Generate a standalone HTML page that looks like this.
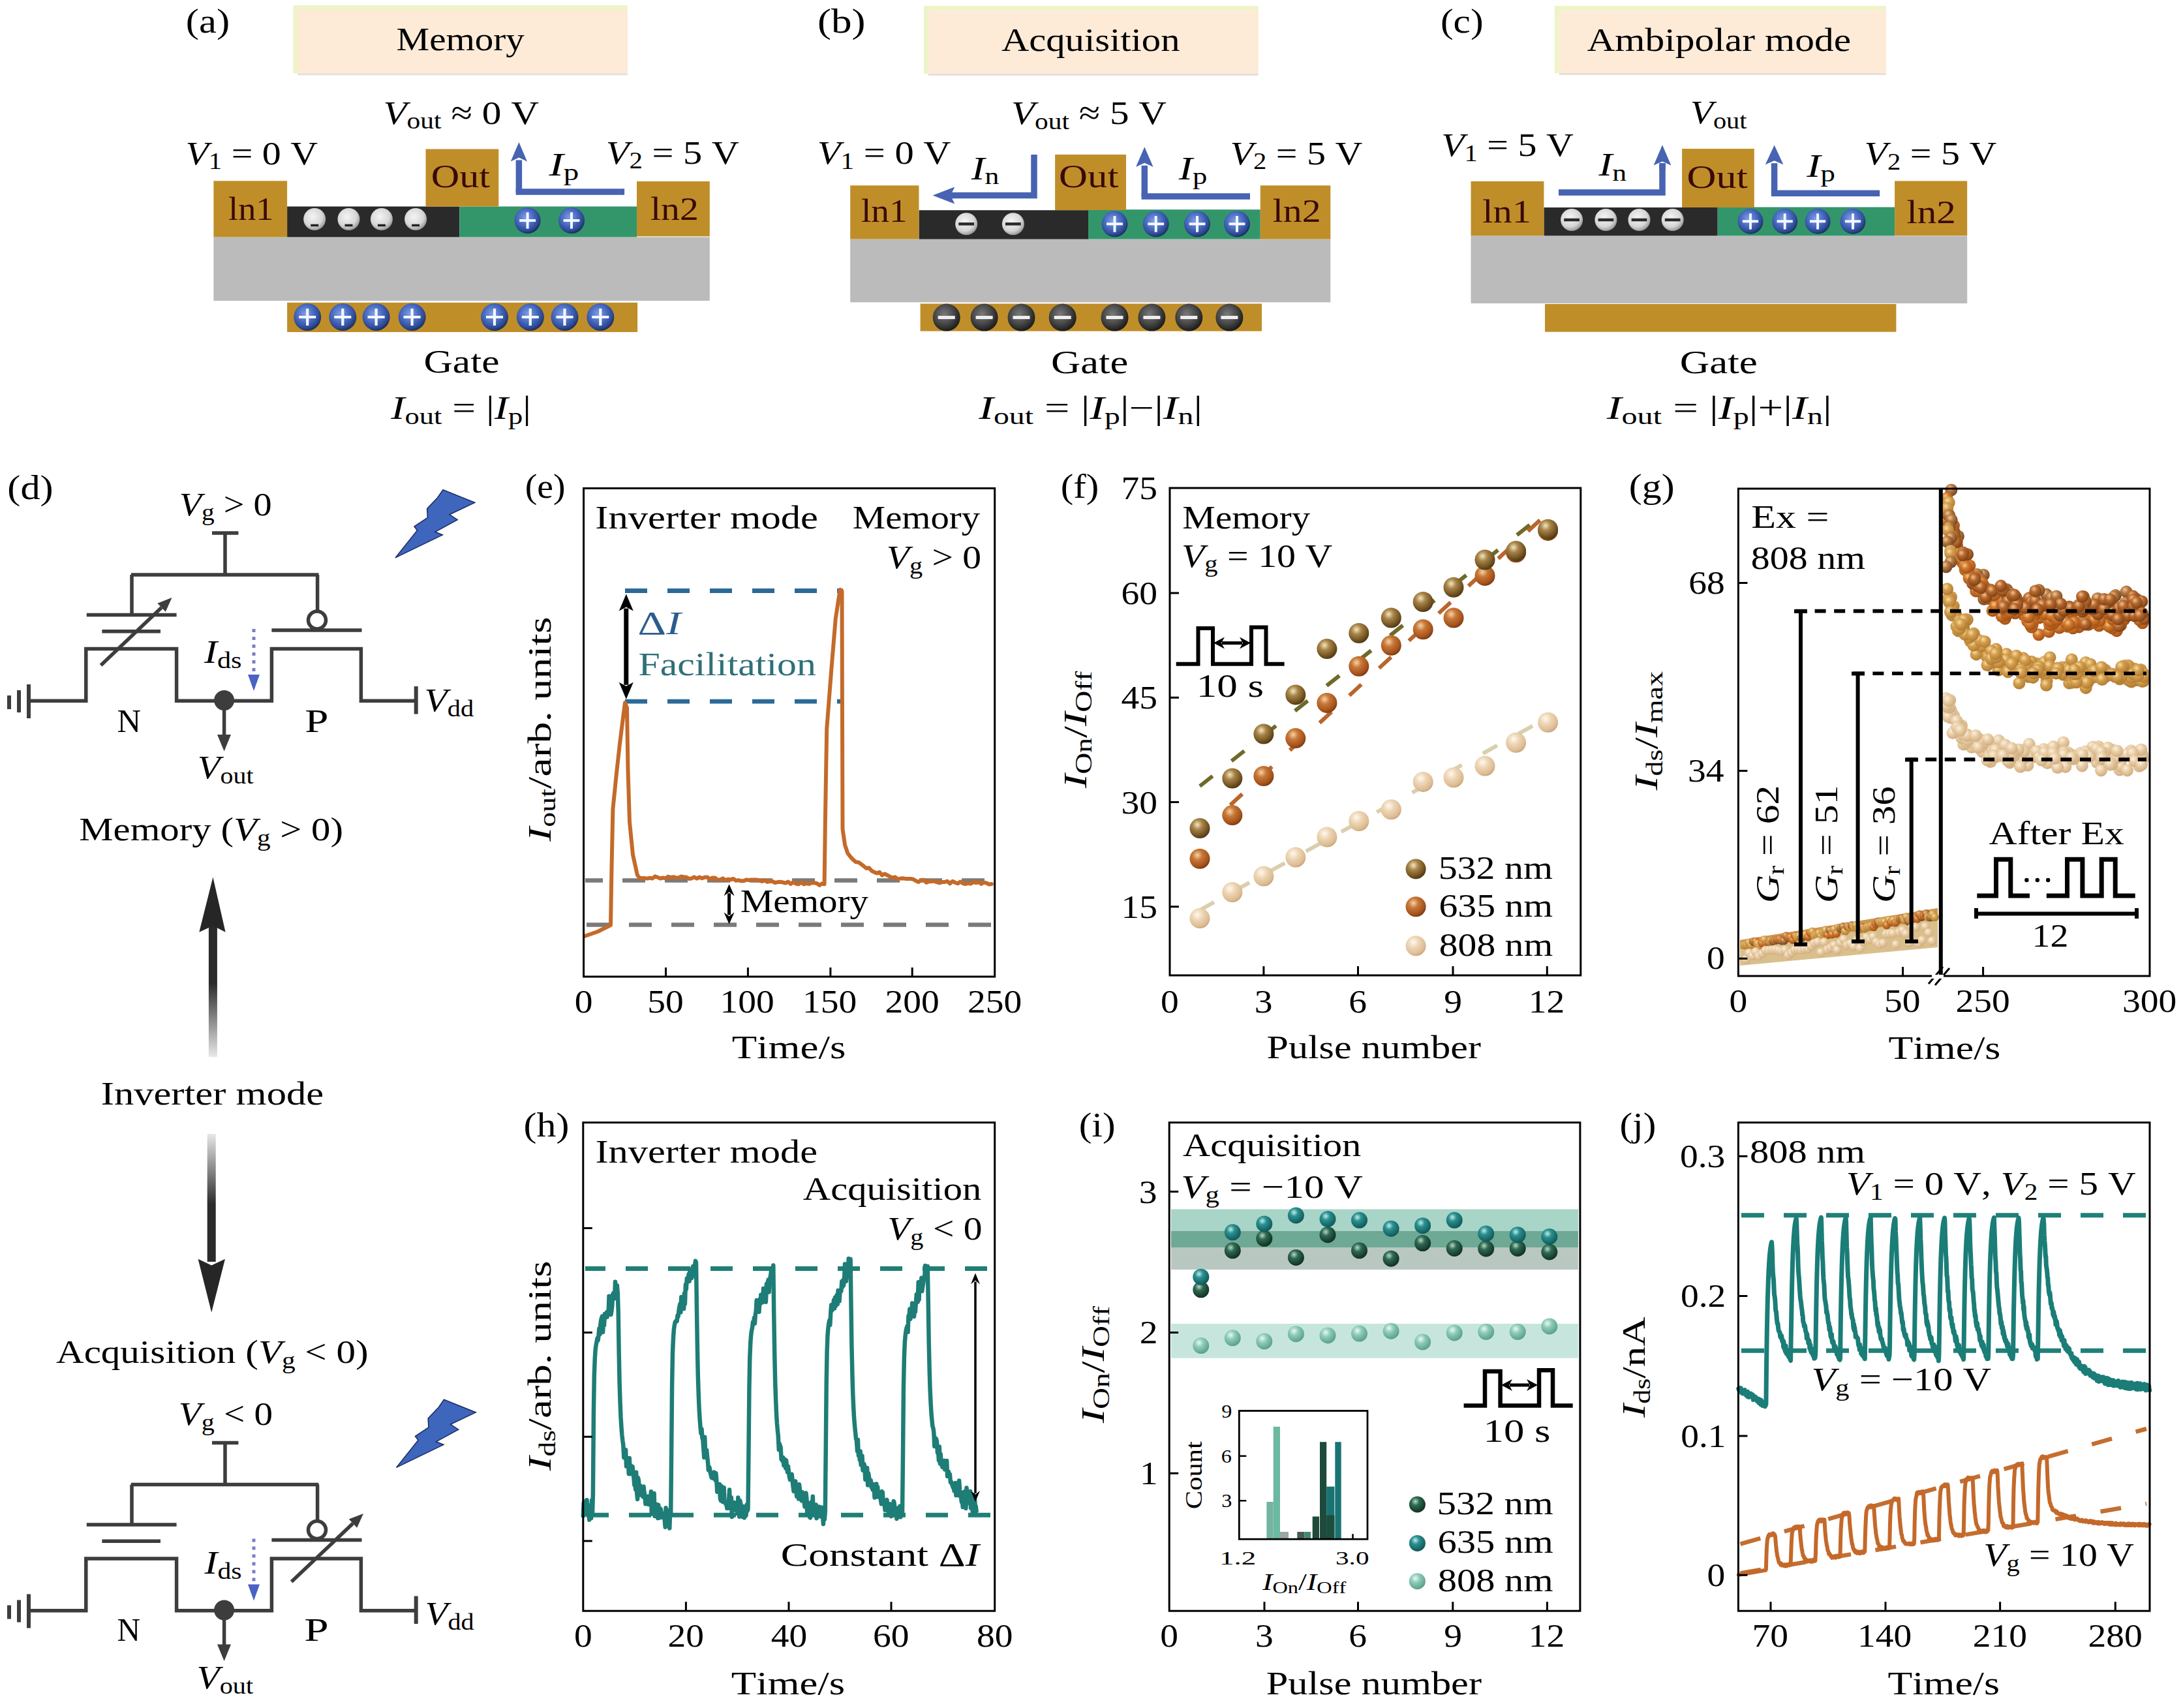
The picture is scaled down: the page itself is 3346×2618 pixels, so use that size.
<!DOCTYPE html>
<html><head><meta charset="utf-8"><title>figure</title>
<style>
html,body{margin:0;padding:0;background:#fff;}
svg{display:block;}
text{font-family:"Liberation Serif",serif;font-kerning:none;}
</style></head><body>
<svg width="3346" height="2618" viewBox="0 0 3346 2618">
<rect width="3346" height="2618" fill="#fff"/>
<defs>
<radialGradient id="gPlus" cx="0.42" cy="0.38" r="0.62">
 <stop offset="0" stop-color="#7f9ee8"/><stop offset="0.55" stop-color="#4466bb"/><stop offset="0.85" stop-color="#2c4890"/><stop offset="1" stop-color="#1d3060"/></radialGradient>
<radialGradient id="gWhite" cx="0.42" cy="0.38" r="0.62">
 <stop offset="0" stop-color="#f4f4f4"/><stop offset="0.7" stop-color="#d6d6d6"/><stop offset="1" stop-color="#9a9a9a"/></radialGradient>
<radialGradient id="gDark" cx="0.42" cy="0.38" r="0.62">
 <stop offset="0" stop-color="#7a7a7a"/><stop offset="0.6" stop-color="#454545"/><stop offset="1" stop-color="#1c1c1c"/></radialGradient>
<linearGradient id="gUp" x1="0" y1="0" x2="0" y2="1">
 <stop offset="0" stop-color="#2b2b2b"/><stop offset="0.45" stop-color="#2b2b2b"/><stop offset="1" stop-color="#e8e8e8"/></linearGradient>
<linearGradient id="gDn" x1="0" y1="0" x2="0" y2="1">
 <stop offset="0" stop-color="#e8e8e8"/><stop offset="0.55" stop-color="#2b2b2b"/><stop offset="1" stop-color="#2b2b2b"/></linearGradient>
<radialGradient id="b532" cx="0.38" cy="0.32" r="0.7">
 <stop offset="0" stop-color="#f3e6c0"/><stop offset="0.35" stop-color="#a88448"/><stop offset="0.8" stop-color="#6e5020"/><stop offset="1" stop-color="#4e3812"/></radialGradient>
<radialGradient id="b635" cx="0.38" cy="0.32" r="0.7">
 <stop offset="0" stop-color="#f6d2a8"/><stop offset="0.35" stop-color="#c87838"/><stop offset="0.8" stop-color="#a5521c"/><stop offset="1" stop-color="#7a3a10"/></radialGradient>
<radialGradient id="b808" cx="0.38" cy="0.32" r="0.7">
 <stop offset="0" stop-color="#fff8ee"/><stop offset="0.4" stop-color="#edd5b4"/><stop offset="0.85" stop-color="#dcbb92"/><stop offset="1" stop-color="#c8a47a"/></radialGradient>
<radialGradient id="gg1" cx="0.38" cy="0.32" r="0.7">
 <stop offset="0" stop-color="#f0c89a"/><stop offset="0.4" stop-color="#b87a40"/><stop offset="1" stop-color="#6e4422"/></radialGradient>
<radialGradient id="gg2" cx="0.38" cy="0.32" r="0.7">
 <stop offset="0" stop-color="#f6c890"/><stop offset="0.4" stop-color="#d0782c"/><stop offset="1" stop-color="#a04e14"/></radialGradient>
<radialGradient id="gg3" cx="0.38" cy="0.32" r="0.7">
 <stop offset="0" stop-color="#f8dca0"/><stop offset="0.4" stop-color="#d4a050"/><stop offset="1" stop-color="#b07a30"/></radialGradient>
<radialGradient id="gg5" cx="0.38" cy="0.32" r="0.7">
 <stop offset="0" stop-color="#f2c090"/><stop offset="0.4" stop-color="#b8682c"/><stop offset="1" stop-color="#7a4016"/></radialGradient>
<radialGradient id="gg4" cx="0.38" cy="0.32" r="0.7">
 <stop offset="0" stop-color="#fbefdc"/><stop offset="0.45" stop-color="#e8cca4"/><stop offset="1" stop-color="#d0ac80"/></radialGradient>
<radialGradient id="i532" cx="0.38" cy="0.32" r="0.7">
 <stop offset="0" stop-color="#b8d8c8"/><stop offset="0.35" stop-color="#2f6a52"/><stop offset="1" stop-color="#0f2e22"/></radialGradient>
<radialGradient id="i635" cx="0.38" cy="0.32" r="0.7">
 <stop offset="0" stop-color="#c0ecec"/><stop offset="0.35" stop-color="#2a9090"/><stop offset="1" stop-color="#105656"/></radialGradient>
<radialGradient id="i808" cx="0.38" cy="0.32" r="0.7">
 <stop offset="0" stop-color="#e8f8f2"/><stop offset="0.4" stop-color="#8ccab8"/><stop offset="1" stop-color="#5a9e8a"/></radialGradient>
</defs>
<rect x="449.3" y="8.2" width="512.7" height="104.1" fill="#eef4c8"/><rect x="456.3" y="15.2" width="505.7" height="97.1" fill="#fdebd8"/><rect x="456.3" y="112.3" width="505.7" height="3.0" fill="#e4e0dc"/><rect x="327.4" y="363.4" width="760.4" height="97.6" fill="#bbbbbb"/><rect x="440.1" y="463.8" width="537.0" height="45.2" fill="#bf8e29"/><rect x="440.1" y="316.5" width="264.2" height="46.9" fill="#2a2a2a"/><rect x="704.3" y="316.5" width="271.7" height="46.9" fill="#33966a"/><rect x="327.4" y="277.3" width="112.7" height="86.1" fill="#bf8e29"/><rect x="976.0" y="278.0" width="111.8" height="84.3" fill="#bf8e29"/><rect x="652.5" y="228.5" width="111.8" height="88.0" fill="#bf8e29"/><circle cx="482.2" cy="336.0" r="17.0" fill="url(#gWhite)"/><path d="M476.2 345.4H488.2" stroke="#222" stroke-width="3.5"/><circle cx="534.5" cy="336.0" r="17.0" fill="url(#gWhite)"/><path d="M528.5 345.4H540.5" stroke="#222" stroke-width="3.5"/><circle cx="584.9" cy="336.0" r="17.0" fill="url(#gWhite)"/><path d="M578.9 345.4H590.9" stroke="#222" stroke-width="3.5"/><circle cx="637.1" cy="336.0" r="17.0" fill="url(#gWhite)"/><path d="M631.1 345.4H643.1" stroke="#222" stroke-width="3.5"/><circle cx="808.6" cy="338.0" r="20.0" fill="url(#gPlus)"/><path d="M796.2 338.0H821.0M808.6 325.6V350.4" stroke="#f4f8ff" stroke-width="4.0"/><circle cx="876.0" cy="338.0" r="20.0" fill="url(#gPlus)"/><path d="M863.6 338.0H888.4M876.0 325.6V350.4" stroke="#f4f8ff" stroke-width="4.0"/><circle cx="471.2" cy="486.0" r="21.0" fill="url(#gPlus)"/><path d="M458.2 486.0H484.2M471.2 473.0V499.0" stroke="#f4f8ff" stroke-width="4.2"/><circle cx="525.3" cy="486.0" r="21.0" fill="url(#gPlus)"/><path d="M512.3 486.0H538.3M525.3 473.0V499.0" stroke="#f4f8ff" stroke-width="4.2"/><circle cx="576.6" cy="486.0" r="21.0" fill="url(#gPlus)"/><path d="M563.6 486.0H589.6M576.6 473.0V499.0" stroke="#f4f8ff" stroke-width="4.2"/><circle cx="631.6" cy="486.0" r="21.0" fill="url(#gPlus)"/><path d="M618.6 486.0H644.6M631.6 473.0V499.0" stroke="#f4f8ff" stroke-width="4.2"/><circle cx="758.0" cy="486.0" r="21.0" fill="url(#gPlus)"/><path d="M745.0 486.0H771.0M758.0 473.0V499.0" stroke="#f4f8ff" stroke-width="4.2"/><circle cx="812.8" cy="486.0" r="21.0" fill="url(#gPlus)"/><path d="M799.8 486.0H825.8M812.8 473.0V499.0" stroke="#f4f8ff" stroke-width="4.2"/><circle cx="865.5" cy="486.0" r="21.0" fill="url(#gPlus)"/><path d="M852.5 486.0H878.5M865.5 473.0V499.0" stroke="#f4f8ff" stroke-width="4.2"/><circle cx="920.3" cy="486.0" r="21.0" fill="url(#gPlus)"/><path d="M907.3 486.0H933.3M920.3 473.0V499.0" stroke="#f4f8ff" stroke-width="4.2"/><path d="M795.4 294.0V245.4" stroke="#4763b2" stroke-width="9.5"/><path d="M795.4 217.9L808.0 247.4L795.4 241.4L782.8 247.4Z" fill="#4763b2"/><path d="M790.6 294H957.1" stroke="#4763b2" stroke-width="9.5"/><g transform="translate(284.84,50.00) scale(1.1648,1)" fill="#000"><text x="0.00" y="0.00" font-size="52.00">(a)</text></g><g transform="translate(607.46,77.30) scale(1.1186,1)" fill="#000"><text x="0.00" y="0.00" font-size="51.00">Memory</text></g><g transform="translate(587.40,189.50) scale(1.1623,1)" fill="#000"><text x="0.00" y="0.00" font-size="51.00" font-style="italic">V</text><text x="31.15" y="7.65" font-size="35.70">out</text><text x="89.52" y="0.00" font-size="51.00">≈</text><text x="130.26" y="0.00" font-size="51.00">0</text><text x="168.51" y="0.00" font-size="51.00">V</text></g><g transform="translate(284.47,251.50) scale(1.1364,1)" fill="#000"><text x="0.00" y="0.00" font-size="51.00" font-style="italic">V</text><text x="31.15" y="7.65" font-size="35.70">1</text><text x="61.75" y="0.00" font-size="51.00">=</text><text x="103.27" y="0.00" font-size="51.00">0</text><text x="141.52" y="0.00" font-size="51.00">V</text></g><g transform="translate(928.75,250.60) scale(1.1456,1)" fill="#000"><text x="0.00" y="0.00" font-size="51.00" font-style="italic">V</text><text x="31.15" y="7.65" font-size="35.70">2</text><text x="61.75" y="0.00" font-size="51.00">=</text><text x="103.27" y="0.00" font-size="51.00">5</text><text x="141.52" y="0.00" font-size="51.00">V</text></g><g transform="translate(660.73,287.40) scale(1.1793,1)" fill="#3a0a08"><text x="0.00" y="0.00" font-size="51.00">Out</text></g><g transform="translate(350.11,336.90) scale(1.0657,1)" fill="#3a0a08"><text x="0.00" y="0.00" font-size="51.00">ln1</text></g><g transform="translate(997.04,337.00) scale(1.1348,1)" fill="#3a0a08"><text x="0.00" y="0.00" font-size="51.00">ln2</text></g><g transform="translate(841.46,268.50) scale(1.3170,1)" fill="#000"><text x="0.00" y="0.00" font-size="51.00" font-style="italic">I</text><text x="16.98" y="7.65" font-size="35.70">p</text></g><g transform="translate(649.48,571.20) scale(1.2055,1)" fill="#000"><text x="0.00" y="0.00" font-size="51.00">Gate</text></g><g transform="translate(599.25,642.10) scale(1.2482,1)" fill="#000"><text x="0.00" y="0.00" font-size="51.00" font-style="italic">I</text><text x="16.98" y="7.65" font-size="35.70">out</text><text x="75.35" y="0.00" font-size="51.00">=</text><text x="116.86" y="0.00" font-size="51.00">|</text><text x="127.07" y="0.00" font-size="51.00" font-style="italic">I</text><text x="144.06" y="7.65" font-size="35.70">p</text><text x="161.91" y="0.00" font-size="51.00">|</text></g><rect x="1416.0" y="9.0" width="512.5" height="104.0" fill="#eef4c8"/><rect x="1423.0" y="16.0" width="505.5" height="97.0" fill="#fdebd8"/><rect x="1423.0" y="113.0" width="505.5" height="3.0" fill="#e4e0dc"/><rect x="1303.2" y="366.5" width="736.1" height="96.9" fill="#bbbbbb"/><rect x="1410.6" y="465.5" width="523.4" height="42.1" fill="#bf8e29"/><rect x="1408.5" y="322.2" width="259.5" height="44.4" fill="#2a2a2a"/><rect x="1668.0" y="321.2" width="263.8" height="45.3" fill="#33966a"/><rect x="1303.2" y="284.3" width="105.3" height="82.2" fill="#bf8e29"/><rect x="1931.8" y="284.3" width="107.5" height="82.2" fill="#bf8e29"/><rect x="1617.1" y="236.9" width="108.9" height="85.1" fill="#bf8e29"/><circle cx="1481.2" cy="343.3" r="17.0" fill="url(#gWhite)"/><path d="M1469.3 343.3H1493.1" stroke="#2a2a2a" stroke-width="4.5"/><circle cx="1552.9" cy="343.3" r="17.0" fill="url(#gWhite)"/><path d="M1541.0 343.3H1564.8" stroke="#2a2a2a" stroke-width="4.5"/><circle cx="1708.5" cy="343.3" r="20.0" fill="url(#gPlus)"/><path d="M1696.1 343.3H1720.9M1708.5 330.9V355.7" stroke="#f4f8ff" stroke-width="4.0"/><circle cx="1771.7" cy="343.3" r="20.0" fill="url(#gPlus)"/><path d="M1759.3 343.3H1784.1M1771.7 330.9V355.7" stroke="#f4f8ff" stroke-width="4.0"/><circle cx="1835.0" cy="343.3" r="20.0" fill="url(#gPlus)"/><path d="M1822.6 343.3H1847.4M1835.0 330.9V355.7" stroke="#f4f8ff" stroke-width="4.0"/><circle cx="1896.0" cy="343.3" r="20.0" fill="url(#gPlus)"/><path d="M1883.6 343.3H1908.4M1896.0 330.9V355.7" stroke="#f4f8ff" stroke-width="4.0"/><circle cx="1450.7" cy="486.6" r="21.0" fill="url(#gDark)"/><path d="M1437.7 486.6H1463.7" stroke="#f0f0f0" stroke-width="5"/><circle cx="1508.6" cy="486.6" r="21.0" fill="url(#gDark)"/><path d="M1495.6 486.6H1521.6" stroke="#f0f0f0" stroke-width="5"/><circle cx="1565.5" cy="486.6" r="21.0" fill="url(#gDark)"/><path d="M1552.5 486.6H1578.5" stroke="#f0f0f0" stroke-width="5"/><circle cx="1628.7" cy="486.6" r="21.0" fill="url(#gDark)"/><path d="M1615.7 486.6H1641.7" stroke="#f0f0f0" stroke-width="5"/><circle cx="1708.5" cy="486.6" r="21.0" fill="url(#gDark)"/><path d="M1695.5 486.6H1721.5" stroke="#f0f0f0" stroke-width="5"/><circle cx="1765.4" cy="486.6" r="21.0" fill="url(#gDark)"/><path d="M1752.4 486.6H1778.4" stroke="#f0f0f0" stroke-width="5"/><circle cx="1822.3" cy="486.6" r="21.0" fill="url(#gDark)"/><path d="M1809.3 486.6H1835.3" stroke="#f0f0f0" stroke-width="5"/><circle cx="1884.4" cy="486.6" r="21.0" fill="url(#gDark)"/><path d="M1871.4 486.6H1897.4" stroke="#f0f0f0" stroke-width="5"/><path d="M1585 236.9V299.6H1450" stroke="#4763b2" stroke-width="9.5" fill="none"/><path d="M1429.6 299.6L1463.3 286.6L1457 299.6L1463.3 312.6Z" fill="#4763b2"/><path d="M1754.3 301.0V253.8" stroke="#4763b2" stroke-width="9.5"/><path d="M1754.3 225.3L1767.5 255.8L1754.3 249.8L1741.1 255.8Z" fill="#4763b2"/><path d="M1749.6 301H1916" stroke="#4763b2" stroke-width="9.5"/><g transform="translate(1253.03,50.00) scale(1.2129,1)" fill="#000"><text x="0.00" y="0.00" font-size="52.00">(b)</text></g><g transform="translate(1534.93,78.00) scale(1.1495,1)" fill="#000"><text x="0.00" y="0.00" font-size="51.00">Acquisition</text></g><g transform="translate(1549.91,190.00) scale(1.1598,1)" fill="#000"><text x="0.00" y="0.00" font-size="51.00" font-style="italic">V</text><text x="31.15" y="7.65" font-size="35.70">out</text><text x="89.52" y="0.00" font-size="51.00">≈</text><text x="130.26" y="0.00" font-size="51.00">5</text><text x="168.51" y="0.00" font-size="51.00">V</text></g><g transform="translate(1252.74,251.00) scale(1.1490,1)" fill="#000"><text x="0.00" y="0.00" font-size="51.00" font-style="italic">V</text><text x="31.15" y="7.65" font-size="35.70">1</text><text x="61.75" y="0.00" font-size="51.00">=</text><text x="103.27" y="0.00" font-size="51.00">0</text><text x="141.52" y="0.00" font-size="51.00">V</text></g><g transform="translate(1885.57,251.60) scale(1.1376,1)" fill="#000"><text x="0.00" y="0.00" font-size="51.00" font-style="italic">V</text><text x="31.15" y="7.65" font-size="35.70">2</text><text x="61.75" y="0.00" font-size="51.00">=</text><text x="103.27" y="0.00" font-size="51.00">5</text><text x="141.52" y="0.00" font-size="51.00">V</text></g><g transform="translate(1623.10,287.40) scale(1.1928,1)" fill="#3a0a08"><text x="0.00" y="0.00" font-size="51.00">Out</text></g><g transform="translate(1319.89,340.10) scale(1.0886,1)" fill="#3a0a08"><text x="0.00" y="0.00" font-size="51.00">ln1</text></g><g transform="translate(1950.74,340.10) scale(1.1331,1)" fill="#3a0a08"><text x="0.00" y="0.00" font-size="51.00">ln2</text></g><g transform="translate(1488.84,274.80) scale(1.2235,1)" fill="#000"><text x="0.00" y="0.00" font-size="51.00" font-style="italic">I</text><text x="16.98" y="7.65" font-size="35.70">n</text></g><g transform="translate(1806.75,274.80) scale(1.2516,1)" fill="#000"><text x="0.00" y="0.00" font-size="51.00" font-style="italic">I</text><text x="16.98" y="7.65" font-size="35.70">p</text></g><g transform="translate(1611.03,572.00) scale(1.2271,1)" fill="#000"><text x="0.00" y="0.00" font-size="51.00">Gate</text></g><g transform="translate(1500.27,642.10) scale(1.3386,1)" fill="#000"><text x="0.00" y="0.00" font-size="51.00" font-style="italic">I</text><text x="16.98" y="7.65" font-size="35.70">out</text><text x="75.35" y="0.00" font-size="51.00">=</text><text x="116.86" y="0.00" font-size="51.00">|</text><text x="127.07" y="0.00" font-size="51.00" font-style="italic">I</text><text x="144.06" y="7.65" font-size="35.70">p</text><text x="161.91" y="0.00" font-size="51.00">|−|</text><text x="211.09" y="0.00" font-size="51.00" font-style="italic">I</text><text x="228.07" y="7.65" font-size="35.70">n</text><text x="245.92" y="0.00" font-size="51.00">|</text></g><rect x="2382.8" y="9.0" width="507.9" height="103.0" fill="#eef4c8"/><rect x="2389.8" y="16.0" width="500.9" height="96.0" fill="#fdebd8"/><rect x="2389.8" y="112.0" width="500.9" height="3.0" fill="#e4e0dc"/><rect x="2254.5" y="361.3" width="760.7" height="103.7" fill="#bbbbbb"/><rect x="2368.0" y="466.0" width="538.4" height="42.7" fill="#bf8e29"/><rect x="2366.4" y="318.0" width="266.3" height="43.3" fill="#2a2a2a"/><rect x="2632.7" y="317.5" width="271.4" height="43.8" fill="#33966a"/><rect x="2254.5" y="277.9" width="111.9" height="83.4" fill="#bf8e29"/><rect x="2904.1" y="277.4" width="111.1" height="83.6" fill="#bf8e29"/><rect x="2578.1" y="228.0" width="110.7" height="90.0" fill="#bf8e29"/><circle cx="2409.1" cy="337.0" r="17.0" fill="url(#gWhite)"/><path d="M2397.2 337.0H2421.0" stroke="#2a2a2a" stroke-width="4.5"/><circle cx="2461.4" cy="337.0" r="17.0" fill="url(#gWhite)"/><path d="M2449.5 337.0H2473.3" stroke="#2a2a2a" stroke-width="4.5"/><circle cx="2512.5" cy="337.0" r="17.0" fill="url(#gWhite)"/><path d="M2500.6 337.0H2524.4" stroke="#2a2a2a" stroke-width="4.5"/><circle cx="2563.7" cy="337.0" r="17.0" fill="url(#gWhite)"/><path d="M2551.8 337.0H2575.6" stroke="#2a2a2a" stroke-width="4.5"/><circle cx="2683.0" cy="339.3" r="19.5" fill="url(#gPlus)"/><path d="M2670.9 339.3H2695.1M2683.0 327.2V351.4" stroke="#f4f8ff" stroke-width="3.9"/><circle cx="2735.7" cy="339.3" r="19.5" fill="url(#gPlus)"/><path d="M2723.6 339.3H2747.8M2735.7 327.2V351.4" stroke="#f4f8ff" stroke-width="3.9"/><circle cx="2786.1" cy="339.3" r="19.5" fill="url(#gPlus)"/><path d="M2774.0 339.3H2798.2M2786.1 327.2V351.4" stroke="#f4f8ff" stroke-width="3.9"/><circle cx="2840.0" cy="339.3" r="19.5" fill="url(#gPlus)"/><path d="M2827.9 339.3H2852.1M2840.0 327.2V351.4" stroke="#f4f8ff" stroke-width="3.9"/><path d="M2389 295H2548V250" stroke="#4763b2" stroke-width="9.5" fill="none"/><path d="M2548.0 260.0V251.4" stroke="#4763b2" stroke-width="9.5"/><path d="M2548.0 222.3L2561.4 253.4L2548.0 247.4L2534.6 253.4Z" fill="#4763b2"/><path d="M2719.6 296.3V250.2" stroke="#4763b2" stroke-width="9.5"/><path d="M2719.6 222.5L2733.4 252.2L2719.6 246.2L2705.8 252.2Z" fill="#4763b2"/><path d="M2714.9 296.3H2881.2" stroke="#4763b2" stroke-width="9.5"/><g transform="translate(2207.90,50.00) scale(1.1384,1)" fill="#000"><text x="0.00" y="0.00" font-size="52.00">(c)</text></g><g transform="translate(2432.42,78.00) scale(1.1661,1)" fill="#000"><text x="0.00" y="0.00" font-size="51.00">Ambipolar</text><text x="233.71" y="0.00" font-size="51.00">mode</text></g><g transform="translate(2590.69,189.20) scale(1.1313,1)" fill="#000"><text x="0.00" y="0.00" font-size="51.00" font-style="italic">V</text><text x="31.15" y="7.65" font-size="35.70">out</text></g><g transform="translate(2209.17,239.00) scale(1.1370,1)" fill="#000"><text x="0.00" y="0.00" font-size="51.00" font-style="italic">V</text><text x="31.15" y="7.65" font-size="35.70">1</text><text x="61.75" y="0.00" font-size="51.00">=</text><text x="103.27" y="0.00" font-size="51.00">5</text><text x="141.52" y="0.00" font-size="51.00">V</text></g><g transform="translate(2857.57,252.20) scale(1.1376,1)" fill="#000"><text x="0.00" y="0.00" font-size="51.00" font-style="italic">V</text><text x="31.15" y="7.65" font-size="35.70">2</text><text x="61.75" y="0.00" font-size="51.00">=</text><text x="103.27" y="0.00" font-size="51.00">5</text><text x="141.52" y="0.00" font-size="51.00">V</text></g><g transform="translate(2585.45,287.80) scale(1.2212,1)" fill="#3a0a08"><text x="0.00" y="0.00" font-size="51.00">Out</text></g><g transform="translate(2272.23,341.30) scale(1.1476,1)" fill="#3a0a08"><text x="0.00" y="0.00" font-size="51.00">ln1</text></g><g transform="translate(2922.42,341.60) scale(1.1576,1)" fill="#3a0a08"><text x="0.00" y="0.00" font-size="51.00">ln2</text></g><g transform="translate(2450.44,269.00) scale(1.2264,1)" fill="#000"><text x="0.00" y="0.00" font-size="51.00" font-style="italic">I</text><text x="16.98" y="7.65" font-size="35.70">n</text></g><g transform="translate(2769.25,270.60) scale(1.2575,1)" fill="#000"><text x="0.00" y="0.00" font-size="51.00" font-style="italic">I</text><text x="16.98" y="7.65" font-size="35.70">p</text></g><g transform="translate(2574.71,572.00) scale(1.2379,1)" fill="#000"><text x="0.00" y="0.00" font-size="51.00">Gate</text></g><g transform="translate(2462.67,642.10) scale(1.3473,1)" fill="#000"><text x="0.00" y="0.00" font-size="51.00" font-style="italic">I</text><text x="16.98" y="7.65" font-size="35.70">out</text><text x="75.35" y="0.00" font-size="51.00">=</text><text x="116.86" y="0.00" font-size="51.00">|</text><text x="127.07" y="0.00" font-size="51.00" font-style="italic">I</text><text x="144.06" y="7.65" font-size="35.70">p</text><text x="161.91" y="0.00" font-size="51.00">|+|</text><text x="211.09" y="0.00" font-size="51.00" font-style="italic">I</text><text x="228.07" y="7.65" font-size="35.70">n</text><text x="245.92" y="0.00" font-size="51.00">|</text></g>
<g transform="translate(11.35,765.00) scale(1.1594,1)" fill="#000"><text x="0.00" y="0.00" font-size="52.00">(d)</text></g><g transform="translate(0,0.0)"><path d="M325 817H365.4M345 817V881M201 881H488.4M202 881V942.5M132.8 942.5H270.6M156.4 967.7H246M416.4 966H554.5M486.6 881V935" stroke="#3d3d3d" stroke-width="5.5" fill="none"/><path d="M45.7 1074.2H131.8V994.4H270.6V1074.2H416.4V994.4H553.4V1074.2H637.7" stroke="#3d3d3d" stroke-width="5.5" fill="none" stroke-linejoin="miter"/><path d="M637.7 1052V1094.5" stroke="#3d3d3d" stroke-width="6"/><path d="M44 1049V1101M29 1058V1092M14 1066V1087" stroke="#3d3d3d" stroke-width="6"/><circle cx="486" cy="950.5" r="13.5" stroke="#3d3d3d" stroke-width="5.5" fill="none"/><circle cx="343.6" cy="1073.5" r="15.5" fill="#3d3d3d"/><path d="M343.6 1073V1132" stroke="#3d3d3d" stroke-width="5.5"/><path d="M333 1126L354 1126L343.6 1151.5Z" fill="#3d3d3d"/><path d="M154.6 1019.7L247.6 931.2" stroke="#3d3d3d" stroke-width="5.5"/><path d="M263.5 916.0L253.8 937.7L241.4 924.7Z" fill="#3d3d3d"/><path d="M389 964V1036" stroke="#7c7cc8" stroke-width="5" stroke-dasharray="5 7"/><path d="M380 1034L398 1034L389 1059Z" fill="#4a62c4"/></g><polygon points="679.0,750.7 727.7,770.4 689.0,788.7 701.1,796.7 666.9,815.3 678.3,819.9 606.0,854.9 639.5,813.0 635.0,807.0 655.4,793.3 654.7,779.6 670.7,762.8" fill="#3e66bd" stroke="#1f2f66" stroke-width="1.6" stroke-linejoin="miter"/><g transform="translate(274.66,789.60) scale(1.1034,1)" fill="#000"><text x="0.00" y="0.00" font-size="51.00" font-style="italic">V</text><text x="31.15" y="7.65" font-size="35.70">g</text><text x="61.75" y="0.00" font-size="51.00">&gt;</text><text x="103.27" y="0.00" font-size="51.00">0</text></g><g transform="translate(312.94,1016.00) scale(1.1819,1)" fill="#000"><text x="0.00" y="0.00" font-size="51.00" font-style="italic">I</text><text x="16.98" y="7.65" font-size="35.70">ds</text></g><g transform="translate(179.54,1121.60) scale(0.9944,1)" fill="#000"><text x="0.00" y="0.00" font-size="51.00">N</text></g><g transform="translate(467.13,1121.60) scale(1.2755,1)" fill="#000"><text x="0.00" y="0.00" font-size="51.00">P</text></g><g transform="translate(650.49,1090.00) scale(1.1309,1)" fill="#000"><text x="0.00" y="0.00" font-size="51.00" font-style="italic">V</text><text x="31.15" y="7.65" font-size="35.70">dd</text></g><g transform="translate(302.72,1193.00) scale(1.1178,1)" fill="#000"><text x="0.00" y="0.00" font-size="51.00" font-style="italic">V</text><text x="31.15" y="7.65" font-size="35.70">out</text></g><g transform="translate(121.31,1288.00) scale(1.1528,1)" fill="#000"><text x="0.00" y="0.00" font-size="51.00">Memory</text><text x="188.39" y="0.00" font-size="51.00">(</text><text x="205.37" y="0.00" font-size="51.00" font-style="italic">V</text><text x="236.52" y="7.65" font-size="35.70">g</text><text x="267.12" y="0.00" font-size="51.00">&gt;</text><text x="308.63" y="0.00" font-size="51.00">0)</text></g><rect x="319.9" y="1415" width="13" height="205" fill="url(#gUp)"/><path d="M326.4 1344.5L345.6 1428.8L326.4 1419L305.3 1428.8Z" fill="#262626"/><g transform="translate(154.71,1693.40) scale(1.1877,1)" fill="#000"><text x="0.00" y="0.00" font-size="51.00">Inverter</text><text x="174.14" y="0.00" font-size="51.00">mode</text></g><rect x="317.7" y="1738" width="13" height="196" fill="url(#gDn)"/><path d="M324.2 2011.8L345 1929.8L324.2 1939.5L303.6 1929.8Z" fill="#262626"/><g transform="translate(86.02,2089.00) scale(1.1574,1)" fill="#000"><text x="0.00" y="0.00" font-size="51.00">Acquisition</text><text x="250.74" y="0.00" font-size="51.00">(</text><text x="267.73" y="0.00" font-size="51.00" font-style="italic">V</text><text x="298.88" y="7.65" font-size="35.70">g</text><text x="329.48" y="0.00" font-size="51.00">&lt;</text><text x="370.99" y="0.00" font-size="51.00">0)</text></g><g transform="translate(0,1394.5)"><path d="M325 817H365.4M345 817V881M201 881H488.4M202 881V942.5M132.8 942.5H270.6M156.4 967.7H246M416.4 966H554.5M486.6 881V935" stroke="#3d3d3d" stroke-width="5.5" fill="none"/><path d="M45.7 1074.2H131.8V994.4H270.6V1074.2H416.4V994.4H553.4V1074.2H637.7" stroke="#3d3d3d" stroke-width="5.5" fill="none" stroke-linejoin="miter"/><path d="M637.7 1052V1094.5" stroke="#3d3d3d" stroke-width="6"/><path d="M44 1049V1101M29 1058V1092M14 1066V1087" stroke="#3d3d3d" stroke-width="6"/><circle cx="486" cy="950.5" r="13.5" stroke="#3d3d3d" stroke-width="5.5" fill="none"/><circle cx="343.6" cy="1073.5" r="15.5" fill="#3d3d3d"/><path d="M343.6 1073V1132" stroke="#3d3d3d" stroke-width="5.5"/><path d="M333 1126L354 1126L343.6 1151.5Z" fill="#3d3d3d"/><path d="M446.7 1030.0L541.0 940.6" stroke="#3d3d3d" stroke-width="5.5"/><path d="M557.0 925.5L547.2 947.2L534.8 934.1Z" fill="#3d3d3d"/><path d="M389 964V1036" stroke="#7c7cc8" stroke-width="5" stroke-dasharray="5 7"/><path d="M380 1034L398 1034L389 1059Z" fill="#4a62c4"/></g><polygon points="680.5,2145.2 729.2,2164.9 690.5,2183.2 702.6,2191.2 668.4,2209.8 679.8,2214.4 607.5,2249.4 641.0,2207.5 636.5,2201.5 656.9,2187.8 656.2,2174.1 672.2,2157.3" fill="#3e66bd" stroke="#1f2f66" stroke-width="1.6" stroke-linejoin="miter"/><g transform="translate(273.81,2184.00) scale(1.1212,1)" fill="#000"><text x="0.00" y="0.00" font-size="51.00" font-style="italic">V</text><text x="31.15" y="7.65" font-size="35.70">g</text><text x="61.75" y="0.00" font-size="51.00">&lt;</text><text x="103.27" y="0.00" font-size="51.00">0</text></g><g transform="translate(313.53,2412.00) scale(1.1693,1)" fill="#000"><text x="0.00" y="0.00" font-size="51.00" font-style="italic">I</text><text x="16.98" y="7.65" font-size="35.70">ds</text></g><g transform="translate(179.58,2514.80) scale(0.9652,1)" fill="#000"><text x="0.00" y="0.00" font-size="51.00">N</text></g><g transform="translate(466.26,2514.80) scale(1.3198,1)" fill="#000"><text x="0.00" y="0.00" font-size="51.00">P</text></g><g transform="translate(651.51,2490.40) scale(1.1215,1)" fill="#000"><text x="0.00" y="0.00" font-size="51.00" font-style="italic">V</text><text x="31.15" y="7.65" font-size="35.70">dd</text></g><g transform="translate(301.59,2588.00) scale(1.1286,1)" fill="#000"><text x="0.00" y="0.00" font-size="51.00" font-style="italic">V</text><text x="31.15" y="7.65" font-size="35.70">out</text></g>
<g transform="translate(804.75,763.00) scale(1.0726,1)" fill="#000"><text x="0.00" y="0.00" font-size="52.00">(e)</text></g><path d="M958 905.5H1292M958 1075.2H1292" stroke="#2b6a98" stroke-width="6.8" stroke-dasharray="34 31"/><path d="M897 1349.5H1522" stroke="#7a7a7a" stroke-width="6.5" stroke-dasharray="35 30" stroke-dashoffset="8"/><path d="M899 1417.4H1522" stroke="#7a7a7a" stroke-width="6.5" stroke-dasharray="35 30"/><polyline points="896.0,1435.0 916.0,1428.0 936.0,1418.0 937.5,1330.0 939.4,1240.0 945.0,1185.0 950.0,1140.0 955.0,1100.0 958.0,1077.0 961.0,1085.0 962.5,1180.0 965.0,1260.0 970.0,1310.0 976.8,1341.0 980.0,1345.4 984.0,1345.9 988.0,1346.0 992.0,1346.6 996.0,1345.8 1000.0,1346.5 1004.0,1343.2 1008.0,1344.8 1012.0,1346.5 1016.0,1345.5 1020.0,1346.4 1024.0,1343.6 1028.0,1344.9 1032.0,1344.1 1036.0,1345.2 1040.0,1345.4 1044.0,1343.4 1048.0,1344.2 1052.0,1344.5 1056.0,1346.9 1060.0,1346.4 1064.0,1344.3 1068.0,1346.7 1072.0,1344.5 1076.0,1346.3 1080.0,1344.7 1084.0,1344.4 1088.0,1347.6 1092.0,1345.4 1096.0,1345.6 1100.0,1348.5 1104.0,1348.3 1108.0,1346.4 1112.0,1349.0 1116.0,1347.7 1120.0,1348.4 1124.0,1346.9 1128.0,1349.8 1132.0,1349.1 1136.0,1350.3 1140.0,1350.3 1144.0,1348.4 1148.0,1348.9 1152.0,1348.4 1156.0,1348.6 1160.0,1348.6 1164.0,1349.7 1168.0,1351.0 1172.0,1349.1 1176.0,1351.8 1180.0,1350.8 1184.0,1350.9 1188.0,1353.0 1192.0,1352.1 1196.0,1351.7 1200.0,1352.5 1204.0,1353.6 1208.0,1351.5 1212.0,1355.0 1216.0,1351.8 1220.0,1354.6 1224.0,1355.2 1228.0,1352.4 1232.0,1355.3 1236.0,1354.0 1240.0,1354.9 1244.0,1353.1 1248.0,1353.3 1252.0,1354.0 1256.0,1356.9 1260.0,1354.3 1263.6,1355.3 1265.0,1250.0 1267.2,1117.8 1274.0,1030.0 1280.8,948.0 1287.6,903.8 1290.5,906.0 1291.0,1100.0 1291.5,1270.7 1295.0,1295.0 1299.4,1308.0 1304.0,1313.9 1308.0,1318.1 1312.0,1321.3 1316.0,1321.8 1320.0,1324.6 1324.0,1327.7 1328.0,1331.0 1332.0,1330.3 1336.0,1334.8 1340.0,1336.7 1344.0,1338.5 1348.0,1336.7 1352.0,1341.6 1356.0,1339.4 1360.0,1341.5 1364.0,1343.6 1368.0,1345.7 1372.0,1344.3 1376.0,1347.4 1380.0,1346.6 1384.0,1346.3 1388.0,1346.9 1392.0,1346.9 1396.0,1347.0 1400.0,1347.7 1404.0,1350.3 1408.0,1351.9 1412.0,1348.9 1416.0,1348.8 1420.0,1352.8 1424.0,1351.3 1428.0,1351.0 1432.0,1350.6 1436.0,1352.2 1440.0,1353.3 1444.0,1352.0 1448.0,1352.0 1452.0,1350.7 1456.0,1354.3 1460.0,1350.8 1464.0,1352.8 1468.0,1354.3 1472.0,1351.5 1476.0,1354.0 1480.0,1355.0 1484.0,1353.8 1488.0,1354.5 1492.0,1351.8 1496.0,1353.2 1500.0,1352.1 1504.0,1354.9 1508.0,1352.7 1512.0,1353.4 1516.0,1355.6 1520.0,1355.1" fill="none" stroke="#c46a2a" stroke-width="6.0" stroke-linejoin="round" stroke-linecap="round"/><path d="M959.8 932.6V1049.8" stroke="#000" stroke-width="7.0"/><path d="M959.8 910.6L970.8 936.6L959.8 930.6L948.8 936.6Z" fill="#000"/><path d="M959.8 1071.8L970.8 1045.8L959.8 1051.8L948.8 1045.8Z" fill="#000"/><path d="M1117.6 1369.3V1402.4" stroke="#000" stroke-width="5.0"/><path d="M1117.6 1355.3L1125.6 1373.3L1117.6 1367.3L1109.6 1373.3Z" fill="#000"/><path d="M1117.6 1416.4L1125.6 1398.4L1117.6 1404.4L1109.6 1398.4Z" fill="#000"/><g transform="translate(977.62,971.70) scale(1.3285,1)" fill="#2a5d8f"><text x="0.00" y="0.00" font-size="51.00">Δ</text><text x="32.80" y="0.00" font-size="51.00" font-style="italic">I</text></g><g transform="translate(978.48,1034.50) scale(1.1728,1)" fill="#2f7078"><text x="0.00" y="0.00" font-size="51.00">Facilitation</text></g><g transform="translate(1134.66,1397.70) scale(1.1180,1)" fill="#000"><text x="0.00" y="0.00" font-size="51.00">Memory</text></g><g transform="translate(912.21,809.60) scale(1.1894,1)" fill="#000"><text x="0.00" y="0.00" font-size="51.00">Inverter</text><text x="174.14" y="0.00" font-size="51.00">mode</text></g><g transform="translate(1306.66,809.60) scale(1.1134,1)" fill="#000"><text x="0.00" y="0.00" font-size="51.00">Memory</text></g><g transform="translate(1358.69,871.40) scale(1.1300,1)" fill="#000"><text x="0.00" y="0.00" font-size="51.00" font-style="italic">V</text><text x="31.15" y="7.65" font-size="35.70">g</text><text x="61.75" y="0.00" font-size="51.00">&gt;</text><text x="103.27" y="0.00" font-size="51.00">0</text></g><rect x="894.6" y="748.5" width="630.1" height="748.5" fill="none" stroke="#000" stroke-width="3.0"/><path d="M1020.5 1497.0V1483.0M1146.4 1497.0V1483.0M1272.9 1497.0V1483.0M1398.2 1497.0V1483.0" stroke="#000" stroke-width="3.0"/><g transform="translate(880.73,1551.50) scale(1.1100,1)" fill="#000"><text x="0.00" y="0.00" font-size="50.00">0</text></g><g transform="translate(992.19,1551.50) scale(1.1100,1)" fill="#000"><text x="0.00" y="0.00" font-size="50.00">50</text></g><g transform="translate(1103.39,1551.50) scale(1.1100,1)" fill="#000"><text x="0.00" y="0.00" font-size="50.00">100</text></g><g transform="translate(1229.89,1551.50) scale(1.1100,1)" fill="#000"><text x="0.00" y="0.00" font-size="50.00">150</text></g><g transform="translate(1356.41,1551.50) scale(1.1100,1)" fill="#000"><text x="0.00" y="0.00" font-size="50.00">200</text></g><g transform="translate(1482.91,1551.50) scale(1.1100,1)" fill="#000"><text x="0.00" y="0.00" font-size="50.00">250</text></g><g transform="translate(1121.66,1621.70) scale(1.2342,1)" fill="#000"><text x="0.00" y="0.00" font-size="51.00">Time/s</text></g><g transform="translate(843.50,1290.00) rotate(-90) scale(1.2916,1) translate(0.20,0)" fill="#000"><text x="0.00" y="0.00" font-size="51.00" font-style="italic">I</text><text x="16.98" y="7.65" font-size="35.70">out</text><text x="62.60" y="0.00" font-size="51.00">/arb.</text><text x="167.39" y="0.00" font-size="51.00">units</text></g>
<g transform="translate(1625.82,763.00) scale(1.1271,1)" fill="#000"><text x="0.00" y="0.00" font-size="52.00">(f)</text></g><path d="M1839 1395L2372 1100" stroke="#d9cfae" stroke-width="6" stroke-dasharray="25 37"/><path d="M1839 1205L2372 783" stroke="#6f6a2a" stroke-width="6" stroke-dasharray="25 37"/><path d="M1885.7 1234L2377 782" stroke="#b8662c" stroke-width="6" stroke-dasharray="25 37"/><circle cx="1839.0" cy="1407.6" r="15.5" fill="url(#b808)"/><circle cx="1888.8" cy="1367.5" r="15.5" fill="url(#b808)"/><circle cx="1936.9" cy="1343.0" r="15.5" fill="url(#b808)"/><circle cx="1985.8" cy="1314.0" r="15.5" fill="url(#b808)"/><circle cx="2033.9" cy="1283.0" r="15.5" fill="url(#b808)"/><circle cx="2082.8" cy="1258.5" r="15.5" fill="url(#b808)"/><circle cx="2132.3" cy="1240.7" r="15.5" fill="url(#b808)"/><circle cx="2181.2" cy="1198.4" r="15.5" fill="url(#b808)"/><circle cx="2228.0" cy="1191.7" r="15.5" fill="url(#b808)"/><circle cx="2276.0" cy="1174.0" r="15.5" fill="url(#b808)"/><circle cx="2323.6" cy="1138.3" r="15.5" fill="url(#b808)"/><circle cx="2372.6" cy="1107.2" r="15.5" fill="url(#b808)"/><circle cx="1839.0" cy="1316.3" r="15.5" fill="url(#b635)"/><circle cx="1888.8" cy="1249.6" r="15.5" fill="url(#b635)"/><circle cx="1936.9" cy="1189.5" r="15.5" fill="url(#b635)"/><circle cx="1985.8" cy="1131.6" r="15.5" fill="url(#b635)"/><circle cx="2033.9" cy="1077.4" r="15.5" fill="url(#b635)"/><circle cx="2082.8" cy="1021.3" r="15.5" fill="url(#b635)"/><circle cx="2132.3" cy="989.2" r="15.5" fill="url(#b635)"/><circle cx="2181.2" cy="964.7" r="15.5" fill="url(#b635)"/><circle cx="2228.0" cy="947.0" r="15.5" fill="url(#b635)"/><circle cx="2276.0" cy="882.4" r="15.5" fill="url(#b635)"/><circle cx="2323.6" cy="846.8" r="15.5" fill="url(#b635)"/><circle cx="2372.6" cy="813.4" r="15.5" fill="url(#b635)"/><circle cx="1839.0" cy="1269.6" r="15.5" fill="url(#b532)"/><circle cx="1888.8" cy="1193.0" r="15.5" fill="url(#b532)"/><circle cx="1936.9" cy="1125.0" r="15.5" fill="url(#b532)"/><circle cx="1985.8" cy="1064.9" r="15.5" fill="url(#b532)"/><circle cx="2033.9" cy="994.6" r="15.5" fill="url(#b532)"/><circle cx="2082.8" cy="970.5" r="15.5" fill="url(#b532)"/><circle cx="2132.3" cy="947.0" r="15.5" fill="url(#b532)"/><circle cx="2181.2" cy="922.5" r="15.5" fill="url(#b532)"/><circle cx="2228.0" cy="900.2" r="15.5" fill="url(#b532)"/><circle cx="2276.0" cy="858.0" r="15.5" fill="url(#b532)"/><circle cx="2323.6" cy="844.6" r="15.5" fill="url(#b532)"/><circle cx="2372.6" cy="811.2" r="15.5" fill="url(#b532)"/><g transform="translate(1812.36,809.60) scale(1.1151,1)" fill="#000"><text x="0.00" y="0.00" font-size="51.00">Memory</text></g><g transform="translate(1810.98,868.70) scale(1.1350,1)" fill="#000"><text x="0.00" y="0.00" font-size="51.00" font-style="italic">V</text><text x="31.15" y="7.65" font-size="35.70">g</text><text x="61.75" y="0.00" font-size="51.00">=</text><text x="103.27" y="0.00" font-size="51.00">10</text><text x="167.02" y="0.00" font-size="51.00">V</text></g><path d="M1802.7 1017.7H1836.5V963H1859V1017.7H1918V961.4H1940.5V1017.7H1968.6" fill="none" stroke="#000" stroke-width="6"/><path d="M1873.0 985.6H1904.0" stroke="#000" stroke-width="5.0"/><path d="M1860.0 985.6L1877.0 976.6L1872.0 985.6L1877.0 994.6Z" fill="#000"/><path d="M1917.0 985.6L1900.0 976.6L1905.0 985.6L1900.0 994.6Z" fill="#000"/><g transform="translate(1833.75,1068.30) scale(1.2372,1)" fill="#000"><text x="0.00" y="0.00" font-size="51.00">10</text><text x="63.75" y="0.00" font-size="51.00">s</text></g><circle cx="2170.1" cy="1331.9" r="15.5" fill="url(#b532)"/><g transform="translate(2204.63,1346.90) scale(1.1370,1)" fill="#000"><text x="0.00" y="0.00" font-size="51.00">532</text><text x="89.25" y="0.00" font-size="51.00">nm</text></g><circle cx="2170.1" cy="1389.8" r="15.5" fill="url(#b635)"/><g transform="translate(2205.52,1404.80) scale(1.1312,1)" fill="#000"><text x="0.00" y="0.00" font-size="51.00">635</text><text x="89.25" y="0.00" font-size="51.00">nm</text></g><circle cx="2170.1" cy="1449.8" r="15.5" fill="url(#b808)"/><g transform="translate(2205.81,1464.80) scale(1.1293,1)" fill="#000"><text x="0.00" y="0.00" font-size="51.00">808</text><text x="89.25" y="0.00" font-size="51.00">nm</text></g><rect x="1793.0" y="748.0" width="629.8" height="747.0" fill="none" stroke="#000" stroke-width="3.0"/><path d="M1936.9 1495.0V1481.0M2081.5 1495.0V1481.0M2227.0 1495.0V1481.0M2371.3 1495.0V1481.0" stroke="#000" stroke-width="3.0"/><path d="M1793.0 909.1H1807.0M1793.0 1069.3H1807.0M1793.0 1229.6H1807.0M1793.0 1389.8H1807.0" stroke="#000" stroke-width="3.0"/><g transform="translate(1779.12,1551.50) scale(1.1100,1)" fill="#000"><text x="0.00" y="0.00" font-size="50.00">0</text></g><g transform="translate(1922.78,1551.50) scale(1.1100,1)" fill="#000"><text x="0.00" y="0.00" font-size="50.00">3</text></g><g transform="translate(2067.26,1551.50) scale(1.1100,1)" fill="#000"><text x="0.00" y="0.00" font-size="50.00">6</text></g><g transform="translate(2213.37,1551.50) scale(1.1100,1)" fill="#000"><text x="0.00" y="0.00" font-size="50.00">9</text></g><g transform="translate(2342.64,1551.50) scale(1.1100,1)" fill="#000"><text x="0.00" y="0.00" font-size="50.00">12</text></g><g transform="translate(1718.47,765.00) scale(1.1100,1)" fill="#000"><text x="0.00" y="0.00" font-size="50.00">75</text></g><g transform="translate(1718.41,926.10) scale(1.1100,1)" fill="#000"><text x="0.00" y="0.00" font-size="50.00">60</text></g><g transform="translate(1718.47,1086.30) scale(1.1100,1)" fill="#000"><text x="0.00" y="0.00" font-size="50.00">45</text></g><g transform="translate(1718.41,1246.60) scale(1.1100,1)" fill="#000"><text x="0.00" y="0.00" font-size="50.00">30</text></g><g transform="translate(1718.47,1406.80) scale(1.1100,1)" fill="#000"><text x="0.00" y="0.00" font-size="50.00">15</text></g><g transform="translate(1941.57,1622.00) scale(1.1767,1)" fill="#000"><text x="0.00" y="0.00" font-size="51.00">Pulse</text><text x="123.27" y="0.00" font-size="51.00">number</text></g><g transform="translate(1665.00,1208.30) rotate(-90) scale(1.2704,1) translate(0.20,0)" fill="#000"><text x="0.00" y="0.00" font-size="51.00" font-style="italic">I</text><text x="16.98" y="7.65" font-size="35.70">On</text><text x="60.61" y="0.00" font-size="51.00">/</text><text x="74.78" y="0.00" font-size="51.00" font-style="italic">I</text><text x="91.77" y="7.65" font-size="35.70">Off</text></g>
<g transform="translate(2496.77,763.00) scale(1.1523,1)" fill="#000"><text x="0.00" y="0.00" font-size="52.00">(g)</text></g><polygon points="2667,1441 2970,1392 2970,1452 2667,1480" fill="#d9bf8c"/><polygon points="2667,1441 2970,1392 2970,1408 2667,1455" fill="#cf9650"/><circle cx="2674.0" cy="1448.8" r="6.5" fill="url(#gg3)"/><circle cx="2677.3" cy="1448.2" r="6.5" fill="url(#gg3)"/><circle cx="2680.7" cy="1445.3" r="6.5" fill="url(#gg3)"/><circle cx="2684.1" cy="1448.8" r="6.5" fill="url(#gg3)"/><circle cx="2687.4" cy="1443.4" r="6.5" fill="url(#gg1)"/><circle cx="2690.8" cy="1443.3" r="6.5" fill="url(#gg2)"/><circle cx="2694.1" cy="1446.8" r="6.5" fill="url(#gg3)"/><circle cx="2697.4" cy="1449.6" r="6.5" fill="url(#gg3)"/><circle cx="2700.8" cy="1446.0" r="6.5" fill="url(#gg2)"/><circle cx="2704.2" cy="1440.4" r="6.5" fill="url(#gg3)"/><circle cx="2707.5" cy="1447.2" r="6.5" fill="url(#gg2)"/><circle cx="2710.8" cy="1445.8" r="6.5" fill="url(#gg1)"/><circle cx="2714.2" cy="1442.2" r="6.5" fill="url(#gg3)"/><circle cx="2717.6" cy="1442.4" r="6.5" fill="url(#gg1)"/><circle cx="2720.9" cy="1441.6" r="6.5" fill="url(#gg2)"/><circle cx="2724.2" cy="1440.7" r="6.5" fill="url(#gg1)"/><circle cx="2727.6" cy="1439.7" r="6.5" fill="url(#gg2)"/><circle cx="2730.9" cy="1441.9" r="6.5" fill="url(#gg1)"/><circle cx="2734.3" cy="1441.8" r="6.5" fill="url(#gg1)"/><circle cx="2737.7" cy="1434.7" r="6.5" fill="url(#gg2)"/><circle cx="2741.0" cy="1437.5" r="6.5" fill="url(#gg1)"/><circle cx="2744.3" cy="1436.8" r="6.5" fill="url(#gg2)"/><circle cx="2747.7" cy="1440.5" r="6.5" fill="url(#gg2)"/><circle cx="2751.1" cy="1434.2" r="6.5" fill="url(#gg2)"/><circle cx="2754.4" cy="1436.0" r="6.5" fill="url(#gg3)"/><circle cx="2757.8" cy="1435.0" r="6.5" fill="url(#gg3)"/><circle cx="2761.1" cy="1437.7" r="6.5" fill="url(#gg1)"/><circle cx="2764.4" cy="1433.2" r="6.5" fill="url(#gg1)"/><circle cx="2767.8" cy="1432.6" r="6.5" fill="url(#gg3)"/><circle cx="2771.2" cy="1435.9" r="6.5" fill="url(#gg2)"/><circle cx="2774.5" cy="1429.7" r="6.5" fill="url(#gg2)"/><circle cx="2777.8" cy="1428.1" r="6.5" fill="url(#gg3)"/><circle cx="2781.2" cy="1434.6" r="6.5" fill="url(#gg3)"/><circle cx="2784.6" cy="1433.0" r="6.5" fill="url(#gg3)"/><circle cx="2787.9" cy="1430.4" r="6.5" fill="url(#gg3)"/><circle cx="2791.2" cy="1434.7" r="6.5" fill="url(#gg3)"/><circle cx="2794.6" cy="1429.0" r="6.5" fill="url(#gg3)"/><circle cx="2797.9" cy="1425.8" r="6.5" fill="url(#gg3)"/><circle cx="2801.3" cy="1433.1" r="6.5" fill="url(#gg2)"/><circle cx="2804.7" cy="1426.1" r="6.5" fill="url(#gg1)"/><circle cx="2808.0" cy="1432.1" r="6.5" fill="url(#gg2)"/><circle cx="2811.3" cy="1424.5" r="6.5" fill="url(#gg3)"/><circle cx="2814.7" cy="1431.0" r="6.5" fill="url(#gg2)"/><circle cx="2818.1" cy="1421.9" r="6.5" fill="url(#gg3)"/><circle cx="2821.4" cy="1422.9" r="6.5" fill="url(#gg1)"/><circle cx="2824.8" cy="1420.5" r="6.5" fill="url(#gg1)"/><circle cx="2828.1" cy="1427.3" r="6.5" fill="url(#gg3)"/><circle cx="2831.4" cy="1420.0" r="6.5" fill="url(#gg2)"/><circle cx="2834.8" cy="1420.7" r="6.5" fill="url(#gg3)"/><circle cx="2838.2" cy="1418.4" r="6.5" fill="url(#gg1)"/><circle cx="2841.5" cy="1421.1" r="6.5" fill="url(#gg3)"/><circle cx="2844.8" cy="1418.3" r="6.5" fill="url(#gg3)"/><circle cx="2848.2" cy="1424.1" r="6.5" fill="url(#gg3)"/><circle cx="2851.6" cy="1423.9" r="6.5" fill="url(#gg3)"/><circle cx="2854.9" cy="1421.2" r="6.5" fill="url(#gg1)"/><circle cx="2858.2" cy="1423.2" r="6.5" fill="url(#gg3)"/><circle cx="2861.6" cy="1421.0" r="6.5" fill="url(#gg3)"/><circle cx="2864.9" cy="1420.6" r="6.5" fill="url(#gg3)"/><circle cx="2868.3" cy="1419.6" r="6.5" fill="url(#gg3)"/><circle cx="2871.7" cy="1420.8" r="6.5" fill="url(#gg2)"/><circle cx="2875.0" cy="1416.1" r="6.5" fill="url(#gg2)"/><circle cx="2878.3" cy="1412.8" r="6.5" fill="url(#gg1)"/><circle cx="2881.7" cy="1413.4" r="6.5" fill="url(#gg3)"/><circle cx="2885.1" cy="1413.0" r="6.5" fill="url(#gg3)"/><circle cx="2888.4" cy="1412.8" r="6.5" fill="url(#gg3)"/><circle cx="2891.8" cy="1418.0" r="6.5" fill="url(#gg2)"/><circle cx="2895.1" cy="1410.2" r="6.5" fill="url(#gg3)"/><circle cx="2898.4" cy="1413.6" r="6.5" fill="url(#gg2)"/><circle cx="2901.8" cy="1410.5" r="6.5" fill="url(#gg3)"/><circle cx="2905.2" cy="1414.2" r="6.5" fill="url(#gg2)"/><circle cx="2908.5" cy="1409.3" r="6.5" fill="url(#gg3)"/><circle cx="2911.8" cy="1408.6" r="6.5" fill="url(#gg2)"/><circle cx="2915.2" cy="1407.4" r="6.5" fill="url(#gg1)"/><circle cx="2918.6" cy="1410.1" r="6.5" fill="url(#gg3)"/><circle cx="2921.9" cy="1405.6" r="6.5" fill="url(#gg3)"/><circle cx="2925.2" cy="1412.2" r="6.5" fill="url(#gg1)"/><circle cx="2928.6" cy="1409.6" r="6.5" fill="url(#gg3)"/><circle cx="2931.9" cy="1408.4" r="6.5" fill="url(#gg2)"/><circle cx="2935.3" cy="1406.9" r="6.5" fill="url(#gg1)"/><circle cx="2938.7" cy="1408.4" r="6.5" fill="url(#gg2)"/><circle cx="2942.0" cy="1401.7" r="6.5" fill="url(#gg2)"/><circle cx="2945.3" cy="1405.3" r="6.5" fill="url(#gg1)"/><circle cx="2948.7" cy="1403.3" r="6.5" fill="url(#gg2)"/><circle cx="2952.1" cy="1400.6" r="6.5" fill="url(#gg1)"/><circle cx="2955.4" cy="1406.0" r="6.5" fill="url(#gg3)"/><circle cx="2958.8" cy="1406.0" r="6.5" fill="url(#gg1)"/><circle cx="2962.1" cy="1401.4" r="6.5" fill="url(#gg3)"/><circle cx="2965.4" cy="1405.8" r="6.5" fill="url(#gg3)"/><circle cx="2676.0" cy="1470.5" r="7.0" fill="url(#gg4)"/><circle cx="2681.0" cy="1460.9" r="7.0" fill="url(#gg4)"/><circle cx="2686.0" cy="1465.0" r="7.0" fill="url(#gg4)"/><circle cx="2691.0" cy="1459.1" r="7.0" fill="url(#gg4)"/><circle cx="2696.0" cy="1465.5" r="7.0" fill="url(#gg4)"/><circle cx="2701.0" cy="1461.7" r="7.0" fill="url(#gg4)"/><circle cx="2706.0" cy="1456.7" r="7.0" fill="url(#gg4)"/><circle cx="2711.0" cy="1456.6" r="7.0" fill="url(#gg4)"/><circle cx="2716.0" cy="1456.1" r="7.0" fill="url(#gg4)"/><circle cx="2721.0" cy="1455.6" r="7.0" fill="url(#gg4)"/><circle cx="2726.0" cy="1456.7" r="7.0" fill="url(#gg4)"/><circle cx="2731.0" cy="1458.1" r="7.0" fill="url(#gg4)"/><circle cx="2736.0" cy="1456.3" r="7.0" fill="url(#gg4)"/><circle cx="2741.0" cy="1464.2" r="7.0" fill="url(#gg4)"/><circle cx="2746.0" cy="1460.2" r="7.0" fill="url(#gg4)"/><circle cx="2751.0" cy="1456.1" r="7.0" fill="url(#gg4)"/><circle cx="2756.0" cy="1455.5" r="7.0" fill="url(#gg4)"/><circle cx="2761.0" cy="1456.1" r="7.0" fill="url(#gg4)"/><circle cx="2766.0" cy="1455.1" r="7.0" fill="url(#gg4)"/><circle cx="2771.0" cy="1454.4" r="7.0" fill="url(#gg4)"/><circle cx="2776.0" cy="1450.4" r="7.0" fill="url(#gg4)"/><circle cx="2781.0" cy="1446.0" r="7.0" fill="url(#gg4)"/><circle cx="2786.0" cy="1444.0" r="7.0" fill="url(#gg4)"/><circle cx="2791.0" cy="1459.7" r="7.0" fill="url(#gg4)"/><circle cx="2796.0" cy="1444.1" r="7.0" fill="url(#gg4)"/><circle cx="2801.0" cy="1455.5" r="7.0" fill="url(#gg4)"/><circle cx="2806.0" cy="1452.8" r="7.0" fill="url(#gg4)"/><circle cx="2811.0" cy="1448.9" r="7.0" fill="url(#gg4)"/><circle cx="2816.0" cy="1456.2" r="7.0" fill="url(#gg4)"/><circle cx="2821.0" cy="1445.3" r="7.0" fill="url(#gg4)"/><circle cx="2826.0" cy="1440.1" r="7.0" fill="url(#gg4)"/><circle cx="2831.0" cy="1448.9" r="7.0" fill="url(#gg4)"/><circle cx="2836.0" cy="1446.4" r="7.0" fill="url(#gg4)"/><circle cx="2841.0" cy="1450.7" r="7.0" fill="url(#gg4)"/><circle cx="2846.0" cy="1441.3" r="7.0" fill="url(#gg4)"/><circle cx="2851.0" cy="1453.4" r="7.0" fill="url(#gg4)"/><circle cx="2856.0" cy="1443.4" r="7.0" fill="url(#gg4)"/><circle cx="2861.0" cy="1437.0" r="7.0" fill="url(#gg4)"/><circle cx="2866.0" cy="1440.0" r="7.0" fill="url(#gg4)"/><circle cx="2871.0" cy="1435.8" r="7.0" fill="url(#gg4)"/><circle cx="2876.0" cy="1444.1" r="7.0" fill="url(#gg4)"/><circle cx="2881.0" cy="1447.5" r="7.0" fill="url(#gg4)"/><circle cx="2886.0" cy="1445.8" r="7.0" fill="url(#gg4)"/><circle cx="2891.0" cy="1431.6" r="7.0" fill="url(#gg4)"/><circle cx="2896.0" cy="1431.3" r="7.0" fill="url(#gg4)"/><circle cx="2901.0" cy="1430.7" r="7.0" fill="url(#gg4)"/><circle cx="2906.0" cy="1447.9" r="7.0" fill="url(#gg4)"/><circle cx="2911.0" cy="1429.0" r="7.0" fill="url(#gg4)"/><circle cx="2916.0" cy="1426.2" r="7.0" fill="url(#gg4)"/><circle cx="2921.0" cy="1431.2" r="7.0" fill="url(#gg4)"/><circle cx="2926.0" cy="1445.2" r="7.0" fill="url(#gg4)"/><circle cx="2931.0" cy="1421.4" r="7.0" fill="url(#gg4)"/><circle cx="2936.0" cy="1421.3" r="7.0" fill="url(#gg4)"/><circle cx="2941.0" cy="1446.1" r="7.0" fill="url(#gg4)"/><circle cx="2946.0" cy="1441.2" r="7.0" fill="url(#gg4)"/><circle cx="2951.0" cy="1420.3" r="7.0" fill="url(#gg4)"/><circle cx="2956.0" cy="1429.9" r="7.0" fill="url(#gg4)"/><circle cx="2961.0" cy="1442.6" r="7.0" fill="url(#gg4)"/><circle cx="3022.1" cy="1145.3" r="9.5" fill="url(#gg4)"/><circle cx="3059.1" cy="1142.3" r="9.5" fill="url(#gg4)"/><circle cx="3132.6" cy="1148.4" r="9.5" fill="url(#gg4)"/><circle cx="3222.3" cy="1163.6" r="9.5" fill="url(#gg4)"/><circle cx="3009.7" cy="1140.9" r="9.5" fill="url(#gg4)"/><circle cx="3113.4" cy="1161.6" r="9.5" fill="url(#gg4)"/><circle cx="3214.3" cy="1168.6" r="9.5" fill="url(#gg4)"/><circle cx="3201.8" cy="1160.1" r="9.5" fill="url(#gg4)"/><circle cx="3051.0" cy="1167.6" r="9.5" fill="url(#gg4)"/><circle cx="2990.4" cy="1089.3" r="9.5" fill="url(#gg4)"/><circle cx="2988.8" cy="1073.3" r="9.5" fill="url(#gg4)"/><circle cx="3097.6" cy="1153.3" r="9.5" fill="url(#gg4)"/><circle cx="3047.3" cy="1148.6" r="9.5" fill="url(#gg4)"/><circle cx="3048.8" cy="1151.7" r="9.5" fill="url(#gg4)"/><circle cx="3115.0" cy="1153.2" r="9.5" fill="url(#gg4)"/><circle cx="3051.6" cy="1151.7" r="9.5" fill="url(#gg4)"/><circle cx="3047.9" cy="1144.1" r="9.5" fill="url(#gg4)"/><circle cx="2987.6" cy="1090.4" r="9.5" fill="url(#gg4)"/><circle cx="3237.3" cy="1149.2" r="9.5" fill="url(#gg4)"/><circle cx="3037.9" cy="1142.7" r="9.5" fill="url(#gg4)"/><circle cx="3284.7" cy="1162.6" r="9.5" fill="url(#gg4)"/><circle cx="3082.8" cy="1153.9" r="9.5" fill="url(#gg4)"/><circle cx="3201.8" cy="1155.4" r="9.5" fill="url(#gg4)"/><circle cx="3110.2" cy="1140.6" r="9.5" fill="url(#gg4)"/><circle cx="3235.0" cy="1156.7" r="9.5" fill="url(#gg4)"/><circle cx="3160.8" cy="1153.8" r="9.5" fill="url(#gg4)"/><circle cx="3251.0" cy="1165.4" r="9.5" fill="url(#gg4)"/><circle cx="3161.2" cy="1152.0" r="9.5" fill="url(#gg4)"/><circle cx="2991.6" cy="1098.3" r="9.5" fill="url(#gg4)"/><circle cx="3107.8" cy="1173.0" r="9.5" fill="url(#gg4)"/><circle cx="3033.9" cy="1132.9" r="9.5" fill="url(#gg4)"/><circle cx="3187.4" cy="1156.1" r="9.5" fill="url(#gg4)"/><circle cx="3095.7" cy="1149.2" r="9.5" fill="url(#gg4)"/><circle cx="3219.2" cy="1163.5" r="9.5" fill="url(#gg4)"/><circle cx="3140.4" cy="1152.3" r="9.5" fill="url(#gg4)"/><circle cx="2990.0" cy="1100.2" r="9.5" fill="url(#gg4)"/><circle cx="2994.3" cy="1096.5" r="9.5" fill="url(#gg4)"/><circle cx="3162.5" cy="1137.9" r="9.5" fill="url(#gg4)"/><circle cx="3101.4" cy="1162.9" r="9.5" fill="url(#gg4)"/><circle cx="3281.5" cy="1168.3" r="9.5" fill="url(#gg4)"/><circle cx="3216.8" cy="1144.6" r="9.5" fill="url(#gg4)"/><circle cx="3052.0" cy="1147.8" r="9.5" fill="url(#gg4)"/><circle cx="3138.2" cy="1169.6" r="9.5" fill="url(#gg4)"/><circle cx="3121.5" cy="1156.1" r="9.5" fill="url(#gg4)"/><circle cx="3063.4" cy="1135.1" r="9.5" fill="url(#gg4)"/><circle cx="2982.7" cy="1070.4" r="9.5" fill="url(#gg4)"/><circle cx="3220.8" cy="1167.1" r="9.5" fill="url(#gg4)"/><circle cx="3207.6" cy="1144.9" r="9.5" fill="url(#gg4)"/><circle cx="3228.6" cy="1149.8" r="9.5" fill="url(#gg4)"/><circle cx="3111.4" cy="1157.6" r="9.5" fill="url(#gg4)"/><circle cx="2998.2" cy="1117.1" r="9.5" fill="url(#gg4)"/><circle cx="3042.2" cy="1140.9" r="9.5" fill="url(#gg4)"/><circle cx="3135.4" cy="1152.0" r="9.5" fill="url(#gg4)"/><circle cx="3086.9" cy="1158.1" r="9.5" fill="url(#gg4)"/><circle cx="3145.8" cy="1151.8" r="9.5" fill="url(#gg4)"/><circle cx="3121.2" cy="1151.5" r="9.5" fill="url(#gg4)"/><circle cx="2989.6" cy="1094.0" r="9.5" fill="url(#gg4)"/><circle cx="3159.8" cy="1164.7" r="9.5" fill="url(#gg4)"/><circle cx="3244.5" cy="1164.3" r="9.5" fill="url(#gg4)"/><circle cx="3230.8" cy="1146.3" r="9.5" fill="url(#gg4)"/><circle cx="3059.1" cy="1160.0" r="9.5" fill="url(#gg4)"/><circle cx="3006.5" cy="1112.0" r="9.5" fill="url(#gg4)"/><circle cx="2986.1" cy="1098.6" r="9.5" fill="url(#gg4)"/><circle cx="3057.4" cy="1154.3" r="9.5" fill="url(#gg4)"/><circle cx="3014.5" cy="1125.8" r="9.5" fill="url(#gg4)"/><circle cx="3002.3" cy="1111.2" r="9.5" fill="url(#gg4)"/><circle cx="3029.8" cy="1137.8" r="9.5" fill="url(#gg4)"/><circle cx="3064.5" cy="1153.7" r="9.5" fill="url(#gg4)"/><circle cx="3198.7" cy="1153.2" r="9.5" fill="url(#gg4)"/><circle cx="3126.0" cy="1161.3" r="9.5" fill="url(#gg4)"/><circle cx="2988.2" cy="1084.0" r="9.5" fill="url(#gg4)"/><circle cx="3038.5" cy="1152.4" r="9.5" fill="url(#gg4)"/><circle cx="3014.3" cy="1138.5" r="9.5" fill="url(#gg4)"/><circle cx="3045.0" cy="1143.9" r="9.5" fill="url(#gg4)"/><circle cx="3166.3" cy="1160.5" r="9.5" fill="url(#gg4)"/><circle cx="2986.5" cy="1084.6" r="9.5" fill="url(#gg4)"/><circle cx="3025.8" cy="1139.2" r="9.5" fill="url(#gg4)"/><circle cx="3196.6" cy="1155.3" r="9.5" fill="url(#gg4)"/><circle cx="3188.5" cy="1154.5" r="9.5" fill="url(#gg4)"/><circle cx="3279.5" cy="1158.4" r="9.5" fill="url(#gg4)"/><circle cx="3225.1" cy="1154.3" r="9.5" fill="url(#gg4)"/><circle cx="3179.4" cy="1159.3" r="9.5" fill="url(#gg4)"/><circle cx="3101.8" cy="1152.2" r="9.5" fill="url(#gg4)"/><circle cx="3174.1" cy="1156.6" r="9.5" fill="url(#gg4)"/><circle cx="2999.0" cy="1105.0" r="9.5" fill="url(#gg4)"/><circle cx="3248.9" cy="1180.0" r="9.5" fill="url(#gg4)"/><circle cx="3074.8" cy="1160.5" r="9.5" fill="url(#gg4)"/><circle cx="3268.4" cy="1154.6" r="9.5" fill="url(#gg4)"/><circle cx="3208.6" cy="1154.7" r="9.5" fill="url(#gg4)"/><circle cx="2983.6" cy="1081.7" r="9.5" fill="url(#gg4)"/><circle cx="3249.9" cy="1174.4" r="9.5" fill="url(#gg4)"/><circle cx="3275.4" cy="1163.5" r="9.5" fill="url(#gg4)"/><circle cx="3155.5" cy="1167.4" r="9.5" fill="url(#gg4)"/><circle cx="3279.0" cy="1174.2" r="9.5" fill="url(#gg4)"/><circle cx="3196.4" cy="1152.1" r="9.5" fill="url(#gg4)"/><circle cx="3087.2" cy="1157.0" r="9.5" fill="url(#gg4)"/><circle cx="3044.0" cy="1145.2" r="9.5" fill="url(#gg4)"/><circle cx="3040.4" cy="1140.2" r="9.5" fill="url(#gg4)"/><circle cx="3013.0" cy="1126.1" r="9.5" fill="url(#gg4)"/><circle cx="3133.9" cy="1153.7" r="9.5" fill="url(#gg4)"/><circle cx="3080.6" cy="1168.7" r="9.5" fill="url(#gg4)"/><circle cx="2986.5" cy="1073.9" r="9.5" fill="url(#gg4)"/><circle cx="3042.5" cy="1137.5" r="9.5" fill="url(#gg4)"/><circle cx="3220.5" cy="1180.8" r="9.5" fill="url(#gg4)"/><circle cx="3084.8" cy="1160.0" r="9.5" fill="url(#gg4)"/><circle cx="3237.3" cy="1171.6" r="9.5" fill="url(#gg4)"/><circle cx="3266.2" cy="1150.8" r="9.5" fill="url(#gg4)"/><circle cx="3191.3" cy="1173.7" r="9.5" fill="url(#gg4)"/><circle cx="3129.3" cy="1165.2" r="9.5" fill="url(#gg4)"/><circle cx="3203.0" cy="1159.4" r="9.5" fill="url(#gg4)"/><circle cx="3006.9" cy="1131.1" r="9.5" fill="url(#gg4)"/><circle cx="3046.2" cy="1165.3" r="9.5" fill="url(#gg4)"/><circle cx="3213.3" cy="1147.6" r="9.5" fill="url(#gg4)"/><circle cx="3093.6" cy="1148.9" r="9.5" fill="url(#gg4)"/><circle cx="3085.1" cy="1153.1" r="9.5" fill="url(#gg4)"/><circle cx="3165.8" cy="1175.4" r="9.5" fill="url(#gg4)"/><circle cx="3273.0" cy="1163.3" r="9.5" fill="url(#gg4)"/><circle cx="3149.7" cy="1156.9" r="9.5" fill="url(#gg4)"/><circle cx="3012.9" cy="1132.4" r="9.5" fill="url(#gg4)"/><circle cx="3246.0" cy="1160.7" r="9.5" fill="url(#gg4)"/><circle cx="3222.2" cy="1163.4" r="9.5" fill="url(#gg4)"/><circle cx="3169.2" cy="1153.4" r="9.5" fill="url(#gg4)"/><circle cx="3220.3" cy="1152.5" r="9.5" fill="url(#gg4)"/><circle cx="3049.5" cy="1158.2" r="9.5" fill="url(#gg4)"/><circle cx="3006.0" cy="1119.7" r="9.5" fill="url(#gg4)"/><circle cx="3153.7" cy="1176.5" r="9.5" fill="url(#gg4)"/><circle cx="3264.1" cy="1153.8" r="9.5" fill="url(#gg4)"/><circle cx="3221.8" cy="1161.7" r="9.5" fill="url(#gg4)"/><circle cx="3234.3" cy="1171.9" r="9.5" fill="url(#gg4)"/><circle cx="3009.1" cy="1126.1" r="9.5" fill="url(#gg4)"/><circle cx="3016.2" cy="1134.3" r="9.5" fill="url(#gg4)"/><circle cx="3054.3" cy="1150.8" r="9.5" fill="url(#gg4)"/><circle cx="3283.4" cy="1156.5" r="9.5" fill="url(#gg4)"/><circle cx="3032.2" cy="1145.8" r="9.5" fill="url(#gg4)"/><circle cx="3054.9" cy="1152.3" r="9.5" fill="url(#gg4)"/><circle cx="3259.7" cy="1156.3" r="9.5" fill="url(#gg4)"/><circle cx="3096.8" cy="1175.3" r="9.5" fill="url(#gg4)"/><circle cx="3071.0" cy="1152.3" r="9.5" fill="url(#gg4)"/><circle cx="3058.5" cy="1149.7" r="9.5" fill="url(#gg4)"/><circle cx="3180.5" cy="1160.4" r="9.5" fill="url(#gg4)"/><circle cx="2993.1" cy="1123.5" r="9.5" fill="url(#gg4)"/><circle cx="3071.4" cy="1157.2" r="9.5" fill="url(#gg4)"/><circle cx="3163.6" cy="1153.2" r="9.5" fill="url(#gg4)"/><circle cx="3000.3" cy="1115.5" r="9.5" fill="url(#gg4)"/><circle cx="3260.5" cy="1180.8" r="9.5" fill="url(#gg4)"/><circle cx="3015.1" cy="1127.5" r="9.5" fill="url(#gg4)"/><circle cx="3046.8" cy="1133.6" r="9.5" fill="url(#gg4)"/><circle cx="3147.1" cy="1144.6" r="9.5" fill="url(#gg4)"/><circle cx="3191.6" cy="1156.7" r="9.5" fill="url(#gg4)"/><circle cx="3146.7" cy="1154.4" r="9.5" fill="url(#gg4)"/><circle cx="3075.0" cy="1156.2" r="9.5" fill="url(#gg4)"/><circle cx="3066.9" cy="1158.2" r="9.5" fill="url(#gg4)"/><circle cx="3281.9" cy="1149.0" r="9.5" fill="url(#gg4)"/><circle cx="3177.9" cy="1163.6" r="9.5" fill="url(#gg4)"/><circle cx="3268.9" cy="1154.7" r="9.5" fill="url(#gg4)"/><circle cx="3081.1" cy="1161.2" r="9.5" fill="url(#gg4)"/><circle cx="3077.9" cy="1166.2" r="9.5" fill="url(#gg4)"/><circle cx="3073.7" cy="1142.1" r="9.5" fill="url(#gg4)"/><circle cx="3083.3" cy="1147.0" r="9.5" fill="url(#gg4)"/><circle cx="3163.4" cy="1156.9" r="9.5" fill="url(#gg4)"/><circle cx="3056.0" cy="1158.7" r="9.5" fill="url(#gg4)"/><circle cx="3003.1" cy="1118.4" r="9.5" fill="url(#gg4)"/><circle cx="3149.7" cy="1162.5" r="9.5" fill="url(#gg4)"/><circle cx="3175.4" cy="1161.2" r="9.5" fill="url(#gg4)"/><circle cx="3070.0" cy="1157.9" r="9.5" fill="url(#gg4)"/><circle cx="3245.0" cy="1151.0" r="9.5" fill="url(#gg4)"/><circle cx="3028.2" cy="1127.4" r="9.5" fill="url(#gg4)"/><circle cx="3004.6" cy="1119.5" r="9.5" fill="url(#gg4)"/><circle cx="3271.5" cy="1166.4" r="9.5" fill="url(#gg4)"/><circle cx="3282.4" cy="1172.3" r="9.5" fill="url(#gg4)"/><circle cx="3273.5" cy="1037.5" r="9.5" fill="url(#gg3)"/><circle cx="3007.0" cy="958.4" r="9.5" fill="url(#gg3)"/><circle cx="3236.7" cy="1033.1" r="9.5" fill="url(#gg3)"/><circle cx="3075.3" cy="1002.4" r="9.5" fill="url(#gg3)"/><circle cx="3166.4" cy="1022.6" r="9.5" fill="url(#gg3)"/><circle cx="3029.5" cy="979.4" r="9.5" fill="url(#gg3)"/><circle cx="3112.8" cy="1014.6" r="9.5" fill="url(#gg3)"/><circle cx="3285.4" cy="1043.7" r="9.5" fill="url(#gg3)"/><circle cx="3271.5" cy="1025.2" r="9.5" fill="url(#gg3)"/><circle cx="3063.1" cy="1007.7" r="9.5" fill="url(#gg3)"/><circle cx="2992.0" cy="942.9" r="9.5" fill="url(#gg3)"/><circle cx="3078.5" cy="1018.6" r="9.5" fill="url(#gg3)"/><circle cx="3097.3" cy="1031.1" r="9.5" fill="url(#gg3)"/><circle cx="3152.5" cy="1024.0" r="9.5" fill="url(#gg3)"/><circle cx="3053.3" cy="1012.9" r="9.5" fill="url(#gg3)"/><circle cx="3022.8" cy="981.1" r="9.5" fill="url(#gg3)"/><circle cx="3137.1" cy="1042.9" r="9.5" fill="url(#gg3)"/><circle cx="3036.6" cy="993.1" r="9.5" fill="url(#gg3)"/><circle cx="3254.4" cy="1038.7" r="9.5" fill="url(#gg3)"/><circle cx="3258.4" cy="1020.5" r="9.5" fill="url(#gg3)"/><circle cx="3214.4" cy="1035.9" r="9.5" fill="url(#gg3)"/><circle cx="3281.2" cy="1026.5" r="9.5" fill="url(#gg3)"/><circle cx="3275.3" cy="1042.6" r="9.5" fill="url(#gg3)"/><circle cx="3199.8" cy="1046.2" r="9.5" fill="url(#gg3)"/><circle cx="3122.2" cy="1017.2" r="9.5" fill="url(#gg3)"/><circle cx="3264.0" cy="1032.6" r="9.5" fill="url(#gg3)"/><circle cx="3134.3" cy="1033.2" r="9.5" fill="url(#gg3)"/><circle cx="3251.2" cy="1027.1" r="9.5" fill="url(#gg3)"/><circle cx="3256.3" cy="1023.2" r="9.5" fill="url(#gg3)"/><circle cx="3262.6" cy="1037.4" r="9.5" fill="url(#gg3)"/><circle cx="3202.5" cy="1027.1" r="9.5" fill="url(#gg3)"/><circle cx="3080.3" cy="1018.1" r="9.5" fill="url(#gg3)"/><circle cx="3195.1" cy="1043.1" r="9.5" fill="url(#gg3)"/><circle cx="3063.1" cy="1027.3" r="9.5" fill="url(#gg3)"/><circle cx="3259.9" cy="1026.3" r="9.5" fill="url(#gg3)"/><circle cx="3197.1" cy="1054.4" r="9.5" fill="url(#gg3)"/><circle cx="3135.3" cy="1016.2" r="9.5" fill="url(#gg3)"/><circle cx="3160.9" cy="1030.1" r="9.5" fill="url(#gg3)"/><circle cx="3076.4" cy="1019.0" r="9.5" fill="url(#gg3)"/><circle cx="3266.9" cy="1045.0" r="9.5" fill="url(#gg3)"/><circle cx="3171.7" cy="1047.0" r="9.5" fill="url(#gg3)"/><circle cx="3203.1" cy="1041.1" r="9.5" fill="url(#gg3)"/><circle cx="3258.7" cy="1039.9" r="9.5" fill="url(#gg3)"/><circle cx="2999.0" cy="960.1" r="9.5" fill="url(#gg3)"/><circle cx="3180.8" cy="1031.7" r="9.5" fill="url(#gg3)"/><circle cx="3248.9" cy="1040.8" r="9.5" fill="url(#gg3)"/><circle cx="3013.5" cy="951.2" r="9.5" fill="url(#gg3)"/><circle cx="3055.9" cy="1004.1" r="9.5" fill="url(#gg3)"/><circle cx="3045.4" cy="1006.8" r="9.5" fill="url(#gg3)"/><circle cx="3200.4" cy="1027.0" r="9.5" fill="url(#gg3)"/><circle cx="2990.8" cy="926.8" r="9.5" fill="url(#gg3)"/><circle cx="3186.9" cy="1037.1" r="9.5" fill="url(#gg3)"/><circle cx="3006.4" cy="960.4" r="9.5" fill="url(#gg3)"/><circle cx="3204.2" cy="1033.0" r="9.5" fill="url(#gg3)"/><circle cx="2987.5" cy="922.7" r="9.5" fill="url(#gg3)"/><circle cx="3029.1" cy="1002.9" r="9.5" fill="url(#gg3)"/><circle cx="3037.2" cy="990.5" r="9.5" fill="url(#gg3)"/><circle cx="2994.2" cy="929.1" r="9.5" fill="url(#gg3)"/><circle cx="3283.9" cy="1036.1" r="9.5" fill="url(#gg3)"/><circle cx="3086.3" cy="1021.5" r="9.5" fill="url(#gg3)"/><circle cx="3169.3" cy="1031.8" r="9.5" fill="url(#gg3)"/><circle cx="3084.2" cy="1014.5" r="9.5" fill="url(#gg3)"/><circle cx="2990.4" cy="915.2" r="9.5" fill="url(#gg3)"/><circle cx="3207.4" cy="1038.5" r="9.5" fill="url(#gg3)"/><circle cx="3257.0" cy="1035.1" r="9.5" fill="url(#gg3)"/><circle cx="3196.8" cy="1015.4" r="9.5" fill="url(#gg3)"/><circle cx="3125.7" cy="1030.0" r="9.5" fill="url(#gg3)"/><circle cx="3077.8" cy="1029.7" r="9.5" fill="url(#gg3)"/><circle cx="3012.2" cy="949.5" r="9.5" fill="url(#gg3)"/><circle cx="3020.0" cy="982.7" r="9.5" fill="url(#gg3)"/><circle cx="3160.0" cy="1023.0" r="9.5" fill="url(#gg3)"/><circle cx="3025.0" cy="989.0" r="9.5" fill="url(#gg3)"/><circle cx="3274.7" cy="1033.9" r="9.5" fill="url(#gg3)"/><circle cx="3109.4" cy="1037.5" r="9.5" fill="url(#gg3)"/><circle cx="2986.5" cy="916.5" r="9.5" fill="url(#gg3)"/><circle cx="2998.4" cy="943.4" r="9.5" fill="url(#gg3)"/><circle cx="2991.3" cy="933.6" r="9.5" fill="url(#gg3)"/><circle cx="3175.3" cy="1035.8" r="9.5" fill="url(#gg3)"/><circle cx="3136.5" cy="1050.2" r="9.5" fill="url(#gg3)"/><circle cx="3285.3" cy="1032.5" r="9.5" fill="url(#gg3)"/><circle cx="3052.1" cy="997.9" r="9.5" fill="url(#gg3)"/><circle cx="3161.9" cy="1033.9" r="9.5" fill="url(#gg3)"/><circle cx="3172.0" cy="1036.6" r="9.5" fill="url(#gg3)"/><circle cx="3059.5" cy="995.1" r="9.5" fill="url(#gg3)"/><circle cx="3110.4" cy="1024.6" r="9.5" fill="url(#gg3)"/><circle cx="2991.9" cy="932.5" r="9.5" fill="url(#gg3)"/><circle cx="3106.1" cy="1035.6" r="9.5" fill="url(#gg3)"/><circle cx="3054.7" cy="1015.2" r="9.5" fill="url(#gg3)"/><circle cx="3011.5" cy="968.7" r="9.5" fill="url(#gg3)"/><circle cx="3047.5" cy="1007.3" r="9.5" fill="url(#gg3)"/><circle cx="3140.3" cy="1022.2" r="9.5" fill="url(#gg3)"/><circle cx="3177.4" cy="1034.2" r="9.5" fill="url(#gg3)"/><circle cx="3046.0" cy="1019.6" r="9.5" fill="url(#gg3)"/><circle cx="3204.1" cy="1020.7" r="9.5" fill="url(#gg3)"/><circle cx="3113.7" cy="1014.2" r="9.5" fill="url(#gg3)"/><circle cx="2996.7" cy="941.2" r="9.5" fill="url(#gg3)"/><circle cx="3108.9" cy="1019.5" r="9.5" fill="url(#gg3)"/><circle cx="3009.7" cy="962.5" r="9.5" fill="url(#gg3)"/><circle cx="3226.6" cy="1026.8" r="9.5" fill="url(#gg3)"/><circle cx="3263.0" cy="1042.7" r="9.5" fill="url(#gg3)"/><circle cx="3167.8" cy="1025.6" r="9.5" fill="url(#gg3)"/><circle cx="3094.9" cy="1047.0" r="9.5" fill="url(#gg3)"/><circle cx="2986.8" cy="920.2" r="9.5" fill="url(#gg3)"/><circle cx="3074.6" cy="1011.6" r="9.5" fill="url(#gg3)"/><circle cx="3238.2" cy="1033.5" r="9.5" fill="url(#gg3)"/><circle cx="3119.1" cy="1025.6" r="9.5" fill="url(#gg3)"/><circle cx="3106.7" cy="1018.6" r="9.5" fill="url(#gg3)"/><circle cx="3161.2" cy="1032.1" r="9.5" fill="url(#gg3)"/><circle cx="3003.6" cy="952.2" r="9.5" fill="url(#gg3)"/><circle cx="3267.2" cy="1043.1" r="9.5" fill="url(#gg3)"/><circle cx="3004.4" cy="955.6" r="9.5" fill="url(#gg3)"/><circle cx="3155.9" cy="1025.3" r="9.5" fill="url(#gg3)"/><circle cx="3100.9" cy="1008.8" r="9.5" fill="url(#gg3)"/><circle cx="3101.9" cy="1027.1" r="9.5" fill="url(#gg3)"/><circle cx="3018.2" cy="977.3" r="9.5" fill="url(#gg3)"/><circle cx="3241.1" cy="1036.9" r="9.5" fill="url(#gg3)"/><circle cx="3177.1" cy="1045.9" r="9.5" fill="url(#gg3)"/><circle cx="2988.5" cy="922.2" r="9.5" fill="url(#gg3)"/><circle cx="3182.7" cy="1035.2" r="9.5" fill="url(#gg3)"/><circle cx="3133.4" cy="1014.7" r="9.5" fill="url(#gg3)"/><circle cx="3090.4" cy="1005.2" r="9.5" fill="url(#gg3)"/><circle cx="3063.3" cy="1014.8" r="9.5" fill="url(#gg3)"/><circle cx="3142.0" cy="1007.8" r="9.5" fill="url(#gg3)"/><circle cx="3227.1" cy="1037.2" r="9.5" fill="url(#gg3)"/><circle cx="3266.2" cy="1038.5" r="9.5" fill="url(#gg3)"/><circle cx="3051.9" cy="997.7" r="9.5" fill="url(#gg3)"/><circle cx="3130.6" cy="1028.1" r="9.5" fill="url(#gg3)"/><circle cx="3188.8" cy="1042.5" r="9.5" fill="url(#gg3)"/><circle cx="3262.1" cy="1020.3" r="9.5" fill="url(#gg3)"/><circle cx="3010.4" cy="955.8" r="9.5" fill="url(#gg3)"/><circle cx="3090.0" cy="1025.7" r="9.5" fill="url(#gg3)"/><circle cx="3108.5" cy="1025.0" r="9.5" fill="url(#gg3)"/><circle cx="3001.5" cy="966.9" r="9.5" fill="url(#gg3)"/><circle cx="3283.5" cy="1044.6" r="9.5" fill="url(#gg3)"/><circle cx="3179.3" cy="1037.8" r="9.5" fill="url(#gg3)"/><circle cx="3051.9" cy="1009.7" r="9.5" fill="url(#gg3)"/><circle cx="3186.2" cy="1028.8" r="9.5" fill="url(#gg3)"/><circle cx="3141.3" cy="1021.1" r="9.5" fill="url(#gg3)"/><circle cx="3015.3" cy="949.7" r="9.5" fill="url(#gg3)"/><circle cx="3212.3" cy="1028.2" r="9.5" fill="url(#gg3)"/><circle cx="3010.4" cy="950.2" r="9.5" fill="url(#gg3)"/><circle cx="3059.7" cy="1007.2" r="9.5" fill="url(#gg3)"/><circle cx="3254.8" cy="1020.9" r="9.5" fill="url(#gg3)"/><circle cx="3104.7" cy="1027.7" r="9.5" fill="url(#gg3)"/><circle cx="3285.5" cy="1037.1" r="9.5" fill="url(#gg3)"/><circle cx="3025.3" cy="971.1" r="9.5" fill="url(#gg3)"/><circle cx="3116.0" cy="1038.4" r="9.5" fill="url(#gg3)"/><circle cx="3250.8" cy="1036.6" r="9.5" fill="url(#gg3)"/><circle cx="3036.2" cy="982.5" r="9.5" fill="url(#gg3)"/><circle cx="3104.9" cy="1023.7" r="9.5" fill="url(#gg3)"/><circle cx="3198.4" cy="1046.3" r="9.5" fill="url(#gg3)"/><circle cx="3125.6" cy="1022.5" r="9.5" fill="url(#gg3)"/><circle cx="3275.4" cy="1027.4" r="9.5" fill="url(#gg3)"/><circle cx="3182.5" cy="1045.8" r="9.5" fill="url(#gg3)"/><circle cx="3214.1" cy="1037.6" r="9.5" fill="url(#gg3)"/><circle cx="3171.1" cy="1027.0" r="9.5" fill="url(#gg3)"/><circle cx="3104.2" cy="1011.9" r="9.5" fill="url(#gg3)"/><circle cx="3175.3" cy="1010.9" r="9.5" fill="url(#gg3)"/><circle cx="2984.6" cy="902.7" r="9.5" fill="url(#gg3)"/><circle cx="3251.3" cy="1037.6" r="9.5" fill="url(#gg3)"/><circle cx="3179.9" cy="1033.3" r="9.5" fill="url(#gg3)"/><circle cx="3269.6" cy="1033.1" r="9.5" fill="url(#gg3)"/><circle cx="3204.2" cy="1018.2" r="9.5" fill="url(#gg3)"/><circle cx="3251.7" cy="1022.3" r="9.5" fill="url(#gg3)"/><circle cx="3011.7" cy="972.4" r="9.5" fill="url(#gg3)"/><circle cx="3042.1" cy="983.4" r="9.5" fill="url(#gg3)"/><circle cx="3208.7" cy="1028.6" r="9.5" fill="url(#gg3)"/><circle cx="3227.1" cy="1031.0" r="9.5" fill="url(#gg3)"/><circle cx="3023.2" cy="973.0" r="9.5" fill="url(#gg3)"/><circle cx="3058.6" cy="1001.9" r="9.5" fill="url(#gg3)"/><circle cx="3154.2" cy="1025.1" r="9.5" fill="url(#gg3)"/><circle cx="3276.8" cy="1035.9" r="9.5" fill="url(#gg3)"/><circle cx="3003.3" cy="964.0" r="9.5" fill="url(#gg3)"/><circle cx="3237.2" cy="1034.4" r="9.5" fill="url(#gg3)"/><circle cx="3182.5" cy="1033.0" r="9.5" fill="url(#gg3)"/><circle cx="3187.5" cy="1022.6" r="9.5" fill="url(#gg3)"/><circle cx="3083.5" cy="1017.5" r="9.5" fill="url(#gg3)"/><circle cx="2989.4" cy="938.2" r="9.5" fill="url(#gg3)"/><circle cx="3005.4" cy="957.1" r="9.5" fill="url(#gg3)"/><circle cx="3210.6" cy="1028.2" r="9.5" fill="url(#gg3)"/><circle cx="3221.0" cy="1022.8" r="9.5" fill="url(#gg3)"/><circle cx="3222.0" cy="1041.6" r="9.5" fill="url(#gg3)"/><circle cx="3245.4" cy="1037.9" r="9.5" fill="url(#gg3)"/><circle cx="3097.8" cy="1026.7" r="9.5" fill="url(#gg3)"/><circle cx="3123.2" cy="1027.2" r="9.5" fill="url(#gg3)"/><circle cx="3151.6" cy="1032.1" r="9.5" fill="url(#gg3)"/><circle cx="3276.9" cy="1027.2" r="9.5" fill="url(#gg3)"/><circle cx="3098.0" cy="1031.1" r="9.5" fill="url(#gg3)"/><circle cx="3116.5" cy="1031.8" r="9.5" fill="url(#gg3)"/><circle cx="3179.6" cy="1027.0" r="9.5" fill="url(#gg3)"/><circle cx="3053.2" cy="909.8" r="9.5" fill="url(#gg1)"/><circle cx="3028.4" cy="888.3" r="9.5" fill="url(#gg1)"/><circle cx="3001.4" cy="821.9" r="9.5" fill="url(#gg1)"/><circle cx="3225.9" cy="932.3" r="9.5" fill="url(#gg1)"/><circle cx="3215.1" cy="923.6" r="9.5" fill="url(#gg1)"/><circle cx="3065.7" cy="918.9" r="9.5" fill="url(#gg1)"/><circle cx="3033.8" cy="893.5" r="9.5" fill="url(#gg1)"/><circle cx="3264.8" cy="925.4" r="9.5" fill="url(#gg1)"/><circle cx="3234.6" cy="926.9" r="9.5" fill="url(#gg1)"/><circle cx="3040.2" cy="881.2" r="9.5" fill="url(#gg1)"/><circle cx="3075.8" cy="903.4" r="9.5" fill="url(#gg1)"/><circle cx="3242.5" cy="912.6" r="9.5" fill="url(#gg1)"/><circle cx="3250.3" cy="931.3" r="9.5" fill="url(#gg1)"/><circle cx="3186.5" cy="927.3" r="9.5" fill="url(#gg1)"/><circle cx="3135.8" cy="924.3" r="9.5" fill="url(#gg1)"/><circle cx="3008.3" cy="860.5" r="9.5" fill="url(#gg1)"/><circle cx="3267.0" cy="928.7" r="9.5" fill="url(#gg1)"/><circle cx="3072.9" cy="904.0" r="9.5" fill="url(#gg1)"/><circle cx="3259.1" cy="907.1" r="9.5" fill="url(#gg1)"/><circle cx="3240.5" cy="914.7" r="9.5" fill="url(#gg1)"/><circle cx="3136.6" cy="911.1" r="9.5" fill="url(#gg1)"/><circle cx="3112.9" cy="924.4" r="9.5" fill="url(#gg1)"/><circle cx="3030.4" cy="880.6" r="9.5" fill="url(#gg1)"/><circle cx="2994.2" cy="830.3" r="9.5" fill="url(#gg1)"/><circle cx="2995.2" cy="814.9" r="9.5" fill="url(#gg1)"/><circle cx="3144.6" cy="916.1" r="9.5" fill="url(#gg1)"/><circle cx="3125.2" cy="904.6" r="9.5" fill="url(#gg1)"/><circle cx="3040.8" cy="918.2" r="9.5" fill="url(#gg1)"/><circle cx="3107.3" cy="921.5" r="9.5" fill="url(#gg1)"/><circle cx="3065.5" cy="919.9" r="9.5" fill="url(#gg1)"/><circle cx="3089.9" cy="915.5" r="9.5" fill="url(#gg1)"/><circle cx="3151.9" cy="913.9" r="9.5" fill="url(#gg1)"/><circle cx="3257.7" cy="924.3" r="9.5" fill="url(#gg1)"/><circle cx="3051.0" cy="903.9" r="9.5" fill="url(#gg1)"/><circle cx="3215.1" cy="917.4" r="9.5" fill="url(#gg1)"/><circle cx="3082.3" cy="910.2" r="9.5" fill="url(#gg1)"/><circle cx="3035.3" cy="888.2" r="9.5" fill="url(#gg1)"/><circle cx="3194.4" cy="922.3" r="9.5" fill="url(#gg1)"/><circle cx="3255.2" cy="934.5" r="9.5" fill="url(#gg1)"/><circle cx="3274.7" cy="918.3" r="9.5" fill="url(#gg1)"/><circle cx="3053.8" cy="911.4" r="9.5" fill="url(#gg2)"/><circle cx="3165.8" cy="943.9" r="9.5" fill="url(#gg2)"/><circle cx="3172.5" cy="947.9" r="9.5" fill="url(#gg2)"/><circle cx="3237.3" cy="948.3" r="9.5" fill="url(#gg2)"/><circle cx="3060.4" cy="926.9" r="9.5" fill="url(#gg2)"/><circle cx="3124.9" cy="972.8" r="9.5" fill="url(#gg2)"/><circle cx="3237.0" cy="935.0" r="9.5" fill="url(#gg2)"/><circle cx="3027.1" cy="894.8" r="9.5" fill="url(#gg2)"/><circle cx="3175.3" cy="954.0" r="9.5" fill="url(#gg2)"/><circle cx="3207.8" cy="939.3" r="9.5" fill="url(#gg2)"/><circle cx="3186.5" cy="960.9" r="9.5" fill="url(#gg2)"/><circle cx="3161.9" cy="952.0" r="9.5" fill="url(#gg2)"/><circle cx="3073.2" cy="948.3" r="9.5" fill="url(#gg2)"/><circle cx="3125.7" cy="946.8" r="9.5" fill="url(#gg2)"/><circle cx="3201.0" cy="957.6" r="9.5" fill="url(#gg2)"/><circle cx="3262.9" cy="938.0" r="9.5" fill="url(#gg2)"/><circle cx="3101.9" cy="942.6" r="9.5" fill="url(#gg2)"/><circle cx="3267.3" cy="938.6" r="9.5" fill="url(#gg2)"/><circle cx="3249.9" cy="951.8" r="9.5" fill="url(#gg2)"/><circle cx="3047.4" cy="917.6" r="9.5" fill="url(#gg2)"/><circle cx="3276.4" cy="936.3" r="9.5" fill="url(#gg2)"/><circle cx="3073.1" cy="935.5" r="9.5" fill="url(#gg2)"/><circle cx="3136.2" cy="938.1" r="9.5" fill="url(#gg2)"/><circle cx="3160.0" cy="951.5" r="9.5" fill="url(#gg2)"/><circle cx="3159.8" cy="957.2" r="9.5" fill="url(#gg2)"/><circle cx="3265.3" cy="940.1" r="9.5" fill="url(#gg2)"/><circle cx="3243.1" cy="961.2" r="9.5" fill="url(#gg2)"/><circle cx="3030.9" cy="897.2" r="9.5" fill="url(#gg2)"/><circle cx="3244.4" cy="966.8" r="9.5" fill="url(#gg2)"/><circle cx="3155.1" cy="941.5" r="9.5" fill="url(#gg2)"/><circle cx="3199.4" cy="951.4" r="9.5" fill="url(#gg2)"/><circle cx="3156.5" cy="962.3" r="9.5" fill="url(#gg2)"/><circle cx="3068.2" cy="944.6" r="9.5" fill="url(#gg2)"/><circle cx="3283.9" cy="954.8" r="9.5" fill="url(#gg2)"/><circle cx="3008.1" cy="862.3" r="9.5" fill="url(#gg2)"/><circle cx="3027.1" cy="884.2" r="9.5" fill="url(#gg2)"/><circle cx="3070.9" cy="931.7" r="9.5" fill="url(#gg2)"/><circle cx="2994.5" cy="805.5" r="9.5" fill="url(#gg2)"/><circle cx="3169.0" cy="960.2" r="9.5" fill="url(#gg2)"/><circle cx="3082.3" cy="938.1" r="9.5" fill="url(#gg2)"/><circle cx="3250.6" cy="958.4" r="9.5" fill="url(#gg2)"/><circle cx="3286.5" cy="946.6" r="9.5" fill="url(#gg2)"/><circle cx="3075.8" cy="942.5" r="9.5" fill="url(#gg2)"/><circle cx="2990.6" cy="816.5" r="9.5" fill="url(#gg2)"/><circle cx="3041.4" cy="899.1" r="9.5" fill="url(#gg2)"/><circle cx="3028.8" cy="902.0" r="9.5" fill="url(#gg2)"/><circle cx="2994.0" cy="827.2" r="9.5" fill="url(#gg2)"/><circle cx="3274.3" cy="942.1" r="9.5" fill="url(#gg2)"/><circle cx="3255.4" cy="940.6" r="9.5" fill="url(#gg2)"/><circle cx="3140.1" cy="951.7" r="9.5" fill="url(#gg2)"/><circle cx="3178.0" cy="937.2" r="9.5" fill="url(#gg2)"/><circle cx="3170.8" cy="940.0" r="9.5" fill="url(#gg2)"/><circle cx="3268.8" cy="938.3" r="9.5" fill="url(#gg2)"/><circle cx="3201.4" cy="946.9" r="9.5" fill="url(#gg2)"/><circle cx="3053.7" cy="911.8" r="9.5" fill="url(#gg2)"/><circle cx="3140.5" cy="968.3" r="9.5" fill="url(#gg2)"/><circle cx="3148.8" cy="954.7" r="9.5" fill="url(#gg2)"/><circle cx="3158.5" cy="946.6" r="9.5" fill="url(#gg2)"/><circle cx="2987.1" cy="788.9" r="9.5" fill="url(#gg2)"/><circle cx="2999.4" cy="829.4" r="9.5" fill="url(#gg2)"/><circle cx="3173.0" cy="933.3" r="9.5" fill="url(#gg2)"/><circle cx="3088.9" cy="939.1" r="9.5" fill="url(#gg2)"/><circle cx="3197.3" cy="947.1" r="9.5" fill="url(#gg2)"/><circle cx="2999.5" cy="836.4" r="9.5" fill="url(#gg2)"/><circle cx="3187.9" cy="953.7" r="9.5" fill="url(#gg2)"/><circle cx="3120.6" cy="941.1" r="9.5" fill="url(#gg2)"/><circle cx="3162.4" cy="942.5" r="9.5" fill="url(#gg2)"/><circle cx="3076.7" cy="939.8" r="9.5" fill="url(#gg2)"/><circle cx="3094.0" cy="931.4" r="9.5" fill="url(#gg2)"/><circle cx="3096.4" cy="934.0" r="9.5" fill="url(#gg2)"/><circle cx="3217.3" cy="959.0" r="9.5" fill="url(#gg2)"/><circle cx="3206.0" cy="949.3" r="9.5" fill="url(#gg2)"/><circle cx="3075.9" cy="934.5" r="9.5" fill="url(#gg2)"/><circle cx="3054.0" cy="935.9" r="9.5" fill="url(#gg2)"/><circle cx="3038.3" cy="893.6" r="9.5" fill="url(#gg2)"/><circle cx="3012.2" cy="873.5" r="9.5" fill="url(#gg2)"/><circle cx="3079.5" cy="924.6" r="9.5" fill="url(#gg2)"/><circle cx="3115.2" cy="956.6" r="9.5" fill="url(#gg2)"/><circle cx="3242.8" cy="951.7" r="9.5" fill="url(#gg2)"/><circle cx="3180.0" cy="953.9" r="9.5" fill="url(#gg2)"/><circle cx="3251.8" cy="941.7" r="9.5" fill="url(#gg2)"/><circle cx="3018.0" cy="880.8" r="9.5" fill="url(#gg2)"/><circle cx="3143.1" cy="950.9" r="9.5" fill="url(#gg2)"/><circle cx="3237.6" cy="962.9" r="9.5" fill="url(#gg2)"/><circle cx="3037.2" cy="902.3" r="9.5" fill="url(#gg2)"/><circle cx="3177.4" cy="962.8" r="9.5" fill="url(#gg2)"/><circle cx="3227.7" cy="945.0" r="9.5" fill="url(#gg2)"/><circle cx="3070.3" cy="933.2" r="9.5" fill="url(#gg2)"/><circle cx="3223.9" cy="946.5" r="9.5" fill="url(#gg2)"/><circle cx="3108.6" cy="949.0" r="9.5" fill="url(#gg2)"/><circle cx="3109.4" cy="923.9" r="9.5" fill="url(#gg2)"/><circle cx="3028.7" cy="906.0" r="9.5" fill="url(#gg2)"/><circle cx="2982.4" cy="797.1" r="9.5" fill="url(#gg2)"/><circle cx="3283.0" cy="941.4" r="9.5" fill="url(#gg2)"/><circle cx="3113.9" cy="961.3" r="9.5" fill="url(#gg2)"/><circle cx="3049.0" cy="909.8" r="9.5" fill="url(#gg2)"/><circle cx="3209.1" cy="954.3" r="9.5" fill="url(#gg2)"/><circle cx="3139.8" cy="933.4" r="9.5" fill="url(#gg2)"/><circle cx="3069.4" cy="925.4" r="9.5" fill="url(#gg2)"/><circle cx="3001.8" cy="849.8" r="9.5" fill="url(#gg2)"/><circle cx="3161.1" cy="942.3" r="9.5" fill="url(#gg2)"/><circle cx="2994.8" cy="840.4" r="9.5" fill="url(#gg2)"/><circle cx="3257.5" cy="940.8" r="9.5" fill="url(#gg2)"/><circle cx="3255.3" cy="928.7" r="9.5" fill="url(#gg2)"/><circle cx="3256.3" cy="946.5" r="9.5" fill="url(#gg2)"/><circle cx="3209.1" cy="946.7" r="9.5" fill="url(#gg2)"/><circle cx="3033.6" cy="897.1" r="9.5" fill="url(#gg2)"/><circle cx="3141.6" cy="957.5" r="9.5" fill="url(#gg2)"/><circle cx="3107.6" cy="952.1" r="9.5" fill="url(#gg2)"/><circle cx="3085.5" cy="930.6" r="9.5" fill="url(#gg2)"/><circle cx="3058.3" cy="929.3" r="9.5" fill="url(#gg2)"/><circle cx="3220.4" cy="939.7" r="9.5" fill="url(#gg2)"/><circle cx="3088.7" cy="939.8" r="9.5" fill="url(#gg2)"/><circle cx="3230.9" cy="958.2" r="9.5" fill="url(#gg2)"/><circle cx="3033.4" cy="906.2" r="9.5" fill="url(#gg2)"/><circle cx="3227.7" cy="928.0" r="9.5" fill="url(#gg2)"/><circle cx="3233.0" cy="960.3" r="9.5" fill="url(#gg2)"/><circle cx="3244.9" cy="948.4" r="9.5" fill="url(#gg2)"/><circle cx="2996.3" cy="828.0" r="9.5" fill="url(#gg2)"/><circle cx="3142.3" cy="952.0" r="9.5" fill="url(#gg2)"/><circle cx="3110.4" cy="925.8" r="9.5" fill="url(#gg2)"/><circle cx="2981.6" cy="778.6" r="9.5" fill="url(#gg2)"/><circle cx="2997.8" cy="836.6" r="9.5" fill="url(#gg2)"/><circle cx="3001.9" cy="848.0" r="9.5" fill="url(#gg2)"/><circle cx="3279.3" cy="950.2" r="9.5" fill="url(#gg2)"/><circle cx="3134.6" cy="941.2" r="9.5" fill="url(#gg2)"/><circle cx="3077.7" cy="929.1" r="9.5" fill="url(#gg2)"/><circle cx="3179.0" cy="954.5" r="9.5" fill="url(#gg2)"/><circle cx="3160.5" cy="942.3" r="9.5" fill="url(#gg2)"/><circle cx="3081.6" cy="938.4" r="9.5" fill="url(#gg2)"/><circle cx="3018.9" cy="866.9" r="9.5" fill="url(#gg2)"/><circle cx="3097.4" cy="933.6" r="9.5" fill="url(#gg2)"/><circle cx="3005.4" cy="857.1" r="9.5" fill="url(#gg2)"/><circle cx="3166.0" cy="954.1" r="9.5" fill="url(#gg2)"/><circle cx="3220.5" cy="935.8" r="9.5" fill="url(#gg2)"/><circle cx="3171.6" cy="957.6" r="9.5" fill="url(#gg2)"/><circle cx="3113.1" cy="934.2" r="9.5" fill="url(#gg2)"/><circle cx="3196.1" cy="954.8" r="9.5" fill="url(#gg2)"/><circle cx="3109.7" cy="937.6" r="9.5" fill="url(#gg2)"/><circle cx="3056.0" cy="911.9" r="9.5" fill="url(#gg2)"/><circle cx="3145.0" cy="943.9" r="9.5" fill="url(#gg2)"/><circle cx="3111.0" cy="938.0" r="9.5" fill="url(#gg2)"/><circle cx="3111.3" cy="956.7" r="9.5" fill="url(#gg2)"/><circle cx="3095.5" cy="923.5" r="9.5" fill="url(#gg2)"/><circle cx="3255.7" cy="949.6" r="9.5" fill="url(#gg2)"/><circle cx="3123.0" cy="936.2" r="9.5" fill="url(#gg2)"/><circle cx="3018.7" cy="885.1" r="9.5" fill="url(#gg2)"/><circle cx="3252.5" cy="935.6" r="9.5" fill="url(#gg2)"/><circle cx="3223.5" cy="940.3" r="9.5" fill="url(#gg2)"/><circle cx="3153.5" cy="932.9" r="9.5" fill="url(#gg2)"/><circle cx="3012.6" cy="868.0" r="9.5" fill="url(#gg2)"/><circle cx="3024.9" cy="889.4" r="9.5" fill="url(#gg2)"/><circle cx="3217.9" cy="951.3" r="9.5" fill="url(#gg2)"/><circle cx="3011.4" cy="867.5" r="9.5" fill="url(#gg2)"/><circle cx="3250.4" cy="948.6" r="9.5" fill="url(#gg2)"/><circle cx="3238.5" cy="949.5" r="9.5" fill="url(#gg2)"/><circle cx="3018.1" cy="886.5" r="9.5" fill="url(#gg2)"/><circle cx="3236.9" cy="936.5" r="9.5" fill="url(#gg2)"/><circle cx="3272.4" cy="933.7" r="9.5" fill="url(#gg2)"/><circle cx="2992.1" cy="808.2" r="9.5" fill="url(#gg2)"/><circle cx="3215.8" cy="933.3" r="9.5" fill="url(#gg2)"/><circle cx="3013.7" cy="869.9" r="9.5" fill="url(#gg2)"/><circle cx="3210.2" cy="950.4" r="9.5" fill="url(#gg2)"/><circle cx="3080.2" cy="932.1" r="9.5" fill="url(#gg2)"/><circle cx="3153.6" cy="948.8" r="9.5" fill="url(#gg2)"/><circle cx="3036.0" cy="898.0" r="9.5" fill="url(#gg2)"/><circle cx="3057.5" cy="911.0" r="9.5" fill="url(#gg2)"/><circle cx="3101.5" cy="929.4" r="9.5" fill="url(#gg2)"/><circle cx="3093.4" cy="930.9" r="9.5" fill="url(#gg2)"/><circle cx="3109.0" cy="945.9" r="9.5" fill="url(#gg2)"/><circle cx="3171.6" cy="930.0" r="9.5" fill="url(#gg5)"/><circle cx="3269.4" cy="914.1" r="9.5" fill="url(#gg5)"/><circle cx="3207.4" cy="933.7" r="9.5" fill="url(#gg5)"/><circle cx="3123.5" cy="927.1" r="9.5" fill="url(#gg5)"/><circle cx="3269.7" cy="919.2" r="9.5" fill="url(#gg5)"/><circle cx="3015.6" cy="849.7" r="9.5" fill="url(#gg5)"/><circle cx="3124.5" cy="928.6" r="9.5" fill="url(#gg5)"/><circle cx="3156.6" cy="942.9" r="9.5" fill="url(#gg5)"/><circle cx="2985.0" cy="788.2" r="9.5" fill="url(#gg5)"/><circle cx="3261.4" cy="939.8" r="9.5" fill="url(#gg5)"/><circle cx="3215.3" cy="941.3" r="9.5" fill="url(#gg5)"/><circle cx="3023.5" cy="894.2" r="9.5" fill="url(#gg5)"/><circle cx="3169.9" cy="931.3" r="9.5" fill="url(#gg5)"/><circle cx="3247.6" cy="932.3" r="9.5" fill="url(#gg5)"/><circle cx="3045.1" cy="908.2" r="9.5" fill="url(#gg5)"/><circle cx="3248.0" cy="959.6" r="9.5" fill="url(#gg5)"/><circle cx="3069.5" cy="928.3" r="9.5" fill="url(#gg5)"/><circle cx="3188.4" cy="928.3" r="9.5" fill="url(#gg5)"/><circle cx="3043.7" cy="915.2" r="9.5" fill="url(#gg5)"/><circle cx="3276.8" cy="926.4" r="9.5" fill="url(#gg5)"/><circle cx="3254.5" cy="929.0" r="9.5" fill="url(#gg5)"/><circle cx="3031.8" cy="898.5" r="9.5" fill="url(#gg5)"/><circle cx="3025.6" cy="889.7" r="9.5" fill="url(#gg5)"/><circle cx="3165.6" cy="934.1" r="9.5" fill="url(#gg5)"/><circle cx="2982.0" cy="770.7" r="9.5" fill="url(#gg5)"/><circle cx="3075.8" cy="910.5" r="9.5" fill="url(#gg5)"/><circle cx="3231.5" cy="923.1" r="9.5" fill="url(#gg5)"/><circle cx="3128.3" cy="929.7" r="9.5" fill="url(#gg5)"/><circle cx="3196.6" cy="956.9" r="9.5" fill="url(#gg5)"/><circle cx="2988.0" cy="807.0" r="9.5" fill="url(#gg5)"/><circle cx="3210.4" cy="932.7" r="9.5" fill="url(#gg5)"/><circle cx="3222.0" cy="930.1" r="9.5" fill="url(#gg5)"/><circle cx="3093.1" cy="922.3" r="9.5" fill="url(#gg5)"/><circle cx="2995.3" cy="820.4" r="9.5" fill="url(#gg5)"/><circle cx="3036.4" cy="900.7" r="9.5" fill="url(#gg5)"/><circle cx="3212.3" cy="929.8" r="9.5" fill="url(#gg5)"/><circle cx="3265.5" cy="940.5" r="9.5" fill="url(#gg5)"/><circle cx="3089.6" cy="919.4" r="9.5" fill="url(#gg5)"/><circle cx="3141.6" cy="930.4" r="9.5" fill="url(#gg5)"/><circle cx="3210.0" cy="926.9" r="9.5" fill="url(#gg5)"/><circle cx="3225.0" cy="933.5" r="9.5" fill="url(#gg5)"/><circle cx="3270.4" cy="929.8" r="9.5" fill="url(#gg5)"/><circle cx="3008.9" cy="847.0" r="9.5" fill="url(#gg5)"/><circle cx="3261.9" cy="943.5" r="9.5" fill="url(#gg5)"/><circle cx="3085.0" cy="932.7" r="9.5" fill="url(#gg5)"/><circle cx="3076.6" cy="913.2" r="9.5" fill="url(#gg5)"/><circle cx="3077.9" cy="921.2" r="9.5" fill="url(#gg5)"/><circle cx="3026.6" cy="886.9" r="9.5" fill="url(#gg5)"/><circle cx="3191.9" cy="937.3" r="9.5" fill="url(#gg5)"/><circle cx="2995.9" cy="822.5" r="9.5" fill="url(#gg5)"/><circle cx="3282.9" cy="922.0" r="9.5" fill="url(#gg5)"/><circle cx="3053.6" cy="905.9" r="9.5" fill="url(#gg5)"/><circle cx="3162.8" cy="935.7" r="9.5" fill="url(#gg5)"/><circle cx="3110.1" cy="916.8" r="9.5" fill="url(#gg5)"/><circle cx="2998.0" cy="831.0" r="9.5" fill="url(#gg5)"/><circle cx="3132.0" cy="927.7" r="9.5" fill="url(#gg5)"/><circle cx="3237.6" cy="942.9" r="9.5" fill="url(#gg5)"/><circle cx="3271.6" cy="943.8" r="9.5" fill="url(#gg5)"/><circle cx="3173.9" cy="932.1" r="9.5" fill="url(#gg5)"/><circle cx="3114.0" cy="922.5" r="9.5" fill="url(#gg5)"/><circle cx="3026.7" cy="888.1" r="9.5" fill="url(#gg5)"/><circle cx="3119.7" cy="920.9" r="9.5" fill="url(#gg5)"/><circle cx="3286.8" cy="948.3" r="9.5" fill="url(#gg5)"/><circle cx="3119.8" cy="905.9" r="9.5" fill="url(#gg5)"/><circle cx="3130.4" cy="927.4" r="9.5" fill="url(#gg5)"/><circle cx="3070.1" cy="905.2" r="9.5" fill="url(#gg5)"/><circle cx="3104.6" cy="931.6" r="9.5" fill="url(#gg5)"/><circle cx="3283.4" cy="939.7" r="9.5" fill="url(#gg5)"/><circle cx="3274.7" cy="923.7" r="9.5" fill="url(#gg5)"/><circle cx="3084.6" cy="913.0" r="9.5" fill="url(#gg5)"/><circle cx="3008.3" cy="850.7" r="9.5" fill="url(#gg5)"/><circle cx="3246.4" cy="949.1" r="9.5" fill="url(#gg5)"/><circle cx="3091.6" cy="927.1" r="9.5" fill="url(#gg5)"/><circle cx="3193.5" cy="914.6" r="9.5" fill="url(#gg5)"/><circle cx="3184.2" cy="931.8" r="9.5" fill="url(#gg5)"/><circle cx="3196.6" cy="922.0" r="9.5" fill="url(#gg5)"/><circle cx="3066.9" cy="898.1" r="9.5" fill="url(#gg5)"/><circle cx="3192.4" cy="932.9" r="9.5" fill="url(#gg5)"/><circle cx="3070.9" cy="930.5" r="9.5" fill="url(#gg5)"/><circle cx="3158.7" cy="925.6" r="9.5" fill="url(#gg5)"/><circle cx="2984.5" cy="777.4" r="9.5" fill="url(#gg5)"/><circle cx="3186.5" cy="929.1" r="9.5" fill="url(#gg5)"/><circle cx="3122.7" cy="934.0" r="9.5" fill="url(#gg5)"/><circle cx="3225.1" cy="918.5" r="9.5" fill="url(#gg5)"/><circle cx="3087.5" cy="912.1" r="9.5" fill="url(#gg5)"/><circle cx="3234.4" cy="918.9" r="9.5" fill="url(#gg5)"/><circle cx="3088.1" cy="933.5" r="9.5" fill="url(#gg5)"/><circle cx="3191.6" cy="914.5" r="9.5" fill="url(#gg5)"/><circle cx="3279.7" cy="943.6" r="9.5" fill="url(#gg5)"/><circle cx="3143.0" cy="926.5" r="9.5" fill="url(#gg5)"/><circle cx="2990.8" cy="751.0" r="9.5" fill="url(#gg1)"/><circle cx="2984.1" cy="763.6" r="9.5" fill="url(#gg2)"/><circle cx="2987.2" cy="770.3" r="9.5" fill="url(#gg3)"/><circle cx="2984.6" cy="779.3" r="9.5" fill="url(#gg3)"/><circle cx="2987.5" cy="790.1" r="9.5" fill="url(#gg1)"/><circle cx="2991.2" cy="797.0" r="9.5" fill="url(#gg1)"/><circle cx="2987.6" cy="808.0" r="9.5" fill="url(#gg1)"/><circle cx="2985.6" cy="812.7" r="9.5" fill="url(#gg3)"/><circle cx="2990.6" cy="824.2" r="9.5" fill="url(#gg1)"/><circle cx="2984.5" cy="830.4" r="9.5" fill="url(#gg1)"/><circle cx="2989.7" cy="844.4" r="9.5" fill="url(#gg3)"/><circle cx="2989.7" cy="848.5" r="9.5" fill="url(#gg3)"/><circle cx="2990.1" cy="861.5" r="9.5" fill="url(#gg1)"/><circle cx="2983.0" cy="868.8" r="9.5" fill="url(#gg1)"/><path d="M2752 936.6H3290M2840.8 1032.2H3290M2921.6 1164.1H3290" stroke="#000" stroke-width="5.6" stroke-dasharray="17 12.6"/><path d="M2760 936.6V1447.5M2847.6 1032.2V1443M2929.7 1164.1V1443" stroke="#000" stroke-width="6"/><path d="M2750 1447.5H2770M2838 1443H2858M2920 1443H2940M2750 937H2770M2838 1032.5H2858M2920 1164.5H2940" stroke="#000" stroke-width="6"/><g transform="translate(2726.00,1380.70) rotate(-90) scale(1.1715,1) translate(-2.81,0)" fill="#000"><text x="0.00" y="0.00" font-size="51.00" font-style="italic">G</text><text x="36.83" y="7.65" font-size="35.70">r</text><text x="61.47" y="0.00" font-size="51.00">=</text><text x="102.98" y="0.00" font-size="51.00">62</text></g><g transform="translate(2816.00,1380.70) rotate(-90) scale(1.1735,1) translate(-2.81,0)" fill="#000"><text x="0.00" y="0.00" font-size="51.00" font-style="italic">G</text><text x="36.83" y="7.65" font-size="35.70">r</text><text x="61.47" y="0.00" font-size="51.00">=</text><text x="102.98" y="0.00" font-size="51.00">51</text></g><g transform="translate(2904.00,1380.70) rotate(-90) scale(1.1614,1) translate(-2.81,0)" fill="#000"><text x="0.00" y="0.00" font-size="51.00" font-style="italic">G</text><text x="36.83" y="7.65" font-size="35.70">r</text><text x="61.47" y="0.00" font-size="51.00">=</text><text x="102.98" y="0.00" font-size="51.00">36</text></g><g transform="translate(2684.22,808.70) scale(1.2144,1)" fill="#000"><text x="0.00" y="0.00" font-size="51.00">Ex</text><text x="69.40" y="0.00" font-size="51.00">=</text></g><g transform="translate(2683.79,872.00) scale(1.1359,1)" fill="#000"><text x="0.00" y="0.00" font-size="51.00">808</text><text x="89.25" y="0.00" font-size="51.00">nm</text></g><g transform="translate(3048.42,1293.90) scale(1.1718,1)" fill="#000"><text x="0.00" y="0.00" font-size="51.00">After</text><text x="120.35" y="0.00" font-size="51.00">Ex</text></g><path d="M3030.3 1373H3059.5V1317.3H3081.8V1373H3111M3136.8 1373H3168.5V1317.3H3191.9V1373H3221.2V1317.3H3242.2V1373H3272.7" fill="none" stroke="#000" stroke-width="7"/><circle cx="3106.4" cy="1349" r="3.2"/><circle cx="3122.8" cy="1349" r="3.2"/><circle cx="3139.2" cy="1349" r="3.2"/><path d="M3029 1400.4H3275M3029 1392V1408M3275 1392V1408" stroke="#000" stroke-width="6"/><g transform="translate(3114.38,1450.80) scale(1.0983,1)" fill="#000"><text x="0.00" y="0.00" font-size="51.00">12</text></g><rect x="2664.4" y="749.0" width="630.6" height="747.0" fill="none" stroke="#000" stroke-width="3.0"/><path d="M2974.8 749V1496" stroke="#000" stroke-width="6"/><path d="M2956 1508L2978 1482M2966 1510L2988 1484" stroke="#000" stroke-width="3"/><rect x="2961" y="1494" width="18" height="6" fill="#fff"/><path d="M2916.6 1496.0V1482.0M3039.6 1496.0V1482.0" stroke="#000" stroke-width="3.0"/><path d="M2664.4 893.5H2678.4M2664.4 1181.6H2678.4M2664.4 1469.2H2678.4" stroke="#000" stroke-width="3.0"/><g transform="translate(2650.53,1551.00) scale(1.1100,1)" fill="#000"><text x="0.00" y="0.00" font-size="50.00">0</text></g><g transform="translate(2887.99,1551.00) scale(1.1100,1)" fill="#000"><text x="0.00" y="0.00" font-size="50.00">50</text></g><g transform="translate(2997.51,1551.00) scale(1.1100,1)" fill="#000"><text x="0.00" y="0.00" font-size="50.00">250</text></g><g transform="translate(3253.10,1551.00) scale(1.1100,1)" fill="#000"><text x="0.00" y="0.00" font-size="50.00">300</text></g><g transform="translate(2588.21,909.50) scale(1.1100,1)" fill="#000"><text x="0.00" y="0.00" font-size="50.00">68</text></g><g transform="translate(2586.97,1197.60) scale(1.1100,1)" fill="#000"><text x="0.00" y="0.00" font-size="50.00">34</text></g><g transform="translate(2615.96,1485.20) scale(1.1100,1)" fill="#000"><text x="0.00" y="0.00" font-size="50.00">0</text></g><g transform="translate(2894.58,1623.00) scale(1.2133,1)" fill="#000"><text x="0.00" y="0.00" font-size="51.00">Time/s</text></g><g transform="translate(2540.00,1211.60) rotate(-90) scale(1.2905,1) translate(0.20,0)" fill="#000"><text x="0.00" y="0.00" font-size="51.00" font-style="italic">I</text><text x="16.98" y="7.65" font-size="35.70">ds</text><text x="48.73" y="0.00" font-size="51.00">/</text><text x="62.90" y="0.00" font-size="51.00" font-style="italic">I</text><text x="79.88" y="7.65" font-size="35.70">max</text></g>
<g transform="translate(802.57,1741.50) scale(1.1505,1)" fill="#000"><text x="0.00" y="0.00" font-size="52.00">(h)</text></g><path d="M897 1944.6H1518" stroke="#1f7f76" stroke-width="7" stroke-dasharray="34 31" stroke-dashoffset="3"/><path d="M897 2322.2H1518" stroke="#1f7f76" stroke-width="7" stroke-dasharray="34 31" stroke-dashoffset="-2"/><polyline points="893.8,2323.5 894.7,2303.7 895.7,2305.8 896.6,2311.7 897.6,2321.6 898.5,2299.8 899.5,2299.2 900.4,2310.4 901.4,2310.7 902.3,2320.8 903.3,2329.6 904.2,2315.7 905.2,2307.6 906.1,2327.1 907.0,2299.8 908.0,2321.0 908.9,2290.2 909.9,2166.0 910.8,2108.8 911.8,2081.8 912.7,2068.3 913.7,2061.0 914.6,2056.3 915.6,2051.1 916.5,2054.7 917.5,2047.4 918.4,2036.3 919.4,2045.2 920.3,2030.3 921.2,2023.3 922.2,2019.9 923.1,2017.5 924.1,2041.9 925.0,2024.5 926.0,2031.6 926.9,2014.1 927.9,2019.8 928.8,2016.0 929.8,2011.4 930.7,2018.7 931.7,2009.9 932.6,2015.1 933.5,1986.7 934.5,2007.8 935.4,2001.1 936.4,2015.1 937.3,2010.1 938.3,2001.7 939.2,1984.2 940.2,1982.0 941.1,1984.1 942.1,1990.3 943.0,1964.8 944.0,1989.0 944.9,1985.0 945.8,1970.2 946.8,1981.5 947.7,2010.5 948.7,2075.1 949.6,2119.6 950.6,2150.6 951.5,2172.5 952.5,2188.2 953.4,2199.8 954.4,2208.6 955.3,2215.2 956.3,2234.2 957.2,2230.0 958.1,2227.8 959.1,2222.2 960.0,2247.6 961.0,2243.8 961.9,2240.5 962.9,2240.8 963.8,2259.0 964.8,2235.0 965.7,2259.3 966.7,2246.1 967.6,2258.9 968.6,2256.1 969.5,2247.9 970.5,2257.9 971.4,2264.7 972.3,2275.9 973.3,2275.0 974.2,2283.2 975.2,2256.8 976.1,2287.8 977.1,2298.0 978.0,2265.0 979.0,2269.7 979.9,2284.7 980.9,2276.4 981.8,2291.6 982.8,2291.0 983.7,2283.6 984.6,2285.9 985.6,2294.2 986.5,2278.5 987.5,2287.0 988.4,2293.2 989.4,2305.3 990.3,2295.6 991.3,2300.5 992.2,2299.7 993.2,2293.6 994.1,2306.0 995.1,2300.1 996.0,2296.7 996.9,2301.4 997.9,2286.3 998.8,2320.5 999.8,2307.6 1000.7,2317.7 1001.7,2309.4 1002.6,2289.0 1003.6,2324.0 1004.5,2313.7 1005.5,2306.7 1006.4,2312.1 1007.4,2306.0 1008.3,2327.1 1009.3,2307.0 1010.2,2323.6 1011.1,2326.4 1012.1,2312.3 1013.0,2313.7 1014.0,2324.3 1014.9,2325.6 1015.9,2321.1 1016.8,2320.1 1017.8,2321.9 1018.7,2329.4 1019.7,2340.7 1020.6,2311.3 1021.6,2321.2 1022.5,2333.3 1023.4,2336.5 1024.4,2329.7 1025.3,2327.9 1026.3,2342.5 1027.2,2313.8 1028.2,2322.2 1029.1,2228.5 1030.1,2122.5 1031.0,2073.4 1032.0,2049.9 1032.9,2037.8 1033.9,2030.9 1034.8,2026.4 1035.7,2025.6 1036.7,2023.9 1037.6,2025.1 1038.6,2016.2 1039.5,2018.2 1040.5,2008.6 1041.4,2003.1 1042.4,1998.3 1043.3,2011.5 1044.3,1987.9 1045.2,1998.3 1046.2,1993.7 1047.1,1994.8 1048.1,2006.1 1049.0,1982.3 1049.9,1998.7 1050.9,1969.0 1051.8,1976.3 1052.8,1959.4 1053.7,1965.3 1054.7,1962.1 1055.6,1952.9 1056.6,1963.8 1057.5,1946.3 1058.5,1959.2 1059.4,1953.0 1060.4,1959.1 1061.3,1944.9 1062.2,1941.1 1063.2,1949.4 1064.1,1954.1 1065.1,1939.7 1066.0,1932.8 1067.0,1935.5 1067.9,2001.9 1068.9,2065.0 1069.8,2108.6 1070.8,2139.1 1071.7,2160.8 1072.7,2176.5 1073.6,2188.1 1074.5,2197.1 1075.5,2190.1 1076.4,2204.0 1077.4,2207.2 1078.3,2220.3 1079.3,2234.0 1080.2,2202.7 1081.2,2227.4 1082.1,2231.0 1083.1,2222.4 1084.0,2232.1 1085.0,2241.1 1085.9,2253.3 1086.8,2248.1 1087.8,2250.5 1088.7,2257.3 1089.7,2261.2 1090.6,2264.7 1091.6,2259.6 1092.5,2265.7 1093.5,2259.5 1094.4,2256.6 1095.4,2264.3 1096.3,2268.7 1097.3,2257.9 1098.2,2267.3 1099.2,2286.7 1100.1,2282.1 1101.0,2276.3 1102.0,2286.9 1102.9,2274.9 1103.9,2297.3 1104.8,2300.1 1105.8,2277.7 1106.7,2282.5 1107.7,2301.9 1108.6,2289.4 1109.6,2280.3 1110.5,2301.9 1111.5,2303.8 1112.4,2305.3 1113.3,2304.6 1114.3,2311.9 1115.2,2302.7 1116.2,2311.8 1117.1,2300.4 1118.1,2283.5 1119.0,2311.7 1120.0,2296.5 1120.9,2295.3 1121.9,2325.1 1122.8,2306.0 1123.8,2307.9 1124.7,2311.4 1125.6,2302.9 1126.6,2314.0 1127.5,2308.2 1128.5,2315.2 1129.4,2313.8 1130.4,2319.9 1131.3,2295.4 1132.3,2315.3 1133.2,2324.8 1134.2,2300.1 1135.1,2303.9 1136.1,2319.2 1137.0,2323.6 1138.0,2324.9 1138.9,2309.1 1139.8,2322.6 1140.8,2326.4 1141.7,2314.0 1142.7,2323.8 1143.6,2322.5 1144.6,2306.5 1145.5,2315.9 1146.5,2313.2 1147.4,2231.3 1148.4,2128.3 1149.3,2080.6 1150.3,2057.8 1151.2,2046.1 1152.1,2039.4 1153.1,2035.0 1154.0,2026.5 1155.0,2029.7 1155.9,2020.1 1156.9,2028.8 1157.8,2015.6 1158.8,2008.9 1159.7,1993.1 1160.7,1996.0 1161.6,2006.5 1162.6,1994.1 1163.5,2010.9 1164.4,1991.4 1165.4,1998.5 1166.3,1984.7 1167.3,1991.5 1168.2,1994.2 1169.2,1996.1 1170.1,1975.1 1171.1,1983.7 1172.0,1975.0 1173.0,1974.6 1173.9,1995.7 1174.9,1968.3 1175.8,1974.8 1176.7,1965.1 1177.7,1961.6 1178.6,1980.5 1179.6,1963.9 1180.5,1959.0 1181.5,1952.2 1182.4,1944.4 1183.4,1957.0 1184.3,1950.2 1185.3,1939.6 1186.2,2011.8 1187.2,2073.1 1188.1,2115.4 1189.1,2145.0 1190.0,2166.0 1190.9,2181.2 1191.9,2192.6 1192.8,2201.3 1193.8,2222.2 1194.7,2212.7 1195.7,2215.9 1196.6,2218.2 1197.6,2236.9 1198.5,2236.8 1199.5,2239.6 1200.4,2233.9 1201.4,2246.3 1202.3,2242.8 1203.2,2236.9 1204.2,2250.6 1205.1,2238.5 1206.1,2249.6 1207.0,2256.4 1208.0,2247.6 1208.9,2254.8 1209.9,2263.4 1210.8,2268.0 1211.8,2265.6 1212.7,2264.4 1213.7,2259.7 1214.6,2268.8 1215.5,2278.0 1216.5,2285.7 1217.4,2274.3 1218.4,2274.9 1219.3,2270.4 1220.3,2285.8 1221.2,2293.7 1222.2,2277.6 1223.1,2287.4 1224.1,2297.5 1225.0,2275.2 1226.0,2282.9 1226.9,2291.0 1227.9,2290.6 1228.8,2300.3 1229.7,2287.2 1230.7,2300.2 1231.6,2301.5 1232.6,2301.3 1233.5,2309.4 1234.5,2292.6 1235.4,2288.4 1236.4,2296.9 1237.3,2321.1 1238.3,2307.6 1239.2,2311.3 1240.2,2303.9 1241.1,2325.6 1242.0,2326.5 1243.0,2313.4 1243.9,2302.3 1244.9,2312.8 1245.8,2293.8 1246.8,2319.8 1247.7,2313.2 1248.7,2315.5 1249.6,2321.8 1250.6,2306.5 1251.5,2327.2 1252.5,2325.7 1253.4,2320.6 1254.3,2322.2 1255.3,2309.5 1256.2,2323.8 1257.2,2315.8 1258.1,2324.4 1259.1,2310.5 1260.0,2321.7 1261.0,2319.9 1261.9,2336.1 1262.9,2317.3 1263.8,2328.9 1264.8,2316.7 1265.7,2227.6 1266.7,2120.6 1267.6,2071.0 1268.5,2047.2 1269.5,2035.1 1270.4,2028.1 1271.4,2023.5 1272.3,2031.0 1273.3,2011.1 1274.2,2000.2 1275.2,2008.9 1276.1,2007.4 1277.1,2001.4 1278.0,1992.8 1279.0,2005.5 1279.9,1988.8 1280.8,2002.0 1281.8,1987.3 1282.7,1984.8 1283.7,1999.0 1284.6,1978.1 1285.6,1979.5 1286.5,1994.5 1287.5,1980.4 1288.4,1979.3 1289.4,1979.1 1290.3,1964.2 1291.3,1972.8 1292.2,1962.2 1293.1,1970.2 1294.1,1959.8 1295.0,1937.5 1296.0,1948.0 1296.9,1963.8 1297.9,1955.3 1298.8,1945.1 1299.8,1956.4 1300.7,1929.3 1301.7,1936.2 1302.6,1933.7 1303.6,1929.9 1304.5,1998.6 1305.4,2062.3 1306.4,2106.4 1307.3,2137.2 1308.3,2159.0 1309.2,2174.9 1310.2,2186.6 1311.1,2195.7 1312.1,2205.6 1313.0,2208.4 1314.0,2224.3 1314.9,2206.7 1315.9,2231.2 1316.8,2225.5 1317.8,2237.8 1318.7,2224.5 1319.6,2245.4 1320.6,2245.3 1321.5,2231.5 1322.5,2253.7 1323.4,2250.4 1324.4,2244.0 1325.3,2248.0 1326.3,2267.8 1327.2,2250.7 1328.2,2260.3 1329.1,2250.0 1330.1,2276.5 1331.0,2258.0 1331.9,2263.0 1332.9,2271.4 1333.8,2273.7 1334.8,2268.9 1335.7,2279.6 1336.7,2278.5 1337.6,2283.7 1338.6,2277.9 1339.5,2275.1 1340.5,2295.4 1341.4,2283.6 1342.4,2282.8 1343.3,2274.4 1344.2,2294.3 1345.2,2279.3 1346.1,2294.6 1347.1,2288.3 1348.0,2291.7 1349.0,2292.6 1349.9,2298.9 1350.9,2305.3 1351.8,2286.1 1352.8,2287.5 1353.7,2301.6 1354.7,2303.1 1355.6,2304.5 1356.6,2314.7 1357.5,2313.9 1358.4,2302.3 1359.4,2298.8 1360.3,2309.4 1361.3,2316.1 1362.2,2318.1 1363.2,2315.2 1364.1,2305.2 1365.1,2311.3 1366.0,2324.3 1367.0,2322.8 1367.9,2311.3 1368.9,2312.2 1369.8,2300.9 1370.7,2304.2 1371.7,2315.2 1372.6,2323.0 1373.6,2316.3 1374.5,2328.0 1375.5,2324.9 1376.4,2311.5 1377.4,2315.3 1378.3,2313.3 1379.3,2308.6 1380.2,2325.3 1381.2,2315.8 1382.1,2322.3 1383.0,2320.8 1384.0,2231.3 1384.9,2128.3 1385.9,2080.6 1386.8,2057.8 1387.8,2046.1 1388.7,2039.4 1389.7,2035.0 1390.6,2032.6 1391.6,2041.8 1392.5,2016.9 1393.5,2019.0 1394.4,2006.6 1395.3,2021.8 1396.3,2016.3 1397.2,2012.2 1398.2,1997.4 1399.1,2002.4 1400.1,2001.4 1401.0,2017.9 1402.0,2007.9 1402.9,2011.1 1403.9,1996.4 1404.8,1984.1 1405.8,1989.0 1406.7,1995.6 1407.7,1965.3 1408.6,1992.1 1409.5,1966.2 1410.5,1965.7 1411.4,1971.6 1412.4,1958.8 1413.3,1979.0 1414.3,1971.4 1415.2,1966.5 1416.2,1957.6 1417.1,1960.1 1418.1,1939.9 1419.0,1956.8 1420.0,1952.8 1420.9,1959.5 1421.8,1941.0 1422.8,1996.6 1423.7,2058.0 1424.7,2100.3 1425.6,2129.9 1426.6,2150.9 1427.5,2166.1 1428.5,2177.5 1429.4,2186.2 1430.4,2189.1 1431.3,2195.0 1432.3,2216.9 1433.2,2203.4 1434.1,2205.7 1435.1,2205.5 1436.0,2210.2 1437.0,2226.8 1437.9,2221.9 1438.9,2238.5 1439.8,2217.6 1440.8,2243.4 1441.7,2228.8 1442.7,2243.5 1443.6,2246.1 1444.6,2249.0 1445.5,2246.6 1446.5,2242.9 1447.4,2238.9 1448.3,2252.6 1449.3,2245.1 1450.2,2246.9 1451.2,2239.0 1452.1,2262.8 1453.1,2257.1 1454.0,2255.7 1455.0,2261.9 1455.9,2259.6 1456.9,2271.9 1457.8,2270.9 1458.8,2274.6 1459.7,2276.2 1460.6,2279.7 1461.6,2274.6 1462.5,2285.3 1463.5,2281.3 1464.4,2273.0 1465.4,2292.1 1466.3,2289.0 1467.3,2284.9 1468.2,2291.5 1469.2,2292.1 1470.1,2269.5 1471.1,2283.3 1472.0,2290.9 1472.9,2294.2 1473.9,2302.0 1474.8,2299.7 1475.8,2310.1 1476.7,2287.4 1477.7,2297.1 1478.6,2286.3 1479.6,2294.7 1480.5,2311.9 1481.5,2280.6 1482.4,2292.8 1483.4,2290.5 1484.3,2303.1 1485.2,2303.9 1486.2,2301.5 1487.1,2285.9 1488.1,2311.7 1489.0,2310.8 1490.0,2298.3 1490.9,2319.5 1491.9,2291.6 1492.8,2313.9 1493.8,2295.2 1494.7,2306.8 1495.7,2309.0 1496.6,2316.0" fill="none" stroke="#1e7d76" stroke-width="6.5" stroke-linejoin="round" stroke-linecap="round"/><path d="M1495.0 1964.6V2289.0" stroke="#000" stroke-width="3.5"/><path d="M1495.0 1951.6L1502.0 1968.6L1495.0 1962.6L1488.0 1968.6Z" fill="#000"/><path d="M1495.0 2302.0L1502.0 2285.0L1495.0 2291.0L1488.0 2285.0Z" fill="#000"/><g transform="translate(912.42,1782.00) scale(1.1852,1)" fill="#000"><text x="0.00" y="0.00" font-size="51.00">Inverter</text><text x="174.14" y="0.00" font-size="51.00">mode</text></g><g transform="translate(1230.83,1839.40) scale(1.1490,1)" fill="#000"><text x="0.00" y="0.00" font-size="51.00">Acquisition</text></g><g transform="translate(1360.19,1900.00) scale(1.1292,1)" fill="#000"><text x="0.00" y="0.00" font-size="51.00" font-style="italic">V</text><text x="31.15" y="7.65" font-size="35.70">g</text><text x="61.75" y="0.00" font-size="51.00">&lt;</text><text x="103.27" y="0.00" font-size="51.00">0</text></g><g transform="translate(1196.79,2400.20) scale(1.2471,1)" fill="#000"><text x="0.00" y="0.00" font-size="51.00">Constant</text><text x="194.09" y="0.00" font-size="51.00">Δ</text><text x="226.89" y="0.00" font-size="51.00" font-style="italic">I</text></g><rect x="893.8" y="1720.6" width="630.9" height="748.6" fill="none" stroke="#000" stroke-width="3.0"/><path d="M1051.4 2469.2V2455.2M1209.0 2469.2V2455.2M1366.0 2469.2V2455.2" stroke="#000" stroke-width="3.0"/><path d="M893.8 1882.6H907.8M893.8 2042.4H907.8M893.8 2202.3H907.8M893.8 2362.0H907.8" stroke="#000" stroke-width="3.0"/><g transform="translate(879.92,2523.60) scale(1.1100,1)" fill="#000"><text x="0.00" y="0.00" font-size="50.00">0</text></g><g transform="translate(1023.49,2523.60) scale(1.1100,1)" fill="#000"><text x="0.00" y="0.00" font-size="50.00">20</text></g><g transform="translate(1181.76,2523.60) scale(1.1100,1)" fill="#000"><text x="0.00" y="0.00" font-size="50.00">40</text></g><g transform="translate(1338.11,2523.60) scale(1.1100,1)" fill="#000"><text x="0.00" y="0.00" font-size="50.00">60</text></g><g transform="translate(1496.95,2523.60) scale(1.1100,1)" fill="#000"><text x="0.00" y="0.00" font-size="50.00">80</text></g><g transform="translate(1120.87,2596.50) scale(1.2313,1)" fill="#000"><text x="0.00" y="0.00" font-size="51.00">Time/s</text></g><g transform="translate(843.50,2254.40) rotate(-90) scale(1.2730,1) translate(0.20,0)" fill="#000"><text x="0.00" y="0.00" font-size="51.00" font-style="italic">I</text><text x="16.98" y="7.65" font-size="35.70">ds</text><text x="48.73" y="0.00" font-size="51.00">/arb.</text><text x="153.52" y="0.00" font-size="51.00">units</text></g>
<g transform="translate(1653.80,1741.50) scale(1.1368,1)" fill="#000"><text x="0.00" y="0.00" font-size="52.00">(i)</text></g><rect x="1795.0" y="1853.5" width="624.0" height="33.5" fill="#a9d4c8"/><rect x="1795.0" y="1887.0" width="624.0" height="25.0" fill="#6da995"/><rect x="1795.0" y="1912.0" width="624.0" height="34.0" fill="#b9c7c1"/><rect x="1795.0" y="2029.0" width="624.0" height="52.7" fill="#c6e6dd"/><circle cx="1840.8" cy="2062.6" r="12.5" fill="url(#i808)"/><circle cx="1889.3" cy="2050.8" r="12.5" fill="url(#i808)"/><circle cx="1937.8" cy="2055.9" r="12.5" fill="url(#i808)"/><circle cx="1986.4" cy="2044.7" r="12.5" fill="url(#i808)"/><circle cx="2035.0" cy="2046.9" r="12.5" fill="url(#i808)"/><circle cx="2083.5" cy="2044.1" r="12.5" fill="url(#i808)"/><circle cx="2132.1" cy="2040.2" r="12.5" fill="url(#i808)"/><circle cx="2180.6" cy="2057.0" r="12.5" fill="url(#i808)"/><circle cx="2229.2" cy="2043.0" r="12.5" fill="url(#i808)"/><circle cx="2277.7" cy="2041.3" r="12.5" fill="url(#i808)"/><circle cx="2326.2" cy="2041.3" r="12.5" fill="url(#i808)"/><circle cx="2374.8" cy="2032.9" r="12.5" fill="url(#i808)"/><circle cx="1840.8" cy="1976.8" r="12.5" fill="url(#i532)"/><circle cx="1889.3" cy="1916.8" r="12.5" fill="url(#i532)"/><circle cx="1937.8" cy="1898.3" r="12.5" fill="url(#i532)"/><circle cx="1986.4" cy="1927.5" r="12.5" fill="url(#i532)"/><circle cx="2035.0" cy="1892.7" r="12.5" fill="url(#i532)"/><circle cx="2083.5" cy="1916.8" r="12.5" fill="url(#i532)"/><circle cx="2132.1" cy="1929.2" r="12.5" fill="url(#i532)"/><circle cx="2180.6" cy="1905.6" r="12.5" fill="url(#i532)"/><circle cx="2229.2" cy="1913.5" r="12.5" fill="url(#i532)"/><circle cx="2277.7" cy="1914.0" r="12.5" fill="url(#i532)"/><circle cx="2326.2" cy="1913.5" r="12.5" fill="url(#i532)"/><circle cx="2374.8" cy="1919.0" r="12.5" fill="url(#i532)"/><circle cx="1840.8" cy="1957.2" r="12.5" fill="url(#i635)"/><circle cx="1889.3" cy="1888.8" r="12.5" fill="url(#i635)"/><circle cx="1937.8" cy="1875.9" r="12.5" fill="url(#i635)"/><circle cx="1986.4" cy="1863.0" r="12.5" fill="url(#i635)"/><circle cx="2035.0" cy="1868.6" r="12.5" fill="url(#i635)"/><circle cx="2083.5" cy="1870.3" r="12.5" fill="url(#i635)"/><circle cx="2132.1" cy="1883.2" r="12.5" fill="url(#i635)"/><circle cx="2180.6" cy="1878.7" r="12.5" fill="url(#i635)"/><circle cx="2229.2" cy="1870.3" r="12.5" fill="url(#i635)"/><circle cx="2277.7" cy="1891.0" r="12.5" fill="url(#i635)"/><circle cx="2326.2" cy="1892.7" r="12.5" fill="url(#i635)"/><circle cx="2374.8" cy="1895.5" r="12.5" fill="url(#i635)"/><g transform="translate(1812.93,1772.20) scale(1.1486,1)" fill="#000"><text x="0.00" y="0.00" font-size="51.00">Acquisition</text></g><g transform="translate(1810.31,1835.50) scale(1.1976,1)" fill="#000"><text x="0.00" y="0.00" font-size="51.00" font-style="italic">V</text><text x="31.15" y="7.65" font-size="35.70">g</text><text x="61.75" y="0.00" font-size="51.00">=</text><text x="103.27" y="0.00" font-size="51.00">−10</text><text x="195.78" y="0.00" font-size="51.00">V</text></g><path d="M2243.6 2154.6H2276V2101.9H2299.6V2154.6H2359V2100.2H2380V2154.6H2410.7" fill="none" stroke="#000" stroke-width="6.5"/><path d="M2314.0 2123.0H2344.0" stroke="#000" stroke-width="5.0"/><path d="M2301.0 2123.0L2318.0 2114.0L2313.0 2123.0L2318.0 2132.0Z" fill="#000"/><path d="M2357.0 2123.0L2340.0 2114.0L2345.0 2123.0L2340.0 2132.0Z" fill="#000"/><g transform="translate(2273.48,2209.50) scale(1.2320,1)" fill="#000"><text x="0.00" y="0.00" font-size="51.00">10</text><text x="63.75" y="0.00" font-size="51.00">s</text></g><circle cx="2172.4" cy="2306.0" r="12.5" fill="url(#i532)"/><g transform="translate(2202.58,2321.00) scale(1.1536,1)" fill="#000"><text x="0.00" y="0.00" font-size="51.00">532</text><text x="89.25" y="0.00" font-size="51.00">nm</text></g><circle cx="2172.4" cy="2365.4" r="12.5" fill="url(#i635)"/><g transform="translate(2203.48,2380.40) scale(1.1477,1)" fill="#000"><text x="0.00" y="0.00" font-size="51.00">635</text><text x="89.25" y="0.00" font-size="51.00">nm</text></g><circle cx="2172.4" cy="2423.7" r="12.5" fill="url(#i808)"/><g transform="translate(2203.77,2438.70) scale(1.1458,1)" fill="#000"><text x="0.00" y="0.00" font-size="51.00">808</text><text x="89.25" y="0.00" font-size="51.00">nm</text></g><rect x="1941.4" y="2302.0" width="10.3" height="57.2" fill="#74b4a0"/><rect x="1951.7" y="2186.8" width="10.3" height="172.4" fill="#6cb9a2"/><rect x="1962.0" y="2348.0" width="13.0" height="11.2" fill="#9aa8a0"/><rect x="1988.3" y="2348.0" width="11.2" height="11.2" fill="#4a5a52"/><rect x="1999.5" y="2348.0" width="9.5" height="11.2" fill="#3f8a70"/><rect x="2011.7" y="2324.5" width="10.3" height="34.7" fill="#1f4a3a"/><rect x="2023.0" y="2210.2" width="10.2" height="149.0" fill="#1e4a3c"/><rect x="2033.2" y="2278.6" width="12.2" height="80.6" fill="#1a7272"/><rect x="2033.2" y="2322.6" width="12.2" height="36.6" fill="#1d4d3c"/><rect x="2046.3" y="2210.2" width="9.4" height="149.0" fill="#1a7474"/><rect x="1899.3" y="2162.5" width="196.7" height="196.7" fill="none" stroke="#000" stroke-width="2.8"/><path d="M1899.3 2231.8H1910.3M1899.3 2300.2H1910.3" stroke="#000" stroke-width="2.5"/><path d="M2073.5 2359.2V2351.2" stroke="#000" stroke-width="2.5"/><g transform="translate(1872.23,2172.50) scale(1.1100,1)" fill="#000"><text x="0.00" y="0.00" font-size="29.00">9</text></g><g transform="translate(1871.86,2241.80) scale(1.1100,1)" fill="#000"><text x="0.00" y="0.00" font-size="29.00">6</text></g><g transform="translate(1872.16,2310.20) scale(1.1100,1)" fill="#000"><text x="0.00" y="0.00" font-size="29.00">3</text></g><g transform="translate(1869.05,2397.60) scale(1.5482,1)" fill="#000"><text x="0.00" y="0.00" font-size="29.00">1.2</text></g><g transform="translate(2047.03,2397.60) scale(1.4189,1)" fill="#000"><text x="0.00" y="0.00" font-size="29.00">3.0</text></g><g transform="translate(1842.00,2311.40) rotate(-90) scale(1.1827,1) translate(-1.48,0)" fill="#000"><text x="0.00" y="0.00" font-size="36.00">Count</text></g><g transform="translate(1935.08,2436.90) scale(1.2843,1)" fill="#000"><text x="0.00" y="0.00" font-size="36.00" font-style="italic">I</text><text x="11.99" y="5.40" font-size="25.20">On</text><text x="42.79" y="0.00" font-size="36.00">/</text><text x="52.79" y="0.00" font-size="36.00" font-style="italic">I</text><text x="64.78" y="5.40" font-size="25.20">Off</text></g><rect x="1792.2" y="1720.6" width="629.7" height="748.6" fill="none" stroke="#000" stroke-width="3.0"/><path d="M1938.0 2469.2V2455.2M2081.5 2469.2V2455.2M2226.8 2469.2V2455.2M2371.4 2469.2V2455.2" stroke="#000" stroke-width="3.0"/><path d="M1792.2 1826.5H1806.2M1792.2 2042.4H1806.2M1792.2 2258.3H1806.2" stroke="#000" stroke-width="3.0"/><g transform="translate(1778.33,2523.60) scale(1.1100,1)" fill="#000"><text x="0.00" y="0.00" font-size="50.00">0</text></g><g transform="translate(1923.88,2523.60) scale(1.1100,1)" fill="#000"><text x="0.00" y="0.00" font-size="50.00">3</text></g><g transform="translate(2067.26,2523.60) scale(1.1100,1)" fill="#000"><text x="0.00" y="0.00" font-size="50.00">6</text></g><g transform="translate(2213.17,2523.60) scale(1.1100,1)" fill="#000"><text x="0.00" y="0.00" font-size="50.00">9</text></g><g transform="translate(2342.74,2523.60) scale(1.1100,1)" fill="#000"><text x="0.00" y="0.00" font-size="50.00">12</text></g><g transform="translate(1745.82,1843.50) scale(1.1100,1)" fill="#000"><text x="0.00" y="0.00" font-size="50.00">3</text></g><g transform="translate(1746.71,2059.40) scale(1.1100,1)" fill="#000"><text x="0.00" y="0.00" font-size="50.00">2</text></g><g transform="translate(1746.98,2275.30) scale(1.1100,1)" fill="#000"><text x="0.00" y="0.00" font-size="50.00">1</text></g><g transform="translate(1940.66,2596.50) scale(1.1839,1)" fill="#000"><text x="0.00" y="0.00" font-size="51.00">Pulse</text><text x="123.27" y="0.00" font-size="51.00">number</text></g><g transform="translate(1692.00,2181.50) rotate(-90) scale(1.2683,1) translate(0.20,0)" fill="#000"><text x="0.00" y="0.00" font-size="51.00" font-style="italic">I</text><text x="16.98" y="7.65" font-size="35.70">On</text><text x="60.61" y="0.00" font-size="51.00">/</text><text x="74.78" y="0.00" font-size="51.00" font-style="italic">I</text><text x="91.77" y="7.65" font-size="35.70">Off</text></g>
<g transform="translate(2482.61,1741.50) scale(1.1346,1)" fill="#000"><text x="0.00" y="0.00" font-size="52.00">(j)</text></g><path d="M2667.5 2366.6L3290 2190M2667.5 2411.4L3290 2304.9" stroke="#c46e30" stroke-width="6.5" stroke-dasharray="32 38"/><path d="M2669 1862.8H3290M2669 2070.2H3290" stroke="#1f8078" stroke-width="7" stroke-dasharray="35 30"/><polyline points="2664.7,2128.6 2665.2,2129.4 2665.7,2131.2 2666.2,2127.2 2666.7,2130.5 2667.2,2132.7 2667.7,2133.2 2668.2,2127.7 2668.7,2131.8 2669.2,2131.8 2669.7,2131.2 2670.2,2135.2 2670.7,2132.1 2671.2,2131.7 2671.7,2136.0 2672.2,2133.9 2672.7,2131.5 2673.2,2131.9 2673.8,2133.7 2674.3,2130.5 2674.8,2135.3 2675.3,2136.6 2675.8,2134.4 2676.3,2138.1 2676.8,2139.1 2677.3,2136.4 2677.8,2137.8 2678.3,2133.6 2678.8,2133.4 2679.3,2141.1 2679.8,2135.9 2680.3,2135.6 2680.8,2141.4 2681.3,2140.6 2681.8,2135.9 2682.3,2137.8 2682.8,2137.5 2683.3,2138.0 2683.8,2136.2 2684.3,2140.7 2684.8,2139.2 2685.3,2140.3 2685.8,2138.9 2686.3,2138.6 2686.8,2138.3 2687.3,2145.4 2687.8,2144.7 2688.3,2143.5 2688.8,2140.4 2689.3,2140.9 2689.8,2141.0 2690.3,2142.9 2690.8,2141.1 2691.3,2143.2 2691.9,2142.9 2692.4,2143.1 2692.9,2147.1 2693.4,2145.9 2693.9,2146.3 2694.4,2145.7 2694.9,2147.5 2695.4,2149.8 2695.9,2146.3 2696.4,2144.7 2696.9,2148.3 2697.4,2147.8 2697.9,2151.4 2698.4,2146.3 2698.9,2152.7 2699.4,2146.2 2699.9,2150.7 2700.4,2150.3 2700.9,2149.6 2701.4,2154.5 2701.9,2153.3 2702.4,2149.3 2702.9,2152.3 2703.4,2153.5 2703.9,2149.2 2704.4,2150.0 2704.9,2154.4 2705.4,2155.8 2705.9,2153.9 2706.4,2153.9 2706.9,2152.0 2707.4,2105.5 2707.9,2067.4 2708.4,2036.2 2708.9,2010.6 2709.4,1989.7 2710.0,1972.6 2710.5,1958.6 2711.0,1947.1 2711.5,1937.7 2712.0,1930.0 2712.5,1923.7 2713.0,1918.5 2713.5,1914.3 2714.0,1910.9 2714.5,1908.0 2715.0,1905.7 2715.5,1903.8 2716.0,1910.6 2716.5,1921.9 2717.0,1940.4 2717.5,1952.2 2718.0,1957.3 2718.5,1961.5 2719.0,1973.3 2719.5,1984.5 2720.0,1986.2 2720.5,1989.9 2721.0,1996.1 2721.5,2006.3 2722.0,2009.8 2722.5,2010.6 2723.0,2017.7 2723.5,2022.6 2724.0,2027.9 2724.5,2029.6 2725.0,2028.4 2725.5,2034.8 2726.0,2038.4 2726.5,2040.2 2727.0,2041.2 2727.6,2041.6 2728.1,2042.8 2728.6,2048.1 2729.1,2047.6 2729.6,2050.3 2730.1,2047.0 2730.6,2047.2 2731.1,2050.5 2731.6,2055.1 2732.1,2056.5 2732.6,2054.1 2733.1,2055.3 2733.6,2064.2 2734.1,2056.7 2734.6,2066.5 2735.1,2066.1 2735.6,2065.3 2736.1,2070.7 2736.6,2068.6 2737.1,2063.0 2737.6,2073.4 2738.1,2069.1 2738.6,2075.2 2739.1,2075.2 2739.6,2069.4 2740.1,2069.4 2740.6,2070.1 2741.1,2078.6 2741.6,2079.6 2742.1,2074.9 2742.6,2074.6 2743.1,2078.0 2743.6,2083.2 2744.1,2083.5 2744.6,2085.5 2745.1,2056.4 2745.7,2020.6 2746.2,1991.3 2746.7,1967.4 2747.2,1947.8 2747.7,1931.7 2748.2,1918.5 2748.7,1907.8 2749.2,1899.0 2749.7,1891.7 2750.2,1885.8 2750.7,1881.0 2751.2,1877.0 2751.7,1873.8 2752.2,1871.1 2752.7,1869.0 2753.2,1867.2 2753.7,1874.4 2754.2,1889.5 2754.7,1905.6 2755.2,1911.2 2755.7,1923.4 2756.2,1943.0 2756.7,1950.4 2757.2,1956.5 2757.7,1962.6 2758.2,1971.9 2758.7,1978.7 2759.2,1986.3 2759.7,1991.4 2760.2,1994.0 2760.7,1997.5 2761.2,2003.0 2761.7,2006.2 2762.2,2009.7 2762.7,2016.3 2763.2,2016.6 2763.8,2026.4 2764.3,2026.7 2764.8,2028.5 2765.3,2032.9 2765.8,2031.2 2766.3,2031.4 2766.8,2034.2 2767.3,2038.8 2767.8,2041.1 2768.3,2041.9 2768.8,2044.3 2769.3,2051.4 2769.8,2044.9 2770.3,2051.0 2770.8,2051.9 2771.3,2052.5 2771.8,2058.4 2772.3,2054.9 2772.8,2054.6 2773.3,2057.2 2773.8,2066.7 2774.3,2061.7 2774.8,2060.8 2775.3,2070.6 2775.8,2068.6 2776.3,2073.0 2776.8,2067.9 2777.3,2073.9 2777.8,2067.4 2778.3,2070.5 2778.8,2077.2 2779.3,2075.5 2779.8,2079.3 2780.3,2076.3 2780.8,2082.3 2781.3,2075.3 2781.9,2081.8 2782.4,2078.4 2782.9,2068.6 2783.4,2030.6 2783.9,1999.5 2784.4,1974.1 2784.9,1953.2 2785.4,1936.2 2785.9,1922.2 2786.4,1910.8 2786.9,1901.4 2787.4,1893.8 2787.9,1887.5 2788.4,1882.4 2788.9,1878.1 2789.4,1874.7 2789.9,1871.9 2790.4,1869.6 2790.9,1867.7 2791.4,1866.1 2791.9,1879.0 2792.4,1901.7 2792.9,1911.4 2793.4,1927.9 2793.9,1934.0 2794.4,1948.7 2794.9,1959.7 2795.4,1965.2 2795.9,1968.8 2796.4,1980.0 2796.9,1989.1 2797.4,1993.3 2797.9,1994.9 2798.4,1999.3 2798.9,2000.7 2799.5,2011.5 2800.0,2009.2 2800.5,2013.3 2801.0,2014.7 2801.5,2019.1 2802.0,2024.2 2802.5,2027.9 2803.0,2027.5 2803.5,2032.4 2804.0,2038.1 2804.5,2033.7 2805.0,2036.2 2805.5,2042.1 2806.0,2047.9 2806.5,2049.9 2807.0,2048.2 2807.5,2045.2 2808.0,2054.7 2808.5,2057.5 2809.0,2058.2 2809.5,2056.1 2810.0,2056.1 2810.5,2059.6 2811.0,2063.0 2811.5,2066.5 2812.0,2062.8 2812.5,2064.3 2813.0,2063.6 2813.5,2067.2 2814.0,2068.5 2814.5,2067.1 2815.0,2070.0 2815.5,2075.8 2816.0,2070.1 2816.5,2071.4 2817.0,2073.0 2817.6,2079.7 2818.1,2075.2 2818.6,2081.5 2819.1,2083.5 2819.6,2084.0 2820.1,2084.3 2820.6,2081.5 2821.1,2041.2 2821.6,2008.2 2822.1,1981.2 2822.6,1959.1 2823.1,1941.0 2823.6,1926.1 2824.1,1914.0 2824.6,1904.0 2825.1,1895.9 2825.6,1889.2 2826.1,1883.8 2826.6,1879.3 2827.1,1875.7 2827.6,1872.7 2828.1,1870.2 2828.6,1868.2 2829.1,1866.6 2829.6,1873.8 2830.1,1892.8 2830.6,1911.2 2831.1,1918.6 2831.6,1933.9 2832.1,1947.1 2832.6,1957.3 2833.1,1960.0 2833.6,1965.5 2834.1,1971.7 2834.6,1980.9 2835.1,1989.1 2835.7,1991.8 2836.2,2002.1 2836.7,2004.9 2837.2,2008.8 2837.7,2014.7 2838.2,2013.4 2838.7,2019.9 2839.2,2020.1 2839.7,2022.4 2840.2,2023.5 2840.7,2032.8 2841.2,2036.5 2841.7,2030.1 2842.2,2039.2 2842.7,2034.8 2843.2,2040.5 2843.7,2041.4 2844.2,2049.2 2844.7,2046.3 2845.2,2048.9 2845.7,2049.0 2846.2,2049.7 2846.7,2051.2 2847.2,2050.9 2847.7,2051.9 2848.2,2058.8 2848.7,2062.1 2849.2,2062.8 2849.7,2060.1 2850.2,2068.7 2850.7,2060.9 2851.2,2065.7 2851.7,2066.0 2852.2,2065.7 2852.7,2074.7 2853.3,2073.4 2853.8,2068.7 2854.3,2070.3 2854.8,2077.8 2855.3,2074.5 2855.8,2074.8 2856.3,2075.9 2856.8,2077.2 2857.3,2080.8 2857.8,2079.1 2858.3,2082.9 2858.8,2052.5 2859.3,2017.4 2859.8,1988.7 2860.3,1965.2 2860.8,1946.0 2861.3,1930.3 2861.8,1917.4 2862.3,1906.8 2862.8,1898.2 2863.3,1891.1 2863.8,1885.3 2864.3,1880.6 2864.8,1876.7 2865.3,1873.5 2865.8,1870.9 2866.3,1868.8 2866.8,1867.0 2867.3,1867.1 2867.8,1888.9 2868.3,1904.6 2868.8,1915.5 2869.3,1933.1 2869.8,1944.7 2870.3,1951.8 2870.8,1958.2 2871.4,1963.7 2871.9,1975.6 2872.4,1978.8 2872.9,1983.6 2873.4,1992.7 2873.9,1994.4 2874.4,2003.5 2874.9,2009.0 2875.4,2005.4 2875.9,2015.3 2876.4,2014.4 2876.9,2019.0 2877.4,2025.9 2877.9,2031.2 2878.4,2027.3 2878.9,2034.3 2879.4,2032.6 2879.9,2040.8 2880.4,2035.3 2880.9,2042.3 2881.4,2038.5 2881.9,2045.2 2882.4,2048.9 2882.9,2052.4 2883.4,2052.6 2883.9,2052.1 2884.4,2052.3 2884.9,2056.1 2885.4,2057.8 2885.9,2058.9 2886.4,2061.4 2886.9,2063.1 2887.4,2066.4 2887.9,2064.6 2888.4,2068.5 2888.9,2068.4 2889.5,2066.1 2890.0,2071.5 2890.5,2068.4 2891.0,2074.2 2891.5,2075.9 2892.0,2077.2 2892.5,2078.4 2893.0,2077.4 2893.5,2076.5 2894.0,2075.5 2894.5,2080.0 2895.0,2083.6 2895.5,2079.2 2896.0,2078.8 2896.5,2064.4 2897.0,2027.2 2897.5,1996.7 2898.0,1971.8 2898.5,1951.4 2899.0,1934.7 2899.5,1921.0 2900.0,1909.8 2900.5,1900.6 2901.0,1893.1 2901.5,1886.9 2902.0,1881.9 2902.5,1877.8 2903.0,1874.4 2903.5,1871.6 2904.0,1869.4 2904.5,1867.5 2905.0,1868.6 2905.5,1887.7 2906.0,1896.4 2906.5,1909.8 2907.0,1922.1 2907.6,1937.7 2908.1,1950.7 2908.6,1954.0 2909.1,1967.6 2909.6,1967.7 2910.1,1976.1 2910.6,1985.6 2911.1,1993.4 2911.6,1995.9 2912.1,2002.6 2912.6,2003.7 2913.1,2007.9 2913.6,2013.1 2914.1,2011.5 2914.6,2016.7 2915.1,2021.3 2915.6,2027.2 2916.1,2025.4 2916.6,2028.4 2917.1,2038.3 2917.6,2037.2 2918.1,2037.1 2918.6,2042.9 2919.1,2044.2 2919.6,2047.2 2920.1,2046.5 2920.6,2048.9 2921.1,2045.4 2921.6,2050.4 2922.1,2051.7 2922.6,2051.9 2923.1,2054.5 2923.6,2061.3 2924.1,2056.1 2924.6,2056.4 2925.2,2060.0 2925.7,2059.7 2926.2,2059.6 2926.7,2069.8 2927.2,2067.4 2927.7,2063.4 2928.2,2069.7 2928.7,2067.3 2929.2,2071.6 2929.7,2077.3 2930.2,2078.8 2930.7,2074.1 2931.2,2079.0 2931.7,2077.2 2932.2,2074.1 2932.7,2078.3 2933.2,2083.5 2933.7,2084.1 2934.2,2077.1 2934.7,2037.6 2935.2,2005.2 2935.7,1978.8 2936.2,1957.1 2936.7,1939.3 2937.2,1924.8 2937.7,1912.9 2938.2,1903.2 2938.7,1895.2 2939.2,1888.6 2939.7,1883.3 2940.2,1878.9 2940.7,1875.3 2941.2,1872.4 2941.7,1870.0 2942.2,1868.0 2942.7,1866.4 2943.3,1880.8 2943.8,1899.7 2944.3,1908.1 2944.8,1924.4 2945.3,1937.2 2945.8,1948.7 2946.3,1957.6 2946.8,1966.1 2947.3,1968.4 2947.8,1975.8 2948.3,1984.6 2948.8,1985.4 2949.3,1992.6 2949.8,1998.1 2950.3,2000.9 2950.8,2004.8 2951.3,2013.4 2951.8,2013.5 2952.3,2014.3 2952.8,2024.9 2953.3,2029.3 2953.8,2024.8 2954.3,2032.1 2954.8,2028.5 2955.3,2032.3 2955.8,2033.9 2956.3,2040.9 2956.8,2042.1 2957.3,2046.7 2957.8,2046.9 2958.3,2049.7 2958.8,2052.7 2959.3,2051.5 2959.8,2049.5 2960.3,2050.5 2960.8,2059.0 2961.4,2060.2 2961.9,2059.9 2962.4,2064.4 2962.9,2064.3 2963.4,2061.6 2963.9,2060.8 2964.4,2064.5 2964.9,2070.7 2965.4,2071.7 2965.9,2064.1 2966.4,2065.3 2966.9,2070.8 2967.4,2076.6 2967.9,2077.4 2968.4,2078.1 2968.9,2071.6 2969.4,2074.0 2969.9,2080.7 2970.4,2078.4 2970.9,2078.2 2971.4,2085.7 2971.9,2077.2 2972.4,2048.6 2972.9,2014.3 2973.4,1986.2 2973.9,1963.1 2974.4,1944.3 2974.9,1928.9 2975.4,1916.2 2975.9,1905.9 2976.4,1897.4 2976.9,1890.5 2977.4,1884.8 2977.9,1880.1 2978.4,1876.3 2978.9,1873.2 2979.5,1870.7 2980.0,1868.6 2980.5,1866.9 2981.0,1873.2 2981.5,1894.0 2982.0,1907.2 2982.5,1922.5 2983.0,1928.3 2983.5,1942.0 2984.0,1955.9 2984.5,1956.2 2985.0,1967.1 2985.5,1979.9 2986.0,1978.1 2986.5,1990.2 2987.0,1995.4 2987.5,1995.5 2988.0,2007.4 2988.5,2009.6 2989.0,2007.0 2989.5,2019.3 2990.0,2021.6 2990.5,2020.8 2991.0,2019.3 2991.5,2029.6 2992.0,2030.3 2992.5,2034.4 2993.0,2030.1 2993.5,2036.4 2994.0,2041.9 2994.5,2043.2 2995.0,2039.6 2995.5,2043.1 2996.0,2046.2 2996.5,2048.0 2997.1,2055.0 2997.6,2056.1 2998.1,2048.4 2998.6,2056.2 2999.1,2052.9 2999.6,2061.6 3000.1,2059.7 3000.6,2064.8 3001.1,2066.3 3001.6,2067.9 3002.1,2061.5 3002.6,2061.8 3003.1,2070.1 3003.6,2068.3 3004.1,2072.6 3004.6,2070.4 3005.1,2071.3 3005.6,2075.7 3006.1,2073.1 3006.6,2075.5 3007.1,2075.6 3007.6,2079.4 3008.1,2074.4 3008.6,2079.4 3009.1,2081.6 3009.6,2083.6 3010.1,2060.3 3010.6,2023.9 3011.1,1994.0 3011.6,1969.6 3012.1,1949.6 3012.6,1933.2 3013.1,1919.7 3013.6,1908.8 3014.1,1899.8 3014.6,1892.4 3015.2,1886.4 3015.7,1881.4 3016.2,1877.4 3016.7,1874.1 3017.2,1871.4 3017.7,1869.2 3018.2,1867.4 3018.7,1871.9 3019.2,1884.0 3019.7,1905.4 3020.2,1916.7 3020.7,1926.0 3021.2,1938.9 3021.7,1946.9 3022.2,1958.9 3022.7,1960.8 3023.2,1976.9 3023.7,1978.2 3024.2,1980.9 3024.7,1987.2 3025.2,1994.9 3025.7,1998.8 3026.2,2008.9 3026.7,2008.3 3027.2,2017.5 3027.7,2014.6 3028.2,2018.5 3028.7,2027.6 3029.2,2029.5 3029.7,2033.0 3030.2,2027.4 3030.7,2029.3 3031.2,2037.9 3031.7,2036.5 3032.2,2036.3 3032.7,2038.2 3033.3,2042.5 3033.8,2044.2 3034.3,2049.5 3034.8,2054.5 3035.3,2048.0 3035.8,2055.9 3036.3,2055.5 3036.8,2059.7 3037.3,2062.5 3037.8,2063.2 3038.3,2056.7 3038.8,2064.2 3039.3,2065.9 3039.8,2063.3 3040.3,2061.1 3040.8,2069.6 3041.3,2069.5 3041.8,2072.1 3042.3,2073.2 3042.8,2074.2 3043.3,2068.4 3043.8,2078.5 3044.3,2079.8 3044.8,2074.8 3045.3,2080.2 3045.8,2082.8 3046.3,2078.8 3046.8,2078.8 3047.3,2082.5 3047.8,2072.8 3048.3,2034.1 3048.8,2002.4 3049.3,1976.4 3049.8,1955.1 3050.3,1937.7 3050.9,1923.5 3051.4,1911.8 3051.9,1902.3 3052.4,1894.5 3052.9,1888.1 3053.4,1882.8 3053.9,1878.5 3054.4,1875.0 3054.9,1872.1 3055.4,1869.8 3055.9,1867.9 3056.4,1866.3 3056.9,1883.1 3057.4,1895.5 3057.9,1912.7 3058.4,1928.1 3058.9,1933.8 3059.4,1949.5 3059.9,1951.1 3060.4,1964.1 3060.9,1974.1 3061.4,1976.7 3061.9,1981.8 3062.4,1987.5 3062.9,1993.6 3063.4,1998.7 3063.9,2003.4 3064.4,2005.8 3064.9,2013.2 3065.4,2013.0 3065.9,2016.7 3066.4,2021.8 3066.9,2029.2 3067.4,2025.6 3067.9,2027.3 3068.4,2035.7 3069.0,2036.1 3069.5,2033.7 3070.0,2044.4 3070.5,2038.7 3071.0,2045.0 3071.5,2042.9 3072.0,2050.6 3072.5,2047.8 3073.0,2052.1 3073.5,2055.4 3074.0,2056.1 3074.5,2053.7 3075.0,2055.1 3075.5,2059.4 3076.0,2060.2 3076.5,2063.5 3077.0,2058.4 3077.5,2059.7 3078.0,2060.4 3078.5,2069.7 3079.0,2064.6 3079.5,2071.6 3080.0,2069.9 3080.5,2076.0 3081.0,2074.0 3081.5,2077.2 3082.0,2070.9 3082.5,2079.9 3083.0,2075.9 3083.5,2073.5 3084.0,2082.7 3084.5,2077.5 3085.0,2082.7 3085.5,2077.3 3086.0,2044.9 3086.5,2011.2 3087.1,1983.6 3087.6,1961.1 3088.1,1942.6 3088.6,1927.5 3089.1,1915.1 3089.6,1904.9 3090.1,1896.6 3090.6,1889.9 3091.1,1884.3 3091.6,1879.7 3092.1,1876.0 3092.6,1872.9 3093.1,1870.4 3093.6,1868.4 3094.1,1866.7 3094.6,1874.5 3095.1,1891.4 3095.6,1906.1 3096.1,1923.1 3096.6,1929.6 3097.1,1946.5 3097.6,1948.6 3098.1,1965.4 3098.6,1966.4 3099.1,1977.5 3099.6,1986.5 3100.1,1989.9 3100.6,1997.0 3101.1,1994.3 3101.6,2007.6 3102.1,2002.6 3102.6,2012.8 3103.1,2018.0 3103.6,2020.8 3104.1,2023.6 3104.6,2025.3 3105.2,2031.9 3105.7,2026.9 3106.2,2036.3 3106.7,2037.6 3107.2,2033.8 3107.7,2038.6 3108.2,2040.4 3108.7,2039.6 3109.2,2048.5 3109.7,2050.4 3110.2,2051.1 3110.7,2045.7 3111.2,2054.3 3111.7,2057.9 3112.2,2057.3 3112.7,2061.0 3113.2,2062.7 3113.7,2061.6 3114.2,2063.4 3114.7,2060.4 3115.2,2066.4 3115.7,2063.1 3116.2,2063.9 3116.7,2065.8 3117.2,2066.8 3117.7,2065.3 3118.2,2067.6 3118.7,2070.1 3119.2,2070.6 3119.7,2069.8 3120.2,2078.0 3120.7,2080.0 3121.2,2076.1 3121.7,2081.0 3122.2,2083.5 3122.8,2076.2 3123.3,2082.6 3123.8,2056.4 3124.3,2020.6 3124.8,1991.3 3125.3,1967.4 3125.8,1947.8 3126.3,1931.7 3126.8,1918.5 3127.3,1907.8 3127.8,1899.0 3128.3,1891.7 3128.8,1885.8 3129.3,1881.0 3129.8,1877.0 3130.3,1873.8 3130.8,1871.1 3131.3,1869.0 3131.8,1867.2 3132.3,1869.2 3132.8,1876.0 3133.3,1893.4 3133.8,1901.8 3134.3,1907.7 3134.8,1915.7 3135.3,1926.1 3135.8,1925.3 3136.3,1939.9 3136.8,1942.4 3137.3,1945.8 3137.8,1950.6 3138.3,1958.3 3138.8,1958.5 3139.3,1970.1 3139.8,1970.0 3140.3,1978.7 3140.9,1982.9 3141.4,1984.8 3141.9,1981.2 3142.4,1985.7 3142.9,1992.5 3143.4,1998.4 3143.9,1998.0 3144.4,1997.9 3144.9,2004.9 3145.4,2003.8 3145.9,2007.4 3146.4,2008.3 3146.9,2015.3 3147.4,2014.0 3147.9,2011.0 3148.4,2018.3 3148.9,2017.7 3149.4,2017.2 3149.9,2022.2 3150.4,2021.7 3150.9,2030.2 3151.4,2024.5 3151.9,2029.4 3152.4,2025.5 3152.9,2030.0 3153.4,2035.0 3153.9,2034.9 3154.4,2038.0 3154.9,2038.5 3155.4,2040.2 3155.9,2038.0 3156.4,2046.0 3156.9,2044.5 3157.4,2039.5 3157.9,2048.9 3158.4,2043.4 3159.0,2047.1 3159.5,2050.6 3160.0,2054.2 3160.5,2048.1 3161.0,2050.4 3161.5,2053.7 3162.0,2056.5 3162.5,2055.3 3163.0,2058.8 3163.5,2062.7 3164.0,2054.5 3164.5,2058.8 3165.0,2063.7 3165.5,2064.8 3166.0,2067.2 3166.5,2062.0 3167.0,2062.0 3167.5,2067.1 3168.0,2069.6 3168.5,2070.2 3169.0,2068.4 3169.5,2065.2 3170.0,2071.8 3170.5,2068.2 3171.0,2066.7 3171.5,2067.3 3172.0,2071.4 3172.5,2072.6 3173.0,2075.0 3173.5,2074.8 3174.0,2076.2 3174.5,2078.2 3175.0,2074.4 3175.5,2081.3 3176.0,2080.7 3176.6,2082.8 3177.1,2081.0 3177.6,2081.4 3178.1,2085.1 3178.6,2084.0 3179.1,2080.7 3179.6,2087.3 3180.1,2081.2 3180.6,2082.7 3181.1,2088.8 3181.6,2085.7 3182.1,2083.2 3182.6,2091.3 3183.1,2088.8 3183.6,2083.6 3184.1,2087.5 3184.6,2088.0 3185.1,2087.9 3185.6,2092.9 3186.1,2088.5 3186.6,2087.5 3187.1,2095.8 3187.6,2093.5 3188.1,2093.0 3188.6,2097.6 3189.1,2096.0 3189.6,2098.2 3190.1,2093.5 3190.6,2093.7 3191.1,2094.4 3191.6,2096.2 3192.1,2097.7 3192.6,2094.4 3193.1,2098.5 3193.6,2102.7 3194.1,2101.2 3194.7,2094.2 3195.2,2099.3 3195.7,2101.2 3196.2,2095.9 3196.7,2105.6 3197.2,2104.0 3197.7,2102.1 3198.2,2102.0 3198.7,2103.6 3199.2,2101.6 3199.7,2103.7 3200.2,2103.4 3200.7,2102.1 3201.2,2103.7 3201.7,2099.9 3202.2,2105.8 3202.7,2102.4 3203.2,2103.0 3203.7,2102.2 3204.2,2108.5 3204.7,2105.8 3205.2,2107.4 3205.7,2107.0 3206.2,2108.1 3206.7,2106.1 3207.2,2105.4 3207.7,2110.7 3208.2,2110.6 3208.7,2105.2 3209.2,2105.3 3209.7,2107.7 3210.2,2112.4 3210.7,2107.8 3211.2,2107.2 3211.7,2109.5 3212.2,2110.5 3212.8,2112.0 3213.3,2109.2 3213.8,2110.2 3214.3,2116.3 3214.8,2114.3 3215.3,2109.1 3215.8,2112.2 3216.3,2108.9 3216.8,2117.4 3217.3,2110.4 3217.8,2117.3 3218.3,2110.4 3218.8,2110.7 3219.3,2112.1 3219.8,2112.1 3220.3,2112.5 3220.8,2113.2 3221.3,2113.5 3221.8,2110.8 3222.3,2116.1 3222.8,2116.9 3223.3,2112.4 3223.8,2111.7 3224.3,2110.9 3224.8,2112.6 3225.3,2116.1 3225.8,2117.3 3226.3,2120.6 3226.8,2119.6 3227.3,2113.2 3227.8,2114.3 3228.3,2113.9 3228.8,2112.8 3229.3,2112.5 3229.8,2117.8 3230.3,2122.1 3230.9,2122.5 3231.4,2113.1 3231.9,2115.5 3232.4,2116.6 3232.9,2121.8 3233.4,2114.4 3233.9,2117.9 3234.4,2122.4 3234.9,2121.6 3235.4,2115.7 3235.9,2119.2 3236.4,2121.0 3236.9,2115.6 3237.4,2123.0 3237.9,2121.3 3238.4,2118.3 3238.9,2118.1 3239.4,2115.8 3239.9,2124.0 3240.4,2117.0 3240.9,2121.1 3241.4,2122.3 3241.9,2121.5 3242.4,2123.5 3242.9,2118.4 3243.4,2122.4 3243.9,2118.0 3244.4,2123.1 3244.9,2123.6 3245.4,2120.8 3245.9,2123.6 3246.4,2123.1 3246.9,2116.6 3247.4,2118.7 3247.9,2118.7 3248.5,2123.6 3249.0,2125.1 3249.5,2119.2 3250.0,2126.2 3250.5,2119.0 3251.0,2121.5 3251.5,2125.7 3252.0,2120.2 3252.5,2126.0 3253.0,2117.9 3253.5,2120.5 3254.0,2126.1 3254.5,2124.3 3255.0,2119.0 3255.5,2122.8 3256.0,2123.2 3256.5,2118.3 3257.0,2127.4 3257.5,2118.4 3258.0,2127.5 3258.5,2125.2 3259.0,2124.9 3259.5,2122.1 3260.0,2120.9 3260.5,2123.5 3261.0,2128.1 3261.5,2119.6 3262.0,2123.5 3262.5,2124.9 3263.0,2128.6 3263.5,2126.0 3264.0,2128.5 3264.5,2126.0 3265.0,2123.4 3265.5,2128.5 3266.0,2119.6 3266.6,2126.7 3267.1,2119.5 3267.6,2120.3 3268.1,2119.9 3268.6,2124.0 3269.1,2127.5 3269.6,2127.5 3270.1,2125.8 3270.6,2123.4 3271.1,2122.6 3271.6,2124.3 3272.1,2123.1 3272.6,2125.0 3273.1,2126.4 3273.6,2120.9 3274.1,2129.3 3274.6,2121.3 3275.1,2128.8 3275.6,2120.3 3276.1,2120.2 3276.6,2129.8 3277.1,2123.5 3277.6,2124.2 3278.1,2128.0 3278.6,2121.2 3279.1,2126.5 3279.6,2129.1 3280.1,2125.3 3280.6,2120.7 3281.1,2122.0 3281.6,2129.3 3282.1,2122.6 3282.6,2127.7 3283.1,2127.1 3283.6,2128.4 3284.1,2127.2 3284.7,2126.1 3285.2,2128.8 3285.7,2128.0 3286.2,2123.1 3286.7,2121.6 3287.2,2126.8 3287.7,2126.7 3288.2,2127.6 3288.7,2123.9 3289.2,2130.9 3289.7,2127.0 3290.2,2125.3 3290.7,2122.8 3291.2,2123.0 3291.7,2123.9 3292.2,2128.0 3292.7,2125.3 3293.2,2129.4 3293.7,2124.5 3294.2,2129.7 3294.7,2131.0" fill="none" stroke="#1b7d77" stroke-width="7.0" stroke-linejoin="round" stroke-linecap="round"/><polyline points="2664.7,2413.9 2665.2,2413.8 2665.7,2413.7 2666.2,2413.6 2666.7,2413.5 2667.2,2413.4 2667.7,2413.4 2668.2,2413.3 2668.7,2413.2 2669.2,2413.1 2669.7,2413.0 2670.2,2412.9 2670.7,2412.8 2671.2,2412.8 2671.7,2412.7 2672.2,2412.6 2672.7,2412.5 2673.2,2412.4 2673.8,2412.3 2674.3,2412.2 2674.8,2412.2 2675.3,2412.1 2675.8,2412.0 2676.3,2411.9 2676.8,2411.8 2677.3,2411.7 2677.8,2411.6 2678.3,2411.6 2678.8,2411.5 2679.3,2411.4 2679.8,2411.3 2680.3,2411.2 2680.8,2411.1 2681.3,2411.0 2681.8,2411.0 2682.3,2410.9 2682.8,2410.8 2683.3,2410.7 2683.8,2410.6 2684.3,2410.5 2684.8,2410.4 2685.3,2410.4 2685.8,2410.3 2686.3,2410.2 2686.8,2410.1 2687.3,2410.0 2687.8,2409.9 2688.3,2409.8 2688.8,2409.8 2689.3,2409.7 2689.8,2409.6 2690.3,2409.5 2690.8,2409.4 2691.3,2409.3 2691.9,2409.2 2692.4,2409.1 2692.9,2409.1 2693.4,2409.0 2693.9,2408.9 2694.4,2408.8 2694.9,2408.7 2695.4,2408.6 2695.9,2408.5 2696.4,2408.5 2696.9,2408.4 2697.4,2408.3 2697.9,2408.2 2698.4,2408.1 2698.9,2408.0 2699.4,2407.9 2699.9,2407.9 2700.4,2407.8 2700.9,2407.7 2701.4,2407.6 2701.9,2407.5 2702.4,2407.4 2702.9,2407.3 2703.4,2407.3 2703.9,2407.2 2704.4,2407.1 2704.9,2407.0 2705.4,2406.9 2705.9,2406.8 2706.4,2406.7 2706.9,2405.2 2707.4,2386.5 2707.9,2372.9 2708.4,2365.6 2708.9,2360.4 2709.4,2357.2 2710.0,2356.9 2710.5,2353.7 2711.0,2354.7 2711.5,2353.5 2712.0,2351.8 2712.5,2352.0 2713.0,2351.9 2713.5,2351.9 2714.0,2353.3 2714.5,2352.3 2715.0,2351.9 2715.5,2352.1 2716.0,2351.4 2716.5,2350.7 2717.0,2351.5 2717.5,2352.8 2718.0,2352.7 2718.5,2350.4 2719.0,2352.3 2719.5,2352.6 2720.0,2352.2 2720.5,2353.2 2721.0,2355.0 2721.5,2361.2 2722.0,2367.6 2722.5,2371.3 2723.0,2377.9 2723.5,2380.2 2724.0,2383.9 2724.5,2385.9 2725.0,2388.2 2725.5,2389.6 2726.0,2392.4 2726.5,2394.0 2727.0,2395.5 2727.6,2395.1 2728.1,2395.7 2728.6,2396.6 2729.1,2398.4 2729.6,2397.0 2730.1,2396.4 2730.6,2398.2 2731.1,2399.5 2731.6,2397.6 2732.1,2398.4 2732.6,2399.3 2733.1,2399.5 2733.6,2398.6 2734.1,2400.0 2734.6,2400.2 2735.1,2399.8 2735.6,2400.4 2736.1,2398.1 2736.6,2398.9 2737.1,2398.9 2737.6,2398.5 2738.1,2398.9 2738.6,2400.3 2739.1,2399.7 2739.6,2398.0 2740.1,2399.4 2740.6,2399.2 2741.1,2398.0 2741.6,2398.2 2742.1,2397.5 2742.6,2398.3 2743.1,2399.1 2743.6,2397.9 2744.1,2397.7 2744.6,2397.4 2745.1,2384.3 2745.7,2367.1 2746.2,2358.1 2746.7,2351.3 2747.2,2348.1 2747.7,2346.4 2748.2,2345.1 2748.7,2343.2 2749.2,2343.6 2749.7,2341.2 2750.2,2342.2 2750.7,2341.0 2751.2,2340.6 2751.7,2340.9 2752.2,2340.3 2752.7,2341.5 2753.2,2340.1 2753.7,2341.8 2754.2,2341.8 2754.7,2339.7 2755.2,2340.7 2755.7,2341.6 2756.2,2341.5 2756.7,2341.5 2757.2,2339.7 2757.7,2341.8 2758.2,2340.0 2758.7,2341.3 2759.2,2351.1 2759.7,2356.6 2760.2,2361.3 2760.7,2365.9 2761.2,2370.6 2761.7,2374.9 2762.2,2375.9 2762.7,2379.9 2763.2,2381.8 2763.8,2384.8 2764.3,2385.0 2764.8,2385.5 2765.3,2387.9 2765.8,2387.3 2766.3,2388.1 2766.8,2391.2 2767.3,2390.7 2767.8,2390.6 2768.3,2390.5 2768.8,2390.6 2769.3,2391.7 2769.8,2391.9 2770.3,2393.7 2770.8,2392.4 2771.3,2392.2 2771.8,2392.6 2772.3,2392.1 2772.8,2392.7 2773.3,2392.4 2773.8,2391.8 2774.3,2392.3 2774.8,2393.5 2775.3,2391.4 2775.8,2392.9 2776.3,2393.8 2776.8,2392.8 2777.3,2392.3 2777.8,2393.5 2778.3,2393.0 2778.8,2391.8 2779.3,2390.7 2779.8,2393.3 2780.3,2391.9 2780.8,2391.4 2781.3,2390.4 2781.9,2391.0 2782.4,2392.4 2782.9,2382.0 2783.4,2362.2 2783.9,2352.2 2784.4,2344.7 2784.9,2337.8 2785.4,2336.2 2785.9,2333.4 2786.4,2332.3 2786.9,2331.2 2787.4,2331.4 2787.9,2329.7 2788.4,2332.1 2788.9,2329.6 2789.4,2332.0 2789.9,2329.0 2790.4,2330.2 2790.9,2329.7 2791.4,2331.9 2791.9,2329.9 2792.4,2331.9 2792.9,2330.0 2793.4,2329.2 2793.9,2330.0 2794.4,2329.1 2794.9,2330.3 2795.4,2329.4 2795.9,2329.5 2796.4,2329.3 2796.9,2337.4 2797.4,2346.7 2797.9,2351.6 2798.4,2357.2 2798.9,2362.3 2799.5,2365.0 2800.0,2369.0 2800.5,2369.9 2801.0,2373.8 2801.5,2376.8 2802.0,2377.1 2802.5,2377.9 2803.0,2381.5 2803.5,2382.2 2804.0,2381.7 2804.5,2381.8 2805.0,2383.3 2805.5,2384.1 2806.0,2383.9 2806.5,2386.0 2807.0,2385.4 2807.5,2386.4 2808.0,2385.8 2808.5,2387.2 2809.0,2386.4 2809.5,2386.1 2810.0,2386.1 2810.5,2387.2 2811.0,2386.6 2811.5,2386.4 2812.0,2385.2 2812.5,2387.3 2813.0,2386.7 2813.5,2387.6 2814.0,2385.8 2814.5,2385.1 2815.0,2384.6 2815.5,2385.4 2816.0,2385.8 2816.5,2385.0 2817.0,2386.4 2817.6,2384.7 2818.1,2386.8 2818.6,2384.5 2819.1,2384.5 2819.6,2384.2 2820.1,2386.1 2820.6,2383.5 2821.1,2360.4 2821.6,2344.6 2822.1,2337.1 2822.6,2330.8 2823.1,2325.6 2823.6,2325.2 2824.1,2323.2 2824.6,2320.7 2825.1,2320.9 2825.6,2318.9 2826.1,2318.9 2826.6,2318.7 2827.1,2320.8 2827.6,2319.6 2828.1,2320.0 2828.6,2320.9 2829.1,2319.0 2829.6,2318.6 2830.1,2318.9 2830.6,2320.9 2831.1,2319.1 2831.6,2318.3 2832.1,2318.3 2832.6,2319.3 2833.1,2320.8 2833.6,2318.8 2834.1,2320.5 2834.6,2324.8 2835.1,2334.8 2835.7,2340.7 2836.2,2345.6 2836.7,2351.0 2837.2,2356.0 2837.7,2359.3 2838.2,2362.6 2838.7,2366.8 2839.2,2366.4 2839.7,2369.3 2840.2,2372.1 2840.7,2374.0 2841.2,2375.2 2841.7,2374.7 2842.2,2375.5 2842.7,2377.8 2843.2,2377.4 2843.7,2379.1 2844.2,2377.0 2844.7,2379.3 2845.2,2379.5 2845.7,2380.5 2846.2,2378.5 2846.7,2379.7 2847.2,2380.5 2847.7,2379.4 2848.2,2378.5 2848.7,2380.2 2849.2,2378.7 2849.7,2378.7 2850.2,2381.2 2850.7,2379.6 2851.2,2381.0 2851.7,2380.9 2852.2,2378.5 2852.7,2378.7 2853.3,2380.2 2853.8,2378.4 2854.3,2378.1 2854.8,2378.0 2855.3,2380.3 2855.8,2380.3 2856.3,2380.1 2856.8,2378.6 2857.3,2378.1 2857.8,2378.9 2858.3,2377.3 2858.8,2356.9 2859.3,2341.4 2859.8,2330.4 2860.3,2321.3 2860.8,2316.3 2861.3,2314.5 2861.8,2313.5 2862.3,2311.2 2862.8,2310.4 2863.3,2310.3 2863.8,2310.1 2864.3,2308.6 2864.8,2308.6 2865.3,2309.0 2865.8,2308.9 2866.3,2310.4 2866.8,2308.0 2867.3,2307.5 2867.8,2309.1 2868.3,2310.3 2868.8,2310.2 2869.3,2307.8 2869.8,2310.4 2870.3,2310.1 2870.8,2308.2 2871.4,2308.1 2871.9,2308.0 2872.4,2311.9 2872.9,2321.3 2873.4,2328.1 2873.9,2335.6 2874.4,2341.5 2874.9,2345.2 2875.4,2350.9 2875.9,2352.9 2876.4,2356.9 2876.9,2358.7 2877.4,2360.8 2877.9,2363.9 2878.4,2366.2 2878.9,2366.7 2879.4,2366.7 2879.9,2367.8 2880.4,2370.7 2880.9,2370.5 2881.4,2370.2 2881.9,2371.0 2882.4,2370.7 2882.9,2372.3 2883.4,2370.9 2883.9,2373.4 2884.4,2371.8 2884.9,2372.4 2885.4,2374.4 2885.9,2371.7 2886.4,2372.6 2886.9,2373.5 2887.4,2373.6 2887.9,2374.1 2888.4,2374.1 2888.9,2373.0 2889.5,2373.9 2890.0,2372.3 2890.5,2373.9 2891.0,2374.0 2891.5,2371.5 2892.0,2373.7 2892.5,2372.3 2893.0,2371.6 2893.5,2371.6 2894.0,2371.9 2894.5,2373.4 2895.0,2373.5 2895.5,2372.7 2896.0,2371.8 2896.5,2356.8 2897.0,2335.3 2897.5,2321.2 2898.0,2313.6 2898.5,2308.6 2899.0,2305.5 2899.5,2303.0 2900.0,2301.9 2900.5,2300.0 2901.0,2299.9 2901.5,2299.2 2902.0,2299.0 2902.5,2299.2 2903.0,2297.1 2903.5,2296.9 2904.0,2297.4 2904.5,2297.9 2905.0,2298.0 2905.5,2296.9 2906.0,2298.6 2906.5,2298.5 2907.0,2297.7 2907.6,2299.3 2908.1,2297.4 2908.6,2297.6 2909.1,2299.6 2909.6,2297.4 2910.1,2297.2 2910.6,2307.0 2911.1,2316.7 2911.6,2324.8 2912.1,2330.6 2912.6,2336.6 2913.1,2341.5 2913.6,2345.2 2914.1,2349.9 2914.6,2352.1 2915.1,2352.5 2915.6,2357.2 2916.1,2358.4 2916.6,2360.0 2917.1,2361.6 2917.6,2362.6 2918.1,2361.7 2918.6,2363.0 2919.1,2364.4 2919.6,2364.6 2920.1,2365.8 2920.6,2365.1 2921.1,2366.2 2921.6,2365.5 2922.1,2365.6 2922.6,2366.7 2923.1,2366.2 2923.6,2366.1 2924.1,2366.4 2924.6,2366.3 2925.2,2366.1 2925.7,2366.3 2926.2,2366.8 2926.7,2365.5 2927.2,2366.2 2927.7,2367.0 2928.2,2366.1 2928.7,2367.4 2929.2,2365.8 2929.7,2366.3 2930.2,2366.2 2930.7,2365.7 2931.2,2366.2 2931.7,2367.3 2932.2,2367.3 2932.7,2364.8 2933.2,2366.8 2933.7,2366.2 2934.2,2359.1 2934.7,2332.4 2935.2,2316.1 2935.7,2306.1 2936.2,2298.4 2936.7,2296.2 2937.2,2293.5 2937.7,2292.0 2938.2,2288.2 2938.7,2287.7 2939.2,2289.6 2939.7,2288.2 2940.2,2287.0 2940.7,2288.3 2941.2,2287.8 2941.7,2288.2 2942.2,2288.6 2942.7,2286.7 2943.3,2286.8 2943.8,2287.9 2944.3,2288.8 2944.8,2287.5 2945.3,2287.7 2945.8,2287.4 2946.3,2286.0 2946.8,2288.6 2947.3,2287.5 2947.8,2286.5 2948.3,2293.9 2948.8,2304.7 2949.3,2314.1 2949.8,2321.3 2950.3,2327.3 2950.8,2332.9 2951.3,2336.4 2951.8,2339.0 2952.3,2342.0 2952.8,2345.9 2953.3,2348.0 2953.8,2349.2 2954.3,2353.1 2954.8,2351.8 2955.3,2353.4 2955.8,2354.5 2956.3,2356.3 2956.8,2357.7 2957.3,2356.8 2957.8,2357.3 2958.3,2359.2 2958.8,2360.1 2959.3,2359.2 2959.8,2360.7 2960.3,2359.9 2960.8,2359.7 2961.4,2359.2 2961.9,2359.2 2962.4,2359.7 2962.9,2361.4 2963.4,2360.6 2963.9,2360.9 2964.4,2361.3 2964.9,2361.2 2965.4,2359.5 2965.9,2359.1 2966.4,2358.6 2966.9,2360.5 2967.4,2358.9 2967.9,2360.7 2968.4,2360.8 2968.9,2358.7 2969.4,2360.6 2969.9,2359.0 2970.4,2359.6 2970.9,2360.5 2971.4,2358.0 2971.9,2358.5 2972.4,2331.3 2972.9,2313.1 2973.4,2300.6 2973.9,2291.1 2974.4,2284.8 2974.9,2283.6 2975.4,2279.9 2975.9,2279.4 2976.4,2279.6 2976.9,2278.5 2977.4,2277.7 2977.9,2277.4 2978.4,2277.0 2978.9,2276.9 2979.5,2276.6 2980.0,2277.4 2980.5,2278.0 2981.0,2275.3 2981.5,2275.9 2982.0,2277.2 2982.5,2277.7 2983.0,2276.9 2983.5,2276.4 2984.0,2275.9 2984.5,2277.1 2985.0,2275.3 2985.5,2275.9 2986.0,2282.4 2986.5,2292.3 2987.0,2301.7 2987.5,2308.3 2988.0,2314.7 2988.5,2322.7 2989.0,2325.5 2989.5,2330.8 2990.0,2334.6 2990.5,2337.2 2991.0,2339.5 2991.5,2342.5 2992.0,2344.3 2992.5,2344.5 2993.0,2346.6 2993.5,2348.8 2994.0,2349.5 2994.5,2349.3 2995.0,2350.8 2995.5,2351.1 2996.0,2350.5 2996.5,2351.1 2997.1,2353.4 2997.6,2353.3 2998.1,2352.4 2998.6,2352.9 2999.1,2352.5 2999.6,2352.1 3000.1,2352.8 3000.6,2353.1 3001.1,2353.3 3001.6,2352.4 3002.1,2354.5 3002.6,2353.5 3003.1,2352.1 3003.6,2354.0 3004.1,2352.4 3004.6,2354.0 3005.1,2353.3 3005.6,2353.5 3006.1,2352.9 3006.6,2354.3 3007.1,2352.6 3007.6,2352.0 3008.1,2353.2 3008.6,2353.6 3009.1,2352.1 3009.6,2352.9 3010.1,2333.1 3010.6,2307.4 3011.1,2294.3 3011.6,2282.9 3012.1,2277.1 3012.6,2272.5 3013.1,2271.4 3013.6,2269.2 3014.1,2267.5 3014.6,2266.6 3015.2,2267.5 3015.7,2265.9 3016.2,2265.4 3016.7,2264.7 3017.2,2267.2 3017.7,2267.1 3018.2,2266.9 3018.7,2267.4 3019.2,2265.7 3019.7,2267.1 3020.2,2266.3 3020.7,2265.2 3021.2,2265.5 3021.7,2265.4 3022.2,2265.4 3022.7,2265.2 3023.2,2265.5 3023.7,2268.5 3024.2,2277.7 3024.7,2289.1 3025.2,2298.7 3025.7,2306.2 3026.2,2310.3 3026.7,2318.0 3027.2,2321.1 3027.7,2326.1 3028.2,2329.3 3028.7,2332.9 3029.2,2335.6 3029.7,2337.2 3030.2,2337.2 3030.7,2339.1 3031.2,2340.4 3031.7,2340.9 3032.2,2342.3 3032.7,2342.9 3033.3,2345.9 3033.8,2345.3 3034.3,2346.6 3034.8,2347.2 3035.3,2347.2 3035.8,2347.1 3036.3,2346.1 3036.8,2346.2 3037.3,2346.6 3037.8,2348.0 3038.3,2346.4 3038.8,2347.1 3039.3,2348.0 3039.8,2345.9 3040.3,2347.6 3040.8,2345.7 3041.3,2346.3 3041.8,2347.6 3042.3,2347.5 3042.8,2348.4 3043.3,2347.4 3043.8,2348.0 3044.3,2347.7 3044.8,2345.9 3045.3,2348.1 3045.8,2345.2 3046.3,2347.2 3046.8,2346.2 3047.3,2345.6 3047.8,2334.4 3048.3,2307.0 3048.8,2289.1 3049.3,2276.1 3049.8,2269.7 3050.3,2263.3 3050.9,2261.8 3051.4,2260.0 3051.9,2258.0 3052.4,2256.2 3052.9,2255.4 3053.4,2254.7 3053.9,2256.5 3054.4,2256.4 3054.9,2254.5 3055.4,2254.2 3055.9,2256.5 3056.4,2256.2 3056.9,2255.2 3057.4,2253.7 3057.9,2256.1 3058.4,2254.4 3058.9,2255.2 3059.4,2254.2 3059.9,2256.2 3060.4,2255.5 3060.9,2253.7 3061.4,2255.7 3061.9,2264.6 3062.4,2277.4 3062.9,2285.5 3063.4,2294.5 3063.9,2301.8 3064.4,2306.9 3064.9,2311.3 3065.4,2316.4 3065.9,2319.2 3066.4,2324.6 3066.9,2325.8 3067.4,2327.2 3067.9,2330.6 3068.4,2332.1 3069.0,2334.2 3069.5,2334.8 3070.0,2334.6 3070.5,2335.3 3071.0,2339.0 3071.5,2338.4 3072.0,2338.3 3072.5,2338.2 3073.0,2340.1 3073.5,2340.7 3074.0,2340.3 3074.5,2339.3 3075.0,2339.7 3075.5,2341.5 3076.0,2340.2 3076.5,2341.0 3077.0,2339.1 3077.5,2340.9 3078.0,2341.7 3078.5,2341.7 3079.0,2341.6 3079.5,2340.2 3080.0,2340.0 3080.5,2340.5 3081.0,2340.2 3081.5,2340.8 3082.0,2340.0 3082.5,2341.5 3083.0,2341.6 3083.5,2339.9 3084.0,2340.6 3084.5,2341.2 3085.0,2341.3 3085.5,2339.7 3086.0,2305.0 3086.5,2282.1 3087.1,2268.2 3087.6,2260.5 3088.1,2253.6 3088.6,2250.9 3089.1,2249.7 3089.6,2246.6 3090.1,2246.2 3090.6,2246.9 3091.1,2245.0 3091.6,2245.8 3092.1,2246.1 3092.6,2244.0 3093.1,2243.8 3093.6,2245.3 3094.1,2244.5 3094.6,2243.7 3095.1,2243.9 3095.6,2244.9 3096.1,2244.0 3096.6,2245.0 3097.1,2243.8 3097.6,2243.7 3098.1,2243.9 3098.6,2245.4 3099.1,2243.5 3099.6,2250.3 3100.1,2262.4 3100.6,2274.6 3101.1,2284.2 3101.6,2290.0 3102.1,2298.8 3102.6,2303.5 3103.1,2307.6 3103.6,2311.7 3104.1,2316.3 3104.6,2318.6 3105.2,2321.5 3105.7,2322.0 3106.2,2325.0 3106.7,2327.3 3107.2,2327.1 3107.7,2328.2 3108.2,2329.1 3108.7,2329.6 3109.2,2330.8 3109.7,2331.1 3110.2,2330.9 3110.7,2332.5 3111.2,2332.8 3111.7,2333.7 3112.2,2332.8 3112.7,2335.0 3113.2,2332.8 3113.7,2333.9 3114.2,2332.8 3114.7,2333.9 3115.2,2333.7 3115.7,2333.9 3116.2,2333.3 3116.7,2333.7 3117.2,2334.6 3117.7,2333.4 3118.2,2333.3 3118.7,2332.8 3119.2,2333.6 3119.7,2333.0 3120.2,2334.3 3120.7,2333.7 3121.2,2332.8 3121.7,2334.0 3122.2,2335.0 3122.8,2333.5 3123.3,2333.2 3123.8,2307.0 3124.3,2280.7 3124.8,2265.2 3125.3,2253.0 3125.8,2244.7 3126.3,2242.0 3126.8,2239.0 3127.3,2236.7 3127.8,2236.2 3128.3,2235.9 3128.8,2234.4 3129.3,2233.5 3129.8,2232.7 3130.3,2233.6 3130.8,2234.2 3131.3,2232.4 3131.8,2235.0 3132.3,2234.0 3132.8,2233.1 3133.3,2233.7 3133.8,2234.3 3134.3,2233.8 3134.8,2233.3 3135.3,2234.7 3135.8,2234.4 3136.3,2235.2 3136.8,2233.4 3137.3,2237.3 3137.8,2250.6 3138.3,2263.1 3138.8,2274.0 3139.3,2281.9 3139.8,2287.7 3140.3,2290.8 3140.9,2295.3 3141.4,2299.8 3141.9,2303.3 3142.4,2303.6 3142.9,2305.3 3143.4,2307.3 3143.9,2308.8 3144.4,2309.5 3144.9,2310.1 3145.4,2311.4 3145.9,2314.1 3146.4,2314.4 3146.9,2315.1 3147.4,2314.8 3147.9,2315.2 3148.4,2315.3 3148.9,2315.4 3149.4,2315.3 3149.9,2315.2 3150.4,2317.0 3150.9,2316.9 3151.4,2317.2 3151.9,2319.1 3152.4,2316.7 3152.9,2317.2 3153.4,2319.5 3153.9,2318.8 3154.4,2319.5 3154.9,2319.8 3155.4,2320.5 3155.9,2320.9 3156.4,2321.0 3156.9,2320.8 3157.4,2320.8 3157.9,2319.8 3158.4,2321.5 3159.0,2321.3 3159.5,2322.2 3160.0,2320.5 3160.5,2323.1 3161.0,2323.2 3161.5,2321.1 3162.0,2323.7 3162.5,2323.8 3163.0,2321.4 3163.5,2322.4 3164.0,2323.2 3164.5,2324.4 3165.0,2324.5 3165.5,2322.7 3166.0,2324.9 3166.5,2324.9 3167.0,2322.9 3167.5,2325.6 3168.0,2324.1 3168.5,2323.6 3169.0,2325.6 3169.5,2325.7 3170.0,2326.7 3170.5,2324.5 3171.0,2324.6 3171.5,2325.0 3172.0,2327.1 3172.5,2327.0 3173.0,2327.6 3173.5,2327.3 3174.0,2327.9 3174.5,2327.6 3175.0,2326.8 3175.5,2327.6 3176.0,2327.0 3176.6,2328.1 3177.1,2325.9 3177.6,2326.7 3178.1,2326.6 3178.6,2328.5 3179.1,2326.4 3179.6,2328.1 3180.1,2329.4 3180.6,2328.8 3181.1,2329.0 3181.6,2327.5 3182.1,2328.5 3182.6,2327.3 3183.1,2328.7 3183.6,2327.5 3184.1,2328.5 3184.6,2329.2 3185.1,2330.0 3185.6,2328.7 3186.1,2330.2 3186.6,2329.7 3187.1,2330.2 3187.6,2330.4 3188.1,2331.4 3188.6,2330.9 3189.1,2331.5 3189.6,2331.1 3190.1,2331.1 3190.6,2331.3 3191.1,2329.6 3191.6,2330.2 3192.1,2330.6 3192.6,2332.1 3193.1,2332.0 3193.6,2331.8 3194.1,2330.8 3194.7,2332.0 3195.2,2331.8 3195.7,2331.5 3196.2,2330.6 3196.7,2332.6 3197.2,2330.2 3197.7,2331.6 3198.2,2332.2 3198.7,2332.3 3199.2,2331.5 3199.7,2331.2 3200.2,2331.5 3200.7,2332.9 3201.2,2333.5 3201.7,2333.5 3202.2,2332.1 3202.7,2332.4 3203.2,2331.4 3203.7,2331.7 3204.2,2331.3 3204.7,2333.0 3205.2,2332.2 3205.7,2331.8 3206.2,2332.6 3206.7,2332.8 3207.2,2331.7 3207.7,2334.5 3208.2,2332.0 3208.7,2333.4 3209.2,2334.7 3209.7,2332.1 3210.2,2332.5 3210.7,2334.3 3211.2,2334.5 3211.7,2334.0 3212.2,2334.5 3212.8,2334.1 3213.3,2334.6 3213.8,2333.0 3214.3,2334.8 3214.8,2335.1 3215.3,2333.2 3215.8,2334.6 3216.3,2332.8 3216.8,2333.7 3217.3,2335.6 3217.8,2334.5 3218.3,2333.4 3218.8,2335.2 3219.3,2334.8 3219.8,2335.2 3220.3,2335.2 3220.8,2333.5 3221.3,2333.7 3221.8,2334.4 3222.3,2333.1 3222.8,2334.0 3223.3,2335.2 3223.8,2334.1 3224.3,2334.2 3224.8,2334.3 3225.3,2335.8 3225.8,2334.0 3226.3,2336.0 3226.8,2335.8 3227.3,2334.0 3227.8,2335.0 3228.3,2334.9 3228.8,2335.4 3229.3,2335.6 3229.8,2335.7 3230.3,2333.8 3230.9,2335.8 3231.4,2334.5 3231.9,2335.4 3232.4,2334.0 3232.9,2336.7 3233.4,2334.0 3233.9,2334.2 3234.4,2334.2 3234.9,2334.2 3235.4,2334.1 3235.9,2336.9 3236.4,2335.5 3236.9,2335.6 3237.4,2337.0 3237.9,2334.2 3238.4,2336.2 3238.9,2335.3 3239.4,2336.4 3239.9,2335.9 3240.4,2336.9 3240.9,2336.6 3241.4,2337.3 3241.9,2335.2 3242.4,2337.3 3242.9,2336.3 3243.4,2334.7 3243.9,2337.5 3244.4,2335.6 3244.9,2335.5 3245.4,2335.8 3245.9,2336.8 3246.4,2336.1 3246.9,2335.9 3247.4,2337.4 3247.9,2335.9 3248.5,2335.6 3249.0,2336.8 3249.5,2337.3 3250.0,2335.5 3250.5,2337.4 3251.0,2335.1 3251.5,2337.3 3252.0,2336.7 3252.5,2336.6 3253.0,2336.9 3253.5,2336.5 3254.0,2335.6 3254.5,2336.0 3255.0,2335.2 3255.5,2336.1 3256.0,2337.6 3256.5,2335.8 3257.0,2338.0 3257.5,2337.0 3258.0,2336.5 3258.5,2337.1 3259.0,2336.7 3259.5,2338.0 3260.0,2335.8 3260.5,2338.0 3261.0,2337.0 3261.5,2337.1 3262.0,2337.8 3262.5,2335.3 3263.0,2338.0 3263.5,2335.5 3264.0,2336.3 3264.5,2335.8 3265.0,2335.9 3265.5,2335.8 3266.0,2338.0 3266.6,2337.5 3267.1,2336.6 3267.6,2338.2 3268.1,2336.6 3268.6,2337.4 3269.1,2335.5 3269.6,2336.3 3270.1,2336.9 3270.6,2336.0 3271.1,2337.8 3271.6,2336.7 3272.1,2338.3 3272.6,2336.0 3273.1,2337.1 3273.6,2337.7 3274.1,2336.8 3274.6,2336.6 3275.1,2336.3 3275.6,2336.3 3276.1,2336.1 3276.6,2337.5 3277.1,2337.9 3277.6,2335.7 3278.1,2338.4 3278.6,2336.8 3279.1,2335.8 3279.6,2336.5 3280.1,2335.9 3280.6,2338.2 3281.1,2337.6 3281.6,2336.2 3282.1,2336.1 3282.6,2336.2 3283.1,2337.4 3283.6,2337.4 3284.1,2338.5 3284.7,2338.3 3285.2,2336.0 3285.7,2337.4 3286.2,2337.5 3286.7,2337.0 3287.2,2336.0 3287.7,2336.8 3288.2,2336.4 3288.7,2338.7 3289.2,2338.4 3289.7,2337.1 3290.2,2336.8 3290.7,2338.6 3291.2,2337.7 3291.7,2338.6 3292.2,2337.4 3292.7,2336.9 3293.2,2337.2 3293.7,2336.0 3294.2,2336.8 3294.7,2336.2" fill="none" stroke="#c4692a" stroke-width="6.0" stroke-linejoin="round" stroke-linecap="round"/><g transform="translate(2682.07,1782.20) scale(1.1458,1)" fill="#000"><text x="0.00" y="0.00" font-size="51.00">808</text><text x="89.25" y="0.00" font-size="51.00">nm</text></g><g transform="translate(2829.81,1831.00) scale(1.1614,1)" fill="#000"><text x="0.00" y="0.00" font-size="51.00" font-style="italic">V</text><text x="31.15" y="7.65" font-size="35.70">1</text><text x="61.75" y="0.00" font-size="51.00">=</text><text x="103.27" y="0.00" font-size="51.00">0</text><text x="141.52" y="0.00" font-size="51.00">V,</text><text x="203.85" y="0.00" font-size="51.00" font-style="italic">V</text><text x="235.00" y="7.65" font-size="35.70">2</text><text x="265.60" y="0.00" font-size="51.00">=</text><text x="307.11" y="0.00" font-size="51.00">5</text><text x="345.36" y="0.00" font-size="51.00">V</text></g><g transform="translate(2776.44,2131.00) scale(1.1859,1)" fill="#000"><text x="0.00" y="0.00" font-size="51.00" font-style="italic">V</text><text x="31.15" y="7.65" font-size="35.70">g</text><text x="61.75" y="0.00" font-size="51.00">=</text><text x="103.27" y="0.00" font-size="51.00">−10</text><text x="195.78" y="0.00" font-size="51.00">V</text></g><g transform="translate(3040.18,2400.20) scale(1.1321,1)" fill="#000"><text x="0.00" y="0.00" font-size="51.00" font-style="italic">V</text><text x="31.15" y="7.65" font-size="35.70">g</text><text x="61.75" y="0.00" font-size="51.00">=</text><text x="103.27" y="0.00" font-size="51.00">10</text><text x="167.02" y="0.00" font-size="51.00">V</text></g><rect x="2664.4" y="1720.6" width="630.6" height="748.6" fill="none" stroke="#000" stroke-width="3.0"/><path d="M2714.0 2469.2V2455.2M2890.0 2469.2V2455.2M3065.6 2469.2V2455.2M3242.3 2469.2V2455.2" stroke="#000" stroke-width="3.0"/><path d="M2664.4 1772.2H2678.4M2664.4 1986.4H2678.4M2664.4 2201.1H2678.4M2664.4 2414.2H2678.4" stroke="#000" stroke-width="3.0"/><g transform="translate(2685.48,2523.60) scale(1.1100,1)" fill="#000"><text x="0.00" y="0.00" font-size="50.00">70</text></g><g transform="translate(2846.99,2523.60) scale(1.1100,1)" fill="#000"><text x="0.00" y="0.00" font-size="50.00">140</text></g><g transform="translate(3023.81,2523.60) scale(1.1100,1)" fill="#000"><text x="0.00" y="0.00" font-size="50.00">210</text></g><g transform="translate(3200.51,2523.60) scale(1.1100,1)" fill="#000"><text x="0.00" y="0.00" font-size="50.00">280</text></g><g transform="translate(2574.99,1789.20) scale(1.1100,1)" fill="#000"><text x="0.00" y="0.00" font-size="50.00">0.3</text></g><g transform="translate(2575.89,2003.40) scale(1.1100,1)" fill="#000"><text x="0.00" y="0.00" font-size="50.00">0.2</text></g><g transform="translate(2576.16,2218.10) scale(1.1100,1)" fill="#000"><text x="0.00" y="0.00" font-size="50.00">0.1</text></g><g transform="translate(2616.56,2431.20) scale(1.1100,1)" fill="#000"><text x="0.00" y="0.00" font-size="50.00">0</text></g><g transform="translate(2893.48,2596.50) scale(1.2111,1)" fill="#000"><text x="0.00" y="0.00" font-size="51.00">Time/s</text></g><g transform="translate(2521.00,2173.00) rotate(-90) scale(1.2323,1) translate(0.20,0)" fill="#000"><text x="0.00" y="0.00" font-size="51.00" font-style="italic">I</text><text x="16.98" y="7.65" font-size="35.70">ds</text><text x="48.73" y="0.00" font-size="51.00">/nA</text></g>
</svg></body></html>
